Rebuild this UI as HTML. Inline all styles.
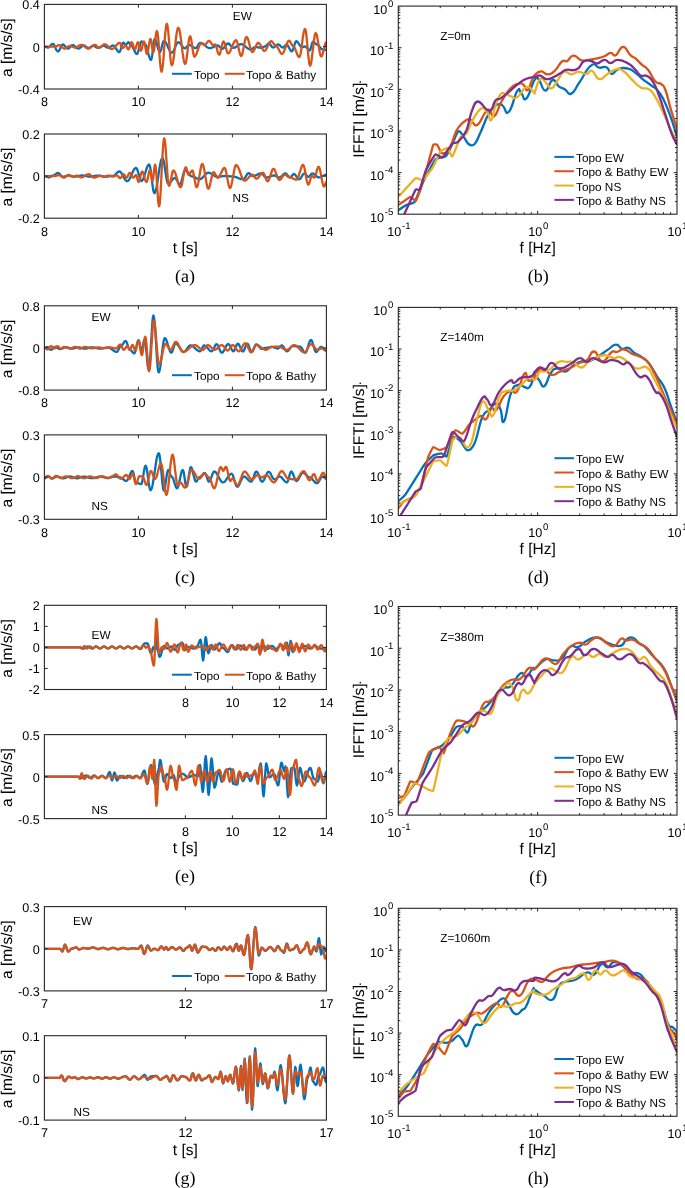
<!DOCTYPE html>
<html><head><meta charset="utf-8"><style>
html,body{margin:0;padding:0;background:#fff;}
body{width:685px;height:1188px;overflow:hidden;}
svg{display:block;will-change:transform;}
text{fill:#000;text-rendering:geometricPrecision;}
</style></head><body>
<svg width="685" height="1188" viewBox="0 0 685 1188">
<rect width="685" height="1188" fill="#fff"/>
<g clip-path="url(#clipL0ew)">
<polyline points="44.4,46.7 44.9,46.7 45.4,46.9 45.9,47.0 46.5,47.2 47.0,47.3 47.5,47.5 48.0,47.5 48.5,47.4 49.1,47.1 49.6,46.6 50.1,46.0 50.7,45.4 51.2,44.8 51.7,44.3 52.3,44.0 52.8,43.9 53.3,44.1 53.8,44.6 54.4,45.5 54.9,46.5 55.4,47.7 55.9,48.9 56.4,49.9 57.0,50.8 57.5,51.3 58.0,51.5 58.5,51.3 59.0,50.7 59.6,49.8 60.1,48.6 60.6,47.4 61.1,46.2 61.7,45.3 62.2,44.7 62.7,44.5 63.2,44.6 63.8,44.9 64.3,45.3 64.8,45.9 65.3,46.5 65.9,47.2 66.4,47.8 66.9,48.2 67.5,48.5 68.0,48.6 68.5,48.5 69.0,48.2 69.5,47.7 70.0,47.2 70.6,46.5 71.1,46.0 71.6,45.5 72.1,45.2 72.6,45.1 73.1,45.2 73.7,45.4 74.2,45.7 74.7,46.1 75.3,46.6 75.8,47.1 76.4,47.6 76.9,48.0 77.4,48.3 78.0,48.5 78.5,48.6 79.0,48.5 79.5,48.3 80.0,48.0 80.5,47.5 81.0,47.1 81.5,46.6 82.0,46.1 82.5,45.8 83.0,45.6 83.5,45.5 84.0,45.6 84.5,45.7 85.0,46.0 85.5,46.4 86.0,46.8 86.5,47.1 87.0,47.5 87.5,47.8 88.0,47.9 88.5,48.0 89.0,47.9 89.5,47.7 90.0,47.5 90.5,47.1 91.0,46.7 91.5,46.4 92.0,46.1 92.5,45.9 93.0,45.8 93.5,45.8 94.0,46.0 94.5,46.2 95.0,46.5 95.5,46.8 96.0,47.1 96.5,47.4 97.0,47.6 97.5,47.8 98.0,47.8 98.5,47.8 99.0,47.6 99.5,47.5 100.0,47.2 100.5,46.9 101.0,46.7 101.5,46.4 102.0,46.1 102.5,46.0 103.0,45.8 103.5,45.8 104.0,45.9 104.6,46.0 105.1,46.3 105.6,46.6 106.2,47.0 106.7,47.3 107.2,47.6 107.8,47.7 108.3,47.8 108.8,47.7 109.3,47.5 109.9,47.2 110.4,46.8 110.9,46.5 111.4,46.1 112.0,45.8 112.5,45.6 113.0,45.5 113.5,45.6 114.0,45.9 114.6,46.5 115.1,47.1 115.6,47.9 116.2,48.8 116.7,49.7 117.2,50.5 117.7,51.1 118.2,51.7 118.8,52.0 119.3,52.1 119.8,51.7 120.3,50.7 120.8,49.2 121.3,47.4 121.8,45.5 122.3,44.0 122.8,43.0 123.3,42.6 123.8,42.8 124.3,43.4 124.8,44.0 125.3,44.6 125.8,44.8 126.3,44.6 126.8,43.9 127.4,43.1 127.9,42.4 128.4,42.2 128.9,42.5 129.4,43.3 130.0,44.4 130.5,45.2 131.0,45.5 131.5,45.7 132.1,46.2 132.6,47.0 133.1,48.0 133.7,49.1 134.2,50.4 134.8,51.5 135.3,52.5 135.8,53.3 136.4,53.8 136.9,54.0 137.4,53.6 137.9,52.5 138.4,50.9 138.9,48.8 139.5,46.7 140.0,44.6 140.5,43.0 141.0,41.9 141.5,41.5 142.0,41.6 142.5,42.0 143.0,42.5 143.5,43.0 144.0,43.5 144.5,43.9 145.0,44.0 145.5,44.3 146.0,45.1 146.5,46.3 147.0,48.0 147.5,49.9 148.0,51.9 148.5,54.0 149.0,55.9 149.5,57.6 150.0,58.8 150.5,59.6 151.0,59.9 151.5,58.9 152.1,55.9 152.6,51.7 153.1,47.1 153.6,42.9 154.2,39.9 154.7,38.9 155.2,39.2 155.7,40.2 156.3,41.6 156.8,43.4 157.3,45.4 157.8,47.5 158.3,49.3 158.9,50.7 159.4,51.7 159.9,52.0 160.4,51.6 160.9,50.4 161.4,48.6 161.9,46.5 162.4,44.3 162.9,42.5 163.4,41.3 163.9,40.9 164.4,41.0 165.0,41.4 165.5,42.0 166.0,42.9 166.5,43.9 167.1,45.0 167.6,46.2 168.1,47.4 168.6,48.6 169.2,49.8 169.7,50.7 170.2,51.6 170.7,52.2 171.3,52.6 171.8,52.7 172.3,52.5 172.8,52.1 173.3,51.4 173.8,50.4 174.3,49.3 174.8,48.1 175.3,46.8 175.8,45.6 176.3,44.5 176.8,43.5 177.3,42.8 177.8,42.4 178.3,42.2 178.8,42.3 179.3,42.5 179.8,43.0 180.3,43.5 180.8,44.2 181.3,44.9 181.9,45.6 182.4,46.3 182.9,47.0 183.4,47.5 183.9,48.0 184.4,48.2 184.9,48.3 185.4,48.2 185.9,47.8 186.4,47.3 186.9,46.6 187.5,46.0 188.0,45.5 188.5,45.1 189.0,45.0 189.5,45.1 190.1,45.2 190.6,45.5 191.1,45.8 191.6,46.1 192.2,46.5 192.7,47.0 193.2,47.3 193.7,47.6 194.2,47.9 194.8,48.0 195.3,48.1 195.8,48.0 196.3,47.6 196.9,47.0 197.4,46.3 197.9,45.5 198.4,44.6 198.9,43.9 199.5,43.3 200.0,42.9 200.5,42.8 201.0,42.8 201.5,43.0 202.0,43.2 202.5,43.4 203.1,43.7 203.6,44.1 204.1,44.5 204.6,45.0 205.1,45.4 205.6,45.9 206.1,46.4 206.6,46.8 207.1,47.2 207.7,47.5 208.2,47.7 208.7,47.9 209.2,48.1 209.7,48.1 210.2,48.1 210.8,48.0 211.3,47.9 211.8,47.7 212.3,47.5 212.9,47.2 213.4,46.9 213.9,46.7 214.4,46.4 215.0,46.1 215.5,45.9 216.0,45.7 216.5,45.6 217.1,45.5 217.6,45.5 218.1,45.6 218.6,45.9 219.1,46.3 219.6,46.9 220.2,47.4 220.7,48.0 221.2,48.4 221.7,48.7 222.2,48.8 222.7,48.7 223.3,48.4 223.8,47.9 224.3,47.3 224.9,46.5 225.4,45.8 226.0,45.0 226.5,44.4 227.0,43.9 227.6,43.6 228.1,43.5 228.6,43.6 229.2,43.9 229.7,44.4 230.2,45.0 230.8,45.6 231.3,46.3 231.8,46.9 232.3,47.4 232.9,47.7 233.4,47.8 233.9,47.8 234.4,47.6 235.0,47.5 235.5,47.2 236.0,46.9 236.5,46.6 237.0,46.2 237.6,45.8 238.1,45.4 238.6,45.1 239.1,44.8 239.6,44.5 240.2,44.4 240.7,44.2 241.2,44.2 241.7,44.2 242.2,44.4 242.7,44.5 243.2,44.8 243.8,45.1 244.3,45.5 244.8,45.9 245.3,46.3 245.8,46.8 246.3,47.3 246.8,47.7 247.3,48.1 247.8,48.5 248.4,48.8 248.9,49.1 249.4,49.2 249.9,49.4 250.4,49.4 250.9,49.3 251.5,49.2 252.0,48.9 252.5,48.6 253.1,48.2 253.6,47.8 254.1,47.5 254.6,47.2 255.2,47.1 255.7,47.0 256.2,47.0 256.8,47.1 257.3,47.2 257.8,47.3 258.4,47.4 258.9,47.5 259.4,47.6 259.9,47.7 260.5,47.8 261.0,47.8 261.5,47.8 262.0,47.6 262.5,47.4 263.0,47.1 263.5,46.9 264.0,46.7 264.5,46.5 265.0,46.5 265.5,46.4 266.1,45.9 266.6,45.3 267.2,44.7 267.7,44.1 268.3,43.6 268.8,43.5 269.3,43.7 269.9,44.1 270.4,44.7 270.9,45.5 271.4,46.3 271.9,46.9 272.5,47.3 273.0,47.5 273.5,47.4 274.0,47.2 274.5,46.9 275.0,46.5 275.5,46.0 276.0,45.5 276.5,45.1 277.0,44.8 277.5,44.6 278.0,44.5 278.5,44.6 279.0,44.8 279.5,45.1 280.0,45.5 280.5,46.0 281.0,46.5 281.5,46.9 282.0,47.2 282.5,47.4 283.0,47.5 283.5,47.4 284.0,46.9 284.5,46.3 285.1,45.7 285.6,45.1 286.1,44.6 286.6,44.5 287.1,44.7 287.6,45.2 288.1,45.9 288.6,46.9 289.1,47.9 289.7,49.0 290.2,50.0 290.7,50.7 291.2,51.2 291.7,51.4 292.2,51.1 292.7,50.2 293.2,48.9 293.7,47.2 294.3,45.4 294.8,43.8 295.3,42.4 295.8,41.5 296.3,41.2 296.8,41.3 297.3,41.7 297.8,42.3 298.3,43.0 298.8,43.8 299.4,44.7 299.9,45.5 300.4,46.2 300.9,46.8 301.4,47.2 301.9,47.3 302.4,47.2 302.9,47.1 303.4,46.9 304.0,46.7 304.5,46.6 305.0,46.5 305.5,46.6 306.0,47.0 306.5,47.5 307.0,48.1 307.6,48.8 308.1,49.4 308.6,49.9 309.1,50.3 309.6,50.4 310.1,50.0 310.6,48.8 311.1,47.0 311.6,45.1 312.1,43.3 312.6,42.1 313.1,41.7 313.6,41.8 314.1,42.1 314.6,42.6 315.1,43.2 315.7,43.8 316.2,44.3 316.7,44.6 317.2,44.7 317.7,44.8 318.2,45.1 318.7,45.6 319.2,46.3 319.8,47.0 320.3,47.7 320.8,48.4 321.3,48.9 321.8,49.2 322.3,49.3 322.8,49.3 323.3,49.4 323.8,49.5 324.4,49.6 324.9,49.7 325.4,49.8 325.9,49.9 326.4,49.9" fill="none" stroke="#0072BD" stroke-width="2.3" stroke-linejoin="round"/>
<polyline points="44.4,46.7 44.9,46.7 45.4,46.7 45.9,46.7 46.4,46.7 46.9,46.7 47.4,46.7 47.9,46.7 48.4,46.7 48.9,46.7 49.4,46.7 50.0,46.7 50.5,46.7 51.0,46.7 51.5,46.7 52.0,46.7 52.5,46.7 53.0,46.7 53.5,46.7 54.0,46.7 54.5,46.7 55.0,46.7 55.5,46.6 56.0,46.5 56.6,46.2 57.1,45.9 57.6,45.6 58.2,45.3 58.7,45.2 59.2,45.1 59.7,45.2 60.2,45.4 60.8,45.8 61.3,46.3 61.8,46.9 62.3,47.4 62.8,47.9 63.4,48.3 63.9,48.5 64.4,48.6 64.9,48.5 65.4,48.4 65.9,48.2 66.4,47.8 66.9,47.5 67.5,47.1 68.0,46.8 68.5,46.4 69.0,46.2 69.5,46.1 70.0,46.0 70.5,46.0 71.0,46.1 71.5,46.3 72.0,46.5 72.5,46.8 73.0,47.0 73.5,47.2 74.0,47.4 74.5,47.5 75.0,47.5 75.5,47.5 76.1,47.3 76.6,47.1 77.1,46.9 77.7,46.5 78.2,46.2 78.7,45.9 79.3,45.5 79.8,45.3 80.3,45.1 80.9,44.9 81.4,44.9 81.9,44.9 82.4,45.1 82.9,45.3 83.4,45.6 83.9,45.9 84.4,46.3 84.9,46.8 85.4,47.2 85.9,47.6 86.4,47.9 86.9,48.2 87.4,48.4 87.9,48.6 88.4,48.6 88.9,48.5 89.5,48.3 90.0,48.0 90.5,47.6 91.1,47.2 91.6,46.7 92.1,46.2 92.7,45.8 93.2,45.4 93.7,45.1 94.3,44.9 94.8,44.8 95.3,44.9 95.8,45.2 96.4,45.7 96.9,46.3 97.4,46.9 98.0,47.4 98.5,47.7 99.0,47.8 99.5,47.7 100.0,47.5 100.6,47.2 101.1,46.8 101.6,46.3 102.1,45.8 102.6,45.3 103.1,44.9 103.7,44.6 104.2,44.4 104.7,44.3 105.2,44.4 105.7,44.5 106.2,44.8 106.7,45.2 107.2,45.6 107.7,46.1 108.2,46.6 108.7,47.2 109.2,47.7 109.7,48.1 110.2,48.5 110.7,48.8 111.2,48.9 111.7,49.0 112.2,48.9 112.7,48.8 113.2,48.5 113.8,48.1 114.3,47.6 114.8,47.1 115.3,46.5 115.8,45.9 116.3,45.3 116.8,44.7 117.3,44.2 117.9,43.7 118.4,43.3 118.9,43.0 119.4,42.9 119.9,42.8 120.4,43.3 120.9,44.6 121.5,46.3 122.0,47.6 122.5,48.1 123.0,47.9 123.5,47.5 124.0,46.8 124.5,46.1 125.0,45.7 125.5,45.5 126.1,45.9 126.7,46.8 127.2,48.1 127.8,49.0 128.4,49.4 128.9,48.9 129.5,47.6 130.1,45.8 130.6,44.0 131.1,42.7 131.7,42.2 132.2,42.7 132.8,44.0 133.3,45.8 133.9,47.6 134.4,48.9 135.0,49.4 135.6,48.7 136.2,46.9 136.7,44.7 137.3,42.9 137.9,42.2 138.4,42.8 138.9,44.3 139.4,46.5 139.9,48.6 140.4,50.1 140.9,50.7 141.4,50.1 141.9,48.4 142.4,46.1 142.9,43.8 143.4,42.1 143.9,41.5 144.4,42.3 144.9,44.6 145.4,47.8 146.0,50.9 146.5,53.2 147.0,54.0 147.5,53.3 148.0,51.2 148.5,48.1 149.0,44.8 149.5,41.7 150.0,39.6 150.5,38.9 151.1,40.2 151.7,43.4 152.2,47.5 152.8,50.7 153.4,52.0 153.9,51.0 154.4,48.0 154.9,43.8 155.4,39.2 155.9,35.0 156.4,32.0 156.9,31.0 157.4,32.2 157.9,35.8 158.5,41.2 159.0,47.9 159.5,54.9 160.0,61.6 160.6,67.0 161.1,70.6 161.6,71.8 162.1,70.6 162.6,67.2 163.2,61.9 163.7,55.2 164.2,47.8 164.7,40.4 165.2,33.7 165.8,28.4 166.3,25.0 166.8,23.8 167.3,24.8 167.8,27.8 168.3,32.3 168.8,38.1 169.3,44.5 169.8,50.9 170.3,56.7 170.8,61.2 171.3,64.2 171.8,65.2 172.3,64.7 172.8,63.1 173.3,60.5 173.8,57.1 174.3,53.1 174.8,48.7 175.3,44.2 175.8,39.8 176.3,35.8 176.8,32.4 177.3,29.8 177.8,28.2 178.3,27.7 178.8,28.2 179.4,29.8 179.9,32.3 180.4,35.5 181.0,39.4 181.5,43.6 182.0,48.0 182.5,52.2 183.1,56.1 183.6,59.3 184.1,61.8 184.7,63.4 185.2,63.9 185.7,63.1 186.3,60.7 186.8,57.0 187.4,52.5 187.9,47.7 188.5,43.2 189.0,39.5 189.6,37.1 190.1,36.3 190.6,37.1 191.2,39.3 191.7,42.6 192.2,46.4 192.8,50.3 193.3,53.6 193.9,55.8 194.4,56.6 194.9,56.4 195.4,55.8 196.0,55.0 196.5,53.8 197.0,52.4 197.5,50.8 198.1,49.3 198.6,47.7 199.1,46.3 199.6,45.1 200.2,44.3 200.7,43.7 201.2,43.5 201.8,43.6 202.3,43.9 202.8,44.2 203.4,44.6 203.9,44.9 204.5,45.0 205.0,44.9 205.5,44.5 206.0,44.0 206.5,43.3 207.1,42.6 207.6,41.9 208.1,41.4 208.6,41.0 209.1,40.9 209.7,41.1 210.2,41.7 210.8,42.5 211.3,43.4 211.9,44.2 212.4,44.8 213.0,45.0 213.5,44.9 214.0,44.8 214.5,44.6 215.0,44.5 215.5,44.9 216.1,46.0 216.6,47.6 217.1,49.6 217.6,51.6 218.1,53.2 218.7,54.3 219.2,54.7 219.7,54.2 220.3,52.8 220.8,50.6 221.3,48.1 221.9,45.6 222.4,43.4 223.0,42.0 223.5,41.5 224.0,41.9 224.5,42.9 225.0,44.5 225.5,46.4 226.1,48.5 226.6,50.4 227.1,52.0 227.6,53.0 228.1,53.4 228.6,53.3 229.2,52.8 229.7,52.1 230.2,51.2 230.7,50.1 231.3,48.8 231.8,47.5 232.3,46.1 232.8,44.8 233.4,43.5 233.9,42.4 234.4,41.5 234.9,40.8 235.5,40.3 236.0,40.2 236.5,40.6 237.0,41.7 237.6,43.5 238.1,45.7 238.6,48.1 239.1,50.5 239.6,52.7 240.2,54.5 240.7,55.6 241.2,56.0 241.7,55.5 242.3,54.2 242.8,52.1 243.3,49.4 243.8,46.5 244.4,43.5 244.9,40.8 245.4,38.7 246.0,37.4 246.5,36.9 247.0,37.2 247.6,38.1 248.1,39.5 248.6,41.3 249.2,43.4 249.7,45.5 250.3,47.6 250.8,49.4 251.3,50.8 251.9,51.7 252.4,52.0 252.9,51.8 253.5,51.3 254.0,50.4 254.5,49.3 255.1,48.1 255.6,46.7 256.2,45.5 256.7,44.4 257.2,43.5 257.8,43.0 258.3,42.8 258.8,42.9 259.3,43.3 259.8,44.0 260.3,44.8 260.8,45.8 261.4,46.8 261.9,47.9 262.4,48.9 262.9,49.7 263.4,50.4 263.9,50.8 264.4,50.9 264.9,50.8 265.4,50.3 266.0,49.7 266.5,48.8 267.0,47.8 267.5,46.6 268.1,45.5 268.6,44.3 269.1,43.3 269.6,42.4 270.2,41.8 270.7,41.3 271.2,41.2 271.7,41.3 272.3,41.8 272.8,42.4 273.3,43.2 273.9,44.0 274.4,44.8 274.9,45.4 275.5,45.9 276.0,46.0 276.5,46.1 277.0,46.5 277.5,47.2 278.0,48.0 278.5,48.9 279.0,49.9 279.5,51.0 280.0,51.9 280.5,52.7 281.0,53.4 281.5,53.8 282.0,53.9 282.5,53.7 283.0,53.2 283.5,52.5 284.0,51.4 284.5,50.2 285.0,48.8 285.6,47.3 286.1,45.8 286.6,44.4 287.1,43.2 287.6,42.1 288.1,41.4 288.6,40.9 289.1,40.7 289.7,41.0 290.2,41.7 290.8,42.8 291.3,43.9 291.9,45.0 292.4,45.7 293.0,46.0 293.5,46.2 294.1,46.7 294.6,47.6 295.1,48.8 295.6,50.1 296.1,51.5 296.7,52.9 297.2,54.2 297.7,55.4 298.2,56.3 298.8,56.8 299.3,57.0 299.8,56.4 300.3,54.8 300.9,52.2 301.4,48.8 301.9,44.9 302.4,41.0 302.9,37.1 303.4,33.7 304.0,31.1 304.5,29.5 305.0,28.9 305.5,29.8 306.0,32.4 306.5,36.5 307.0,41.6 307.6,47.3 308.1,53.0 308.6,58.1 309.1,62.2 309.6,64.8 310.1,65.7 310.6,65.0 311.1,63.1 311.6,60.1 312.1,56.1 312.6,51.7 313.2,47.0 313.7,42.6 314.2,38.6 314.7,35.6 315.2,33.7 315.7,33.0 316.2,33.5 316.7,34.9 317.2,37.1 317.7,39.9 318.2,43.1 318.8,46.4 319.3,49.6 319.8,52.4 320.3,54.6 320.8,56.0 321.3,56.5 321.8,56.2 322.3,55.1 322.8,53.6 323.3,51.6 323.9,49.4 324.4,47.1 324.9,45.1 325.4,43.6 325.9,42.5 326.4,42.2" fill="none" stroke="#D95319" stroke-width="2.3" stroke-linejoin="round"/>
</g>
<clipPath id="clipL0ew"><rect x="44.4" y="4.4" width="282" height="84.6"/></clipPath>
<rect x="44.4" y="4.4" width="282" height="84.6" fill="none" stroke="#262626" stroke-width="1.1"/>
<text x="44.4" y="106.3" font-size="12.6" text-anchor="middle" font-family='"Liberation Sans", sans-serif' >8</text>
<path d="M138.4 89v-3.3M138.4 4.4v3.3" stroke="#262626" stroke-width="1"/>
<text x="138.4" y="106.3" font-size="12.6" text-anchor="middle" font-family='"Liberation Sans", sans-serif' >10</text>
<path d="M232.4 89v-3.3M232.4 4.4v3.3" stroke="#262626" stroke-width="1"/>
<text x="232.4" y="106.3" font-size="12.6" text-anchor="middle" font-family='"Liberation Sans", sans-serif' >12</text>
<text x="326.4" y="106.3" font-size="12.6" text-anchor="middle" font-family='"Liberation Sans", sans-serif' >14</text>
<text x="39.8" y="93.9" font-size="12.6" text-anchor="end" font-family='"Liberation Sans", sans-serif' >-0.4</text>
<path d="M44.4 46.7h3.3M326.4 46.7h-3.3" stroke="#262626" stroke-width="1"/>
<text x="39.8" y="51.6" font-size="12.6" text-anchor="end" font-family='"Liberation Sans", sans-serif' >0</text>
<text x="39.8" y="9.3" font-size="12.6" text-anchor="end" font-family='"Liberation Sans", sans-serif' >0.4</text>
<text transform="translate(11.6 47.7) rotate(-90)" font-size="15.5" text-anchor="middle" font-family='"Liberation Sans", sans-serif' fill="#000">a [m/s/s]</text>
<text x="232.8" y="19.8" font-size="11.8" text-anchor="start" font-family='"Liberation Sans", sans-serif' >EW</text>
<g clip-path="url(#clipL0ns)">
<polyline points="44.4,176.1 44.9,176.1 45.4,176.3 45.9,176.4 46.4,176.6 47.0,176.9 47.5,177.1 48.0,177.2 48.5,177.4 49.0,177.4 49.5,177.3 50.0,177.1 50.5,176.8 51.0,176.5 51.5,176.1 52.0,175.8 52.5,175.6 53.0,175.5 53.5,175.4 54.0,175.3 54.5,175.0 55.0,174.6 55.5,174.2 56.0,173.9 56.5,173.5 57.0,173.2 57.5,173.1 58.0,173.0 58.5,173.1 59.0,173.4 59.5,173.8 60.0,174.3 60.5,174.9 61.0,175.5 61.5,176.0 62.0,176.4 62.5,176.7 63.0,176.8 63.5,176.8 64.0,176.7 64.5,176.6 65.0,176.4 65.5,176.2 66.0,176.0 66.5,175.8 67.0,175.7 67.5,175.6 68.0,175.6 68.5,175.6 69.0,175.6 69.5,175.7 70.0,175.8 70.5,175.9 71.0,176.0 71.5,176.1 72.0,176.2 72.5,176.3 73.0,176.4 73.5,176.5 74.0,176.6 74.5,176.6 75.0,176.6 75.5,176.6 76.0,176.5 76.5,176.5 77.0,176.4 77.5,176.3 78.0,176.2 78.5,176.1 79.0,175.9 79.5,175.8 80.0,175.7 80.5,175.6 81.0,175.6 81.5,175.5 82.0,175.5 82.5,175.5 83.0,175.5 83.5,175.6 84.0,175.7 84.5,175.7 85.0,175.8 85.5,175.9 86.0,176.0 86.5,176.2 87.0,176.3 87.5,176.4 88.0,176.4 88.5,176.5 89.0,176.6 89.5,176.6 90.0,176.6 90.5,176.6 91.0,176.6 91.5,176.5 92.0,176.5 92.5,176.4 93.0,176.3 93.5,176.2 94.0,176.1 94.5,176.0 95.0,175.9 95.5,175.8 96.0,175.7 96.5,175.7 97.0,175.6 97.5,175.6 98.0,175.6 98.5,175.6 99.0,175.6 99.5,175.7 100.0,175.7 100.5,175.8 101.0,175.9 101.5,176.0 102.0,176.1 102.5,176.2 103.0,176.3 103.5,176.4 104.0,176.5 104.5,176.5 105.0,176.6 105.5,176.6 106.0,176.6 106.5,176.6 107.0,176.6 107.5,176.5 108.0,176.4 108.5,176.4 109.0,176.3 109.5,176.2 110.0,176.1 110.5,176.0 111.0,176.0 111.5,175.9 112.0,175.8 112.5,175.8 113.0,175.8 113.5,175.7 114.0,175.5 114.6,175.2 115.1,174.7 115.6,174.2 116.2,173.7 116.7,173.1 117.2,172.6 117.7,172.1 118.2,171.8 118.8,171.6 119.3,171.5 119.8,171.6 120.4,171.9 120.9,172.4 121.4,173.1 121.9,173.9 122.5,174.9 123.0,175.8 123.5,176.9 124.0,177.8 124.6,178.8 125.1,179.6 125.6,180.3 126.1,180.8 126.7,181.1 127.2,181.2 127.7,181.1 128.2,180.8 128.8,180.2 129.3,179.5 129.8,178.6 130.3,177.5 130.8,176.4 131.3,175.2 131.9,174.0 132.4,172.8 132.9,171.7 133.4,170.6 133.9,169.7 134.4,169.0 135.0,168.4 135.5,168.1 136.0,168.0 136.5,168.3 137.0,169.0 137.5,170.2 138.0,171.8 138.5,173.6 139.0,175.4 139.5,177.2 140.0,178.8 140.5,180.0 141.0,180.7 141.5,181.0 142.0,180.8 142.5,180.3 143.0,179.4 143.5,178.3 144.0,176.9 144.5,175.3 145.0,173.6 145.6,171.9 146.1,170.2 146.6,168.6 147.1,167.2 147.6,166.1 148.1,165.2 148.6,164.7 149.1,164.5 149.6,165.2 150.2,167.2 150.7,170.4 151.2,174.4 151.8,178.8 152.3,183.2 152.8,187.2 153.3,190.4 153.9,192.4 154.4,193.1 154.9,192.8 155.4,191.8 155.9,190.2 156.4,188.0 156.9,185.3 157.4,182.3 157.9,179.0 158.4,175.6 158.9,172.2 159.4,168.9 159.9,165.9 160.4,163.2 160.9,161.0 161.4,159.4 161.9,158.4 162.4,158.1 162.9,158.6 163.5,160.1 164.0,162.5 164.5,165.6 165.0,169.0 165.6,172.7 166.1,176.1 166.6,179.2 167.1,181.6 167.7,183.1 168.2,183.6 168.7,183.5 169.2,183.3 169.7,182.9 170.2,182.4 170.7,181.8 171.2,181.1 171.8,180.5 172.3,179.8 172.8,179.2 173.3,178.7 173.8,178.3 174.3,178.1 174.8,178.0 175.3,178.2 175.8,178.6 176.3,179.3 176.8,180.2 177.4,181.2 177.9,182.2 178.4,183.1 178.9,183.8 179.4,184.2 179.9,184.4 180.4,184.1 180.9,183.1 181.4,181.5 181.9,179.6 182.4,177.5 183.0,175.3 183.5,173.4 184.0,171.8 184.5,170.8 185.0,170.5 185.5,170.6 186.0,170.8 186.6,171.2 187.1,171.6 187.6,172.2 188.1,172.8 188.7,173.5 189.2,174.2 189.7,174.8 190.2,175.4 190.7,175.8 191.3,176.2 191.8,176.4 192.3,176.5 192.8,176.5 193.3,176.6 193.9,176.8 194.4,177.0 194.9,177.3 195.4,177.6 195.9,177.9 196.5,178.2 197.0,178.5 197.5,178.8 198.0,179.0 198.6,179.2 199.1,179.3 199.6,179.3 200.1,179.2 200.6,179.1 201.2,178.8 201.7,178.4 202.2,178.0 202.7,177.5 203.2,176.9 203.7,176.3 204.3,175.7 204.8,175.1 205.3,174.5 205.8,174.0 206.3,173.6 206.8,173.2 207.4,172.9 207.9,172.8 208.4,172.7 208.9,172.7 209.4,172.8 209.9,173.0 210.4,173.2 210.9,173.5 211.4,173.8 211.9,174.2 212.4,174.5 213.0,174.9 213.5,175.2 214.0,175.6 214.5,175.9 215.0,176.2 215.5,176.4 216.0,176.6 216.5,176.7 217.0,176.7 217.5,176.7 218.0,176.7 218.5,176.7 219.0,176.6 219.5,176.6 220.0,176.5 220.5,176.5 221.0,176.4 221.5,176.3 222.0,176.3 222.5,176.2 223.0,176.2 223.5,176.1 224.0,176.1 224.5,176.0 225.0,176.0 225.5,176.0 226.0,176.0 226.5,176.0 227.0,176.0 227.5,176.1 228.0,176.1 228.5,176.1 229.0,176.2 229.5,176.3 230.0,176.3 230.5,176.3 231.0,176.4 231.5,176.4 232.0,176.4 232.5,176.4 233.0,176.5 233.6,176.5 234.1,176.6 234.6,176.8 235.1,176.9 235.6,177.1 236.1,177.2 236.7,177.4 237.2,177.6 237.7,177.8 238.2,178.1 238.7,178.3 239.3,178.5 239.8,178.6 240.3,178.8 240.8,178.9 241.3,179.1 241.8,179.2 242.4,179.2 242.9,179.3 243.4,179.3 243.9,179.2 244.4,178.7 244.9,178.0 245.4,177.2 245.9,176.2 246.5,175.3 247.0,174.5 247.5,173.8 248.0,173.3 248.5,173.2 249.0,173.3 249.5,173.5 250.0,173.9 250.5,174.4 251.1,174.9 251.6,175.4 252.1,175.8 252.6,176.0 253.1,176.1 253.6,176.1 254.2,176.0 254.7,175.8 255.2,175.7 255.7,175.4 256.3,175.2 256.8,174.9 257.3,174.6 257.8,174.3 258.4,174.1 258.9,173.8 259.4,173.7 259.9,173.5 260.5,173.4 261.0,173.4 261.5,173.5 262.1,173.8 262.6,174.2 263.1,174.8 263.6,175.4 264.2,176.1 264.7,176.7 265.2,177.1 265.8,177.4 266.3,177.5 266.8,177.5 267.3,177.4 267.8,177.3 268.4,177.2 268.9,177.0 269.4,176.8 269.9,176.6 270.4,176.4 270.9,176.2 271.4,176.0 271.9,175.8 272.5,175.7 273.0,175.6 273.5,175.5 274.0,175.5 274.5,175.5 275.1,175.7 275.6,175.9 276.2,176.2 276.7,176.5 277.2,176.8 277.8,177.1 278.3,177.3 278.9,177.5 279.4,177.5 279.9,177.4 280.5,177.2 281.0,176.8 281.5,176.3 282.1,175.7 282.6,175.2 283.2,174.6 283.7,174.1 284.2,173.7 284.8,173.5 285.3,173.4 285.8,173.5 286.3,173.9 286.9,174.4 287.4,175.1 287.9,175.8 288.4,176.5 289.0,177.0 289.5,177.4 290.0,177.5 290.6,177.3 291.1,176.8 291.7,176.1 292.2,175.4 292.8,174.7 293.3,174.2 293.9,174.0 294.4,174.1 294.9,174.5 295.5,175.1 296.0,175.8 296.5,176.7 297.0,177.5 297.5,178.2 298.1,178.8 298.6,179.2 299.1,179.3 299.6,179.2 300.2,178.7 300.7,178.1 301.2,177.3 301.8,176.4 302.3,175.5 302.8,174.7 303.3,174.1 303.9,173.6 304.4,173.5 305.0,173.7 305.5,174.1 306.1,174.8 306.6,175.5 307.2,176.2 307.7,176.6 308.3,176.8 308.8,176.7 309.3,176.3 309.8,175.8 310.3,175.2 310.8,174.5 311.3,174.0 311.8,173.6 312.3,173.5 312.8,173.6 313.3,173.7 313.8,174.0 314.3,174.3 314.8,174.8 315.3,175.2 315.8,175.7 316.3,176.1 316.8,176.6 317.3,176.9 317.8,177.2 318.3,177.3 318.8,177.4 319.3,177.4 319.8,177.3 320.3,177.2 320.8,177.0 321.3,176.8 321.8,176.5 322.3,176.2 322.9,176.0 323.4,175.7 323.9,175.5 324.4,175.2 324.9,175.0 325.4,174.9 325.9,174.8 326.4,174.8" fill="none" stroke="#0072BD" stroke-width="2.3" stroke-linejoin="round"/>
<polyline points="44.4,176.1 44.9,176.1 45.4,176.1 45.9,176.1 46.4,176.1 46.9,176.1 47.4,176.1 47.9,176.1 48.4,176.1 48.9,176.1 49.5,176.1 50.0,176.1 50.5,176.1 51.0,176.1 51.5,176.1 52.0,176.1 52.5,176.1 53.0,176.1 53.5,176.1 54.0,176.1 54.5,176.1 55.0,176.0 55.5,175.9 56.0,175.8 56.5,175.7 57.0,175.5 57.5,175.4 58.0,175.3 58.5,175.2 59.0,175.2 59.5,175.3 60.0,175.4 60.5,175.7 61.0,176.0 61.5,176.4 62.0,176.8 62.5,177.1 63.0,177.4 63.5,177.5 64.0,177.6 64.5,177.5 65.0,177.3 65.5,176.9 66.0,176.5 66.5,176.1 67.0,175.7 67.5,175.3 68.0,175.1 68.5,175.0 69.0,175.1 69.5,175.2 70.0,175.4 70.5,175.7 71.0,176.1 71.5,176.3 72.0,176.6 72.5,176.7 73.0,176.8 73.5,176.8 74.0,176.6 74.5,176.4 75.0,176.2 75.5,176.0 76.0,175.8 76.5,175.6 77.0,175.6 77.5,175.7 78.0,175.9 78.5,176.2 79.0,176.5 79.5,176.8 80.0,177.1 80.5,177.3 81.0,177.4 81.5,177.4 82.0,177.3 82.5,177.1 83.1,176.9 83.6,176.6 84.1,176.3 84.6,176.0 85.1,175.6 85.6,175.3 86.1,175.0 86.6,174.7 87.2,174.5 87.7,174.3 88.2,174.2 88.7,174.2 89.2,174.3 89.8,174.5 90.3,174.9 90.8,175.4 91.3,175.9 91.9,176.4 92.4,176.9 92.9,177.3 93.5,177.5 94.0,177.6 94.5,177.6 95.0,177.5 95.5,177.4 96.0,177.2 96.5,177.0 97.0,176.8 97.5,176.6 98.0,176.4 98.5,176.2 99.0,176.1 99.5,176.0 100.0,176.0 100.5,176.0 101.0,176.1 101.5,176.2 102.0,176.4 102.5,176.6 103.0,176.7 103.5,176.8 104.0,176.8 104.5,176.8 105.0,176.6 105.5,176.4 106.0,176.2 106.5,176.0 107.0,175.8 107.5,175.6 108.0,175.6 108.5,175.6 109.0,175.7 109.5,175.8 110.0,175.9 110.5,176.0 111.0,176.2 111.5,176.3 112.0,176.4 112.5,176.5 113.0,176.5 113.5,176.5 114.0,176.4 114.5,176.2 115.0,176.0 115.5,175.8 116.0,175.6 116.5,175.5 117.0,175.5 117.5,175.7 118.1,176.2 118.6,176.8 119.1,177.5 119.7,178.0 120.2,178.2 120.7,178.0 121.2,177.4 121.7,176.6 122.2,175.8 122.7,175.0 123.2,174.4 123.7,174.2 124.2,174.5 124.7,175.4 125.3,176.6 125.8,177.5 126.3,177.8 126.8,177.6 127.3,176.9 127.8,175.9 128.3,174.8 128.8,173.8 129.3,173.1 129.8,172.9 130.3,173.1 130.8,173.8 131.3,174.8 131.8,175.8 132.3,176.8 132.8,177.5 133.3,177.7 133.8,177.4 134.4,176.8 134.9,175.9 135.5,175.3 136.0,175.0 136.5,175.7 137.0,177.4 137.6,179.6 138.1,181.3 138.6,182.0 139.1,181.5 139.6,180.0 140.1,177.9 140.6,175.6 141.1,173.5 141.6,172.0 142.1,171.5 142.7,171.9 143.2,173.0 143.8,174.7 144.3,176.8 144.8,178.8 145.4,180.5 145.9,181.6 146.5,182.0 147.0,181.4 147.5,179.7 148.0,177.3 148.5,174.7 149.0,172.3 149.5,170.6 150.0,170.0 150.5,171.1 151.0,173.8 151.5,177.2 152.0,179.9 152.5,181.0 153.0,179.4 153.5,175.4 154.1,170.3 154.6,166.3 155.1,164.7 155.6,166.3 156.1,170.8 156.6,177.5 157.1,185.5 157.6,193.5 158.1,200.2 158.6,204.7 159.1,206.3 159.6,204.6 160.1,199.8 160.6,192.3 161.1,182.8 161.6,172.4 162.2,161.9 162.7,152.4 163.2,144.9 163.7,140.1 164.2,138.4 164.7,139.8 165.3,143.9 165.8,150.2 166.3,158.0 166.9,166.2 167.4,173.9 167.9,180.3 168.5,184.4 169.0,185.8 169.6,185.2 170.1,183.6 170.7,181.1 171.2,178.2 171.8,175.2 172.3,172.7 172.8,171.1 173.4,170.5 173.9,170.7 174.4,171.3 175.0,172.3 175.5,173.7 176.0,175.3 176.5,177.0 177.1,178.9 177.6,180.8 178.1,182.5 178.6,184.1 179.1,185.5 179.7,186.5 180.2,187.1 180.7,187.3 181.2,186.8 181.7,185.4 182.2,183.2 182.7,180.4 183.2,177.3 183.8,174.2 184.3,171.4 184.8,169.2 185.3,167.8 185.8,167.3 186.4,168.0 187.0,170.0 187.5,172.3 188.1,174.3 188.7,175.0 189.2,174.8 189.7,174.2 190.2,173.3 190.8,172.2 191.3,171.3 191.8,170.7 192.3,170.5 192.9,171.1 193.4,173.0 193.9,175.7 194.5,178.9 195.1,182.1 195.6,184.8 196.1,186.7 196.7,187.3 197.2,186.8 197.7,185.4 198.2,183.3 198.7,180.5 199.2,177.3 199.8,173.9 200.3,170.7 200.8,167.9 201.3,165.8 201.8,164.4 202.3,163.9 202.8,164.3 203.3,165.6 203.8,167.5 204.3,170.1 204.8,173.1 205.4,176.3 205.9,179.5 206.4,182.5 206.9,185.1 207.4,187.0 207.9,188.3 208.4,188.7 208.9,188.3 209.4,187.1 209.9,185.3 210.4,183.0 210.9,180.4 211.5,177.9 212.0,175.6 212.5,173.8 213.0,172.6 213.5,172.2 214.1,172.4 214.6,173.0 215.2,173.9 215.7,175.0 216.2,176.1 216.8,177.0 217.3,177.6 217.9,177.8 218.4,177.7 218.9,177.2 219.4,176.6 219.9,175.7 220.4,174.6 220.9,173.4 221.5,172.3 222.0,171.1 222.5,170.0 223.0,169.1 223.5,168.5 224.0,168.0 224.5,167.9 225.0,168.3 225.5,169.5 226.0,171.4 226.5,173.8 227.0,176.5 227.5,179.4 228.0,182.1 228.5,184.5 229.0,186.4 229.5,187.6 230.0,188.0 230.5,187.6 231.0,186.5 231.5,184.6 232.0,182.3 232.5,179.5 233.1,176.6 233.6,173.6 234.1,170.8 234.6,168.5 235.1,166.6 235.6,165.5 236.1,165.1 236.6,165.2 237.1,165.6 237.6,166.3 238.1,167.1 238.6,168.2 239.1,169.4 239.6,170.7 240.1,172.1 240.6,173.6 241.1,175.0 241.6,176.3 242.1,177.5 242.6,178.6 243.1,179.4 243.6,180.1 244.1,180.5 244.6,180.6 245.1,180.5 245.7,180.3 246.2,180.0 246.7,179.6 247.2,179.1 247.8,178.6 248.3,178.0 248.8,177.3 249.3,176.7 249.9,176.2 250.4,175.7 250.9,175.3 251.4,175.0 252.0,174.8 252.5,174.7 253.1,174.9 253.6,175.5 254.2,176.3 254.7,177.1 255.3,177.9 255.8,178.5 256.4,178.7 256.9,178.6 257.4,178.4 257.9,178.0 258.4,177.4 258.9,176.8 259.4,176.1 260.0,175.4 260.5,174.7 261.0,174.1 261.5,173.5 262.0,173.1 262.5,172.9 263.0,172.8 263.5,173.1 264.0,173.8 264.5,174.9 265.0,176.3 265.6,177.8 266.1,179.2 266.6,180.3 267.1,181.0 267.6,181.3 268.1,181.0 268.7,180.3 269.2,179.1 269.7,177.6 270.3,175.9 270.8,174.2 271.4,172.5 271.9,171.0 272.4,169.8 273.0,169.1 273.5,168.8 274.0,169.0 274.6,169.7 275.1,170.7 275.6,172.1 276.2,173.6 276.7,175.2 277.3,176.7 277.8,178.1 278.3,179.1 278.9,179.8 279.4,180.0 279.9,179.9 280.5,179.5 281.0,178.9 281.5,178.2 282.0,177.3 282.6,176.5 283.1,175.8 283.6,175.2 284.2,174.8 284.7,174.7 285.2,174.8 285.8,175.0 286.3,175.4 286.9,175.8 287.4,176.3 287.9,176.7 288.5,176.9 289.0,177.0 289.5,177.0 290.0,177.1 290.5,177.3 291.0,177.4 291.5,177.7 292.0,177.9 292.5,178.2 293.0,178.5 293.5,178.8 294.0,179.0 294.5,179.3 295.0,179.4 295.5,179.6 296.0,179.7 296.5,179.7 297.0,179.5 297.5,178.9 298.0,177.8 298.5,176.5 299.0,174.9 299.5,173.2 300.1,171.4 300.6,169.7 301.1,168.1 301.6,166.8 302.1,165.7 302.6,165.1 303.1,164.9 303.6,165.4 304.1,166.8 304.7,169.0 305.2,171.7 305.7,174.8 306.2,177.8 306.7,180.5 307.3,182.7 307.8,184.1 308.3,184.6 308.8,184.2 309.4,183.0 309.9,181.3 310.4,179.3 310.9,177.6 311.5,176.4 312.0,176.0 312.6,176.2 313.1,176.8 313.6,177.3 314.2,177.5 314.8,177.1 315.3,175.9 315.9,174.2 316.4,172.2 316.9,170.1 317.5,168.4 318.1,167.2 318.6,166.8 319.1,167.2 319.6,168.4 320.1,170.2 320.6,172.6 321.1,175.3 321.6,178.1 322.1,180.8 322.6,183.2 323.1,185.0 323.6,186.2 324.1,186.6 324.7,185.9 325.2,184.3 325.8,182.7 326.4,182.0" fill="none" stroke="#D95319" stroke-width="2.3" stroke-linejoin="round"/>
</g>
<clipPath id="clipL0ns"><rect x="44.4" y="134" width="282" height="84.2"/></clipPath>
<rect x="44.4" y="134" width="282" height="84.2" fill="none" stroke="#262626" stroke-width="1.1"/>
<text x="44.4" y="235.5" font-size="12.6" text-anchor="middle" font-family='"Liberation Sans", sans-serif' >8</text>
<path d="M138.4 218.2v-3.3M138.4 134v3.3" stroke="#262626" stroke-width="1"/>
<text x="138.4" y="235.5" font-size="12.6" text-anchor="middle" font-family='"Liberation Sans", sans-serif' >10</text>
<path d="M232.4 218.2v-3.3M232.4 134v3.3" stroke="#262626" stroke-width="1"/>
<text x="232.4" y="235.5" font-size="12.6" text-anchor="middle" font-family='"Liberation Sans", sans-serif' >12</text>
<text x="326.4" y="235.5" font-size="12.6" text-anchor="middle" font-family='"Liberation Sans", sans-serif' >14</text>
<text x="39.8" y="223.1" font-size="12.6" text-anchor="end" font-family='"Liberation Sans", sans-serif' >-0.2</text>
<path d="M44.4 176.1h3.3M326.4 176.1h-3.3" stroke="#262626" stroke-width="1"/>
<text x="39.8" y="181" font-size="12.6" text-anchor="end" font-family='"Liberation Sans", sans-serif' >0</text>
<text x="39.8" y="138.9" font-size="12.6" text-anchor="end" font-family='"Liberation Sans", sans-serif' >0.2</text>
<text transform="translate(11.6 177.1) rotate(-90)" font-size="15.5" text-anchor="middle" font-family='"Liberation Sans", sans-serif' fill="#000">a [m/s/s]</text>
<text x="232.6" y="201.7" font-size="11.8" text-anchor="start" font-family='"Liberation Sans", sans-serif' >NS</text>
<path d="M172 73.8h19.8" stroke="#0072BD" stroke-width="2"/>
<text x="194" y="78.6" font-size="11.8" text-anchor="start" font-family='"Liberation Sans", sans-serif' >Topo</text>
<path d="M224.8 73.8h19.8" stroke="#D95319" stroke-width="2"/>
<text x="246" y="78.6" font-size="11.8" text-anchor="start" font-family='"Liberation Sans", sans-serif' >Topo &amp; Bathy</text>
<text x="185.3" y="253" font-size="15.5" text-anchor="middle" font-family='"Liberation Sans", sans-serif' >t [s]</text>
<text x="185" y="281.9" font-size="18" text-anchor="middle" font-family='"Liberation Serif", serif' >(a)</text>
<g clip-path="url(#clipR0)">
<path d="M398.3,210.3C398.7,210.0 405.5,205.5 406.3,205.1C407.1,204.7 413.8,203.1 414.6,202.0C415.4,200.9 421.9,184.4 422.9,182.3C423.9,180.2 434.2,160.8 435.3,159.5C436.4,158.2 444.9,157.1 445.7,156.4C446.9,155.3 451.0,146.9 451.9,145.0C453.2,142.4 457.0,132.6 458.1,131.5C459.5,130.1 460.9,132.9 462.3,134.6C463.9,136.5 466.6,142.6 468.5,144.0C470.8,145.7 472.4,146.3 474.7,144.0C477.3,141.3 477.8,138.1 480.9,131.5C484.4,124.0 485.2,119.4 489.2,112.9C493.6,105.7 493.9,106.5 497.5,104.6C501.1,102.7 499.7,103.7 502.7,105.6C505.7,107.5 505.0,115.7 508.9,111.8C512.8,107.9 513.9,96.1 517.2,91.1C520.5,86.1 518.8,91.3 521.3,93.2C523.8,95.1 522.9,102.0 526.5,98.4C530.1,94.8 531.4,84.6 534.8,79.7C538.2,74.8 536.3,77.2 539.1,80.1C541.9,83.0 541.8,90.5 545.4,90.5C549.0,90.5 549.0,81.2 552.6,80.1C556.2,79.0 555.5,83.8 558.8,86.3C562.1,88.8 561.7,87.5 565.0,89.4C568.3,91.3 567.4,95.5 571.3,93.6C575.2,91.7 574.3,89.7 579.6,82.2C584.9,74.7 585.7,69.5 591.0,65.6C596.3,61.7 595.2,67.2 599.3,67.7C603.4,68.2 603.2,65.6 606.5,67.3C609.8,69.0 608.7,73.4 611.7,73.9C614.7,74.4 613.5,70.7 617.9,69.3C622.3,67.9 623.3,67.5 628.3,68.7C633.3,69.9 632.5,70.9 636.6,73.9C640.7,76.9 639.9,77.1 643.8,80.1C647.7,83.1 646.9,82.0 651.1,85.3C655.3,88.6 655.0,86.3 659.4,92.6C663.8,98.9 663.0,97.5 667.7,109.1C672.4,120.7 674.5,128.9 677.0,136.1" fill="none" stroke="#0072BD" stroke-width="2.3" stroke-linejoin="round" stroke-linecap="round"/>
<path d="M398.3,205.1C398.9,204.7 409.5,197.0 410.4,196.8C411.3,196.6 415.1,201.4 415.6,201.0C416.1,200.6 420.2,190.2 420.8,188.5C421.4,186.8 426.4,170.0 427.0,167.8C427.6,165.6 432.7,146.1 433.2,145.0C433.7,143.9 437.0,144.6 437.4,145.0C437.8,145.4 440.9,153.0 441.5,153.3C442.1,153.6 448.0,152.4 448.8,151.2C450.1,149.2 454.8,134.0 456.0,131.5C457.7,128.0 460.6,124.7 462.3,123.2C464.4,121.3 467.3,118.8 469.5,119.1C472.2,119.5 473.9,126.5 476.8,125.3C480.3,123.9 482.3,116.4 485.1,112.9C488.4,108.8 486.8,109.0 489.2,109.8C491.7,110.6 491.1,118.2 494.4,116.0C497.7,113.8 497.5,108.7 501.6,101.5C505.7,94.3 505.5,93.7 509.9,89.0C514.3,84.3 514.6,84.9 518.2,83.8C521.8,82.7 520.9,83.1 523.4,84.8C525.9,86.5 525.4,91.2 527.6,90.1C529.8,89.0 529.7,84.8 531.7,80.7C533.7,76.6 532.5,77.4 535.0,74.9C537.5,72.4 537.9,71.6 541.2,71.4C544.5,71.2 543.8,74.5 547.4,74.3C551.0,74.1 550.8,74.2 554.7,70.8C558.6,67.4 558.7,64.1 562.0,61.5C565.3,58.9 564.1,62.6 567.1,61.1C570.1,59.6 569.4,55.9 573.3,55.7C577.2,55.5 577.4,59.3 581.6,60.4C585.8,61.5 584.7,60.3 588.9,59.8C593.1,59.3 593.1,59.3 597.2,58.4C601.3,57.5 600.8,57.8 604.4,56.3C608.0,54.8 607.7,53.1 610.7,52.8C613.7,52.5 612.5,56.8 615.8,55.2C619.1,53.6 619.2,46.9 623.1,46.9C627.0,46.9 627.1,52.1 630.4,55.2C633.7,58.3 632.5,55.9 635.5,58.4C638.5,60.9 638.5,61.6 641.8,64.6C645.1,67.6 644.4,65.4 648.0,69.8C651.6,74.2 651.6,77.3 655.2,81.2C658.8,85.1 658.7,81.8 661.5,84.3C664.3,86.8 663.1,83.9 665.6,90.5C668.1,97.1 667.8,98.9 670.8,109.1C673.8,119.3 675.3,123.5 677.0,128.8" fill="none" stroke="#D95319" stroke-width="2.3" stroke-linejoin="round" stroke-linecap="round"/>
<path d="M398.3,196.8C399.2,195.9 414.4,179.0 415.6,178.2C416.8,177.4 422.0,180.8 422.9,180.2C423.8,179.6 432.3,168.2 433.2,166.8C434.1,165.4 439.8,152.1 440.5,151.2C441.2,150.3 447.2,147.8 447.8,148.1C448.8,148.5 451.2,157.3 452.3,156.4C453.6,155.3 458.7,140.1 460.2,137.7C462.2,134.4 464.6,136.1 466.4,133.6C468.5,130.5 470.1,124.4 472.6,120.1C475.5,115.0 478.0,110.4 480.9,108.7C484.4,106.7 484.6,109.0 487.1,111.8C489.9,114.8 489.1,121.8 491.3,120.1C493.5,118.4 492.9,112.5 495.4,105.6C497.9,98.7 497.8,97.2 500.6,94.2C503.4,91.2 503.0,93.6 505.8,94.2C508.6,94.8 508.0,95.5 511.0,96.3C514.0,97.1 513.1,99.8 517.2,97.3C521.3,94.8 522.1,88.4 526.5,87.0C530.9,85.6 531.5,90.9 533.8,92.1C536.1,93.3 533.3,95.0 535.0,91.5C536.7,88.0 537.2,81.3 540.2,79.1C543.2,76.9 543.4,80.7 546.4,83.2C549.4,85.7 548.6,89.2 551.6,88.4C554.6,87.6 554.5,84.5 557.8,80.1C561.1,75.7 560.4,73.3 564.0,71.8C567.6,70.3 567.4,74.3 571.3,74.3C575.2,74.3 574.4,71.9 578.5,71.8C582.6,71.7 583.2,74.2 586.8,73.9C590.4,73.6 588.7,69.4 592.0,70.8C595.3,72.2 595.1,78.3 599.3,79.1C603.5,79.9 603.2,76.5 607.6,73.9C612.0,71.3 611.7,70.1 615.8,69.3C619.9,68.5 618.7,67.9 623.1,70.8C627.5,73.7 627.7,75.7 632.4,80.1C637.1,84.5 636.3,84.9 640.7,87.4C645.1,89.9 645.1,86.9 649.0,89.4C652.9,91.9 651.3,90.3 655.2,96.7C659.1,103.1 659.1,103.9 663.5,113.3C667.9,122.7 668.2,124.7 671.8,131.9C675.4,139.1 675.6,138.0 677.0,140.2" fill="none" stroke="#EDB120" stroke-width="2.3" stroke-linejoin="round" stroke-linecap="round"/>
<path d="M404.2,214.5C404.8,213.3 414.8,190.8 415.6,189.6C416.4,188.4 419.3,190.6 419.8,189.6C420.3,188.6 425.2,171.7 426.0,169.9C426.8,168.1 434.5,154.9 435.3,154.3C436.1,153.7 441.8,157.9 442.6,157.4C443.6,156.8 451.0,144.9 451.9,144.0C453.5,142.4 456.6,143.3 458.1,141.9C460.0,140.1 464.6,134.5 466.4,130.5C468.7,125.3 469.6,116.8 471.6,111.8C473.9,106.1 474.3,101.7 477.8,101.5C481.8,101.3 485.2,111.1 489.2,110.8C493.9,110.5 492.4,103.7 495.4,100.4C498.4,97.1 496.7,100.9 500.6,98.4C504.5,95.9 505.2,95.0 509.9,91.1C514.6,87.2 513.8,87.1 518.2,83.8C522.6,80.5 522.0,80.5 526.5,78.7C531.0,76.9 531.3,77.8 535.0,77.0C538.7,76.2 537.2,75.0 540.2,75.6C543.2,76.2 543.1,78.6 546.4,79.1C549.7,79.6 549.0,79.1 552.6,77.6C556.2,76.1 556.3,75.6 559.9,73.5C563.5,71.4 562.5,70.7 566.1,69.8C569.7,68.9 570.0,70.7 573.3,70.2C576.6,69.7 575.7,70.4 578.5,68.1C581.3,65.8 580.4,63.4 583.7,61.5C587.0,59.6 587.4,60.5 591.0,61.0C594.6,61.5 593.6,63.8 597.2,63.5C600.8,63.2 600.8,59.9 604.4,59.8C608.0,59.7 607.1,63.1 610.7,63.1C614.3,63.1 613.2,59.7 617.9,59.8C622.6,59.9 623.6,60.8 628.3,63.5C633.0,66.2 632.2,66.6 635.5,69.8C638.8,73.0 637.7,73.9 640.7,75.6C643.7,77.3 643.6,74.2 646.9,76.0C650.2,77.8 649.9,76.7 653.2,82.2C656.5,87.7 656.1,87.8 659.4,96.7C662.7,105.6 662.3,105.5 665.6,115.4C668.9,125.3 668.8,126.3 671.8,134.0C674.8,141.7 675.6,141.6 677.0,144.4" fill="none" stroke="#7E2F8E" stroke-width="2.3" stroke-linejoin="round" stroke-linecap="round"/>
</g>
<clipPath id="clipR0"><rect x="398.3" y="6.1" width="278.7" height="208.1"/></clipPath>
<rect x="398.3" y="6.1" width="278.7" height="208.1" fill="none" stroke="#262626" stroke-width="1.1"/>
<path d="M440.25 214.2v-2.0M440.25 6.1v2.0M464.79 214.2v-2.0M464.79 6.1v2.0M482.2 214.2v-2.0M482.2 6.1v2.0M495.7 214.2v-2.0M495.7 6.1v2.0M506.74 214.2v-2.0M506.74 6.1v2.0M516.06 214.2v-2.0M516.06 6.1v2.0M524.15 214.2v-2.0M524.15 6.1v2.0M531.27 214.2v-2.0M531.27 6.1v2.0M537.65 214.2v-3.2M537.65 6.1v3.2M579.6 214.2v-2.0M579.6 6.1v2.0M604.14 214.2v-2.0M604.14 6.1v2.0M621.55 214.2v-2.0M621.55 6.1v2.0M635.05 214.2v-2.0M635.05 6.1v2.0M646.09 214.2v-2.0M646.09 6.1v2.0M655.41 214.2v-2.0M655.41 6.1v2.0M663.5 214.2v-2.0M663.5 6.1v2.0M670.62 214.2v-2.0M670.62 6.1v2.0" stroke="#262626" stroke-width="1"/>
<path d="M398.3 201.67h2.0M677 201.67h-2.0M398.3 194.34h2.0M677 194.34h-2.0M398.3 189.14h2.0M677 189.14h-2.0M398.3 185.11h2.0M677 185.11h-2.0M398.3 181.81h2.0M677 181.81h-2.0M398.3 179.03h2.0M677 179.03h-2.0M398.3 176.61h2.0M677 176.61h-2.0M398.3 174.48h2.0M677 174.48h-2.0M398.3 172.58h3.2M677 172.58h-3.2M398.3 160.05h2.0M677 160.05h-2.0M398.3 152.72h2.0M677 152.72h-2.0M398.3 147.52h2.0M677 147.52h-2.0M398.3 143.49h2.0M677 143.49h-2.0M398.3 140.19h2.0M677 140.19h-2.0M398.3 137.41h2.0M677 137.41h-2.0M398.3 134.99h2.0M677 134.99h-2.0M398.3 132.86h2.0M677 132.86h-2.0M398.3 130.96h3.2M677 130.96h-3.2M398.3 118.43h2.0M677 118.43h-2.0M398.3 111.1h2.0M677 111.1h-2.0M398.3 105.9h2.0M677 105.9h-2.0M398.3 101.87h2.0M677 101.87h-2.0M398.3 98.57h2.0M677 98.57h-2.0M398.3 95.79h2.0M677 95.79h-2.0M398.3 93.37h2.0M677 93.37h-2.0M398.3 91.24h2.0M677 91.24h-2.0M398.3 89.34h3.2M677 89.34h-3.2M398.3 76.81h2.0M677 76.81h-2.0M398.3 69.48h2.0M677 69.48h-2.0M398.3 64.28h2.0M677 64.28h-2.0M398.3 60.25h2.0M677 60.25h-2.0M398.3 56.95h2.0M677 56.95h-2.0M398.3 54.17h2.0M677 54.17h-2.0M398.3 51.75h2.0M677 51.75h-2.0M398.3 49.62h2.0M677 49.62h-2.0M398.3 47.72h3.2M677 47.72h-3.2M398.3 35.19h2.0M677 35.19h-2.0M398.3 27.86h2.0M677 27.86h-2.0M398.3 22.66h2.0M677 22.66h-2.0M398.3 18.63h2.0M677 18.63h-2.0M398.3 15.33h2.0M677 15.33h-2.0M398.3 12.55h2.0M677 12.55h-2.0M398.3 10.13h2.0M677 10.13h-2.0M398.3 8h2.0M677 8h-2.0" stroke="#262626" stroke-width="1"/>
<text x="398.9" y="235.6" font-size="12.6" text-anchor="middle" font-family='"Liberation Sans", sans-serif'>10<tspan font-size="9.6" dx="0.7" dy="-6.6">-1</tspan></text>
<text x="538.25" y="235.6" font-size="12.6" text-anchor="middle" font-family='"Liberation Sans", sans-serif'>10<tspan font-size="9.6" dx="0.7" dy="-6.6">0</tspan></text>
<text x="677.6" y="235.6" font-size="12.6" text-anchor="middle" font-family='"Liberation Sans", sans-serif'>10<tspan font-size="9.6" dx="0.7" dy="-6.6">1</tspan></text>
<text x="393.3" y="221.6" font-size="12.6" text-anchor="end" font-family='"Liberation Sans", sans-serif'>10<tspan font-size="9.6" dx="0.7" dy="-6.6">-5</tspan></text>
<text x="393.3" y="179.98" font-size="12.6" text-anchor="end" font-family='"Liberation Sans", sans-serif'>10<tspan font-size="9.6" dx="0.7" dy="-6.6">-4</tspan></text>
<text x="393.3" y="138.36" font-size="12.6" text-anchor="end" font-family='"Liberation Sans", sans-serif'>10<tspan font-size="9.6" dx="0.7" dy="-6.6">-3</tspan></text>
<text x="393.3" y="96.74" font-size="12.6" text-anchor="end" font-family='"Liberation Sans", sans-serif'>10<tspan font-size="9.6" dx="0.7" dy="-6.6">-2</tspan></text>
<text x="393.3" y="55.12" font-size="12.6" text-anchor="end" font-family='"Liberation Sans", sans-serif'>10<tspan font-size="9.6" dx="0.7" dy="-6.6">-1</tspan></text>
<text x="393.3" y="13.5" font-size="12.6" text-anchor="end" font-family='"Liberation Sans", sans-serif'>10<tspan font-size="9.6" dx="0.7" dy="-6.6">0</tspan></text>
<text transform="translate(364.4 157.7) rotate(-90)" font-size="15.5" text-anchor="start" font-family='"Liberation Sans", sans-serif'>IFFTI [m/s]</text>
<circle cx="360.3" cy="81.95" r="0.85" fill="#222"/>
<text x="537.65" y="253.1" font-size="15.5" text-anchor="middle" font-family='"Liberation Sans", sans-serif' >f [Hz]</text>
<text x="538.15" y="281.8" font-size="18" text-anchor="middle" font-family='"Liberation Serif", serif' >(b)</text>
<text x="440.2" y="40.1" font-size="11.8" text-anchor="start" font-family='"Liberation Sans", sans-serif' >Z=0m</text>
<path d="M554.4 156.9h19.5" stroke="#0072BD" stroke-width="2"/>
<text x="576" y="162.1" font-size="11.8" text-anchor="start" font-family='"Liberation Sans", sans-serif' >Topo EW</text>
<path d="M554.4 171.23h19.5" stroke="#D95319" stroke-width="2"/>
<text x="576" y="176.43" font-size="11.8" text-anchor="start" font-family='"Liberation Sans", sans-serif' >Topo &amp; Bathy EW</text>
<path d="M554.4 185.56h19.5" stroke="#EDB120" stroke-width="2"/>
<text x="576" y="190.76" font-size="11.8" text-anchor="start" font-family='"Liberation Sans", sans-serif' >Topo NS</text>
<path d="M554.4 199.89h19.5" stroke="#7E2F8E" stroke-width="2"/>
<text x="576" y="205.09" font-size="11.8" text-anchor="start" font-family='"Liberation Sans", sans-serif' >Topo &amp; Bathy NS</text>
<g clip-path="url(#clipL1ew)">
<polyline points="44.4,347.5 44.9,347.5 45.4,347.4 46.0,347.3 46.5,347.2 47.0,347.1 47.5,347.1 48.0,347.2 48.5,347.6 49.0,348.1 49.5,348.8 50.0,349.3 50.5,349.7 51.0,349.8 51.5,349.7 52.0,349.4 52.5,348.9 53.0,348.4 53.5,347.9 54.0,347.4 54.5,347.1 55.0,347.0 55.5,347.0 56.0,347.2 56.5,347.4 57.0,347.7 57.5,348.0 58.0,348.3 58.5,348.6 59.0,348.8 59.5,349.0 60.0,349.0 60.5,349.0 61.0,348.9 61.5,348.8 62.0,348.6 62.5,348.4 63.0,348.2 63.5,347.9 64.0,347.7 64.5,347.5 65.0,347.4 65.5,347.3 66.0,347.3 66.5,347.3 67.0,347.4 67.5,347.5 68.0,347.6 68.5,347.8 69.0,347.9 69.5,348.1 70.0,348.3 70.5,348.4 71.0,348.5 71.5,348.6 72.0,348.6 72.5,348.6 73.0,348.5 73.5,348.4 74.0,348.3 74.5,348.1 75.0,348.0 75.5,347.8 76.0,347.6 76.5,347.5 77.0,347.4 77.5,347.3 78.0,347.3 78.5,347.3 79.0,347.4 79.5,347.4 80.0,347.5 80.5,347.7 81.0,347.8 81.5,347.9 82.0,348.1 82.5,348.2 83.0,348.4 83.5,348.5 84.0,348.5 84.5,348.6 85.0,348.6 85.5,348.6 86.0,348.5 86.5,348.5 87.0,348.4 87.5,348.2 88.0,348.1 88.5,348.0 89.0,347.8 89.5,347.7 90.0,347.5 90.5,347.4 91.0,347.4 91.5,347.3 92.0,347.3 92.5,347.3 93.0,347.3 93.5,347.4 94.0,347.5 94.5,347.6 95.0,347.7 95.5,347.8 96.0,347.9 96.5,348.1 97.0,348.2 97.5,348.3 98.0,348.4 98.5,348.5 99.0,348.6 99.5,348.6 100.0,348.6 100.5,348.6 101.0,348.6 101.5,348.5 102.0,348.4 102.5,348.4 103.0,348.3 103.5,348.2 104.0,348.1 104.5,347.9 105.0,347.8 105.5,347.7 106.0,347.7 106.5,347.6 107.0,347.5 107.5,347.5 108.0,347.5 108.5,347.5 109.0,347.6 109.5,347.8 110.0,348.1 110.6,348.4 111.1,348.7 111.6,349.1 112.1,349.5 112.6,349.9 113.1,350.3 113.6,350.7 114.1,351.0 114.7,351.3 115.2,351.6 115.7,351.8 116.2,351.9 116.7,351.9 117.2,351.7 117.8,351.0 118.3,350.1 118.8,348.9 119.4,347.8 119.9,346.9 120.5,346.2 121.0,346.0 121.5,345.8 122.0,345.4 122.5,344.8 123.0,343.9 123.5,343.1 124.0,342.2 124.5,341.6 125.0,341.2 125.5,341.0 126.0,341.3 126.5,342.1 127.0,343.2 127.5,344.7 128.0,346.3 128.5,347.8 129.0,348.9 129.5,349.7 130.0,350.0 130.5,350.1 131.1,350.5 131.6,351.0 132.1,351.6 132.6,352.3 133.1,352.8 133.7,353.2 134.2,353.3 134.8,352.8 135.3,351.4 135.8,349.3 136.4,346.8 136.9,344.2 137.5,342.1 138.0,340.7 138.6,340.2 139.2,341.2 139.8,343.9 140.3,347.3 140.9,350.0 141.5,351.0 142.0,350.2 142.5,348.1 143.0,345.2 143.5,342.4 144.0,340.3 144.5,339.5 145.0,340.7 145.6,344.0 146.1,348.9 146.7,354.8 147.2,360.6 147.7,365.5 148.3,368.8 148.8,370.0 149.3,368.4 149.8,363.6 150.3,356.4 150.8,347.5 151.4,338.0 151.9,329.1 152.4,321.9 152.9,317.1 153.4,315.5 153.9,316.9 154.5,320.9 155.0,327.2 155.5,335.2 156.1,343.9 156.6,352.7 157.1,360.7 157.6,367.0 158.2,371.0 158.7,372.4 159.2,371.8 159.7,370.1 160.2,367.4 160.7,363.8 161.2,359.7 161.8,355.2 162.3,350.8 162.8,346.7 163.3,343.1 163.8,340.4 164.3,338.7 164.8,338.1 165.3,338.3 165.8,338.9 166.3,339.9 166.8,341.3 167.3,342.8 167.8,344.5 168.4,346.3 168.9,348.0 169.4,349.5 169.9,350.9 170.4,351.9 170.9,352.5 171.4,352.7 171.9,352.3 172.4,351.4 172.9,349.9 173.4,348.1 174.0,346.3 174.5,344.8 175.0,343.9 175.5,343.5 176.0,343.6 176.5,343.8 177.1,344.2 177.6,344.7 178.1,345.3 178.6,346.1 179.1,346.8 179.7,347.6 180.2,348.5 180.7,349.2 181.2,350.0 181.7,350.6 182.2,351.1 182.8,351.5 183.3,351.7 183.8,351.8 184.3,351.7 184.8,351.4 185.3,351.0 185.8,350.4 186.3,349.7 186.8,349.0 187.4,348.2 187.9,347.5 188.4,346.8 188.9,346.2 189.4,345.8 189.9,345.5 190.4,345.4 190.9,345.4 191.4,345.6 191.9,345.8 192.4,346.0 192.9,346.4 193.4,346.7 193.9,347.2 194.4,347.6 194.9,348.1 195.4,348.6 195.9,349.1 196.4,349.5 196.9,350.0 197.4,350.3 197.9,350.7 198.4,350.9 198.9,351.1 199.4,351.3 199.9,351.3 200.4,351.1 201.0,350.4 201.5,349.5 202.1,348.4 202.6,347.2 203.1,346.3 203.7,345.6 204.2,345.4 204.7,345.5 205.2,345.7 205.8,346.0 206.3,346.5 206.8,347.1 207.3,347.7 207.8,348.3 208.4,349.0 208.9,349.6 209.4,350.2 209.9,350.7 210.5,351.0 211.0,351.2 211.5,351.3 212.0,351.1 212.5,350.6 213.0,349.8 213.5,348.8 214.1,347.8 214.6,346.7 215.1,345.7 215.6,344.9 216.1,344.4 216.6,344.2 217.1,344.4 217.6,345.0 218.2,346.0 218.7,347.1 219.2,348.4 219.7,349.8 220.2,350.9 220.8,351.9 221.3,352.5 221.8,352.7 222.3,352.6 222.8,352.2 223.3,351.6 223.8,350.8 224.3,349.9 224.8,348.9 225.3,347.8 225.8,346.8 226.3,345.9 226.8,345.1 227.3,344.5 227.8,344.1 228.3,344.0 228.8,344.2 229.3,344.7 229.8,345.5 230.3,346.5 230.9,347.6 231.4,348.8 231.9,349.8 232.4,350.6 232.9,351.1 233.4,351.3 234.0,351.0 234.5,350.2 235.1,349.0 235.6,347.5 236.2,346.0 236.7,344.8 237.2,344.0 237.8,343.7 238.3,343.9 238.8,344.4 239.3,345.3 239.8,346.4 240.4,347.6 240.9,348.8 241.4,349.9 241.9,350.8 242.4,351.3 242.9,351.5 243.5,351.2 244.0,350.4 244.6,349.1 245.1,347.6 245.7,346.1 246.2,344.8 246.8,344.0 247.3,343.7 247.9,344.0 248.4,344.9 248.9,346.2 249.5,347.8 250.1,349.3 250.6,350.6 251.1,351.5 251.7,351.8 252.2,351.6 252.7,350.9 253.2,349.9 253.7,348.7 254.3,347.4 254.8,346.2 255.3,345.2 255.8,344.5 256.3,344.3 256.8,344.4 257.3,344.7 257.9,345.1 258.4,345.7 258.9,346.3 259.4,347.0 259.9,347.6 260.4,348.2 261.0,348.6 261.5,348.9 262.0,349.0 262.5,348.9 263.0,348.8 263.5,348.5 264.0,348.2 264.5,348.1 265.0,348.0 265.5,348.0 266.0,348.0 266.5,347.9 267.0,347.8 267.5,347.7 268.0,347.6 268.5,347.5 269.0,347.4 269.5,347.3 270.0,347.2 270.5,347.1 271.0,347.0 271.5,347.0 272.0,347.0 272.5,347.0 273.0,347.1 273.5,347.2 274.0,347.4 274.5,347.6 275.0,347.8 275.5,347.9 276.0,348.1 276.5,348.3 277.0,348.4 277.5,348.5 278.0,348.5 278.5,348.3 279.1,347.9 279.6,347.3 280.2,346.6 280.7,346.0 281.3,345.6 281.8,345.4 282.3,345.5 282.8,346.0 283.3,346.6 283.8,347.4 284.4,348.3 284.9,349.3 285.4,350.1 285.9,350.7 286.4,351.2 286.9,351.3 287.4,351.2 288.0,350.9 288.5,350.4 289.0,349.8 289.6,349.1 290.1,348.3 290.7,347.6 291.2,347.0 291.7,346.5 292.3,346.2 292.8,346.1 293.3,346.1 293.8,346.1 294.3,346.2 294.9,346.2 295.4,346.2 295.9,346.3 296.4,346.4 296.9,346.4 297.4,346.5 297.9,346.5 298.5,346.5 299.0,346.6 299.5,346.6 300.0,346.6 300.5,346.7 301.0,347.2 301.6,347.9 302.1,348.7 302.6,349.6 303.1,350.6 303.6,351.4 304.2,352.1 304.7,352.6 305.2,352.7 305.7,352.4 306.3,351.7 306.8,350.5 307.3,349.0 307.8,347.2 308.4,345.4 308.9,343.6 309.4,342.1 309.9,340.9 310.5,340.2 311.0,339.9 311.5,340.2 312.0,341.1 312.5,342.4 313.0,344.1 313.6,345.9 314.1,347.8 314.6,349.5 315.1,350.8 315.6,351.7 316.1,352.0 316.6,351.9 317.1,351.5 317.6,350.9 318.1,350.2 318.6,349.4 319.2,348.6 319.7,347.9 320.2,347.3 320.7,346.9 321.2,346.8 321.8,346.9 322.3,347.3 322.9,347.9 323.4,348.6 323.9,349.4 324.5,350.0 325.1,350.4 325.6,350.5 326.0,350.2 326.4,350.0" fill="none" stroke="#0072BD" stroke-width="2.3" stroke-linejoin="round"/>
<polyline points="44.4,348.0 44.9,348.1 45.4,348.3 45.9,348.6 46.5,348.9 47.0,349.2 47.5,349.4 48.0,349.5 48.5,349.3 49.0,348.6 49.5,347.8 50.0,346.9 50.5,346.2 51.0,346.0 51.5,346.2 52.0,346.6 52.5,347.2 53.0,347.9 53.5,348.3 54.0,348.5 54.5,348.4 55.0,348.1 55.5,347.6 56.0,347.1 56.5,346.6 57.0,346.3 57.5,346.2 58.0,346.3 58.5,346.7 59.0,347.2 59.5,347.8 60.0,348.3 60.5,348.7 61.0,348.8 61.5,348.7 62.0,348.4 62.5,347.9 63.0,347.4 63.5,347.1 64.0,347.0 64.5,347.0 65.0,347.1 65.5,347.2 66.0,347.4 66.5,347.6 67.0,347.8 67.5,347.9 68.0,348.1 68.5,348.3 69.0,348.4 69.5,348.5 70.0,348.5 70.5,348.5 71.0,348.4 71.5,348.2 72.0,348.0 72.5,347.8 73.0,347.5 73.5,347.3 74.0,347.1 74.5,347.0 75.0,347.0 75.5,347.0 76.0,347.1 76.5,347.3 77.0,347.5 77.5,347.8 78.0,348.0 78.5,348.2 79.0,348.4 79.5,348.5 80.0,348.5 80.5,348.5 81.0,348.4 81.5,348.2 82.0,348.0 82.5,347.8 83.0,347.5 83.5,347.3 84.0,347.1 84.5,347.0 85.0,347.0 85.5,347.0 86.0,347.1 86.5,347.1 87.0,347.2 87.5,347.4 88.0,347.5 88.5,347.6 89.0,347.8 89.5,347.9 90.0,348.1 90.5,348.2 91.0,348.2 91.5,348.3 92.0,348.3 92.5,348.3 93.0,348.2 93.5,348.2 94.0,348.1 94.5,348.0 95.0,347.9 95.5,347.8 96.0,347.7 96.5,347.6 97.0,347.6 97.5,347.5 98.0,347.5 98.5,347.5 99.0,347.5 99.5,347.6 100.0,347.6 100.5,347.7 101.0,347.8 101.5,347.8 102.0,347.9 102.5,348.0 103.0,348.1 103.5,348.1 104.0,348.2 104.5,348.2 105.0,348.2 105.5,348.2 106.0,348.1 106.5,348.1 107.0,348.0 107.5,347.9 108.0,347.7 108.5,347.6 109.0,347.6 109.5,347.5 110.0,347.5 110.5,347.5 111.0,347.6 111.5,347.6 112.0,347.8 112.5,347.9 113.0,348.0 113.5,348.1 114.0,348.2 114.5,348.4 115.0,348.4 115.5,348.5 116.0,348.5 116.5,348.3 117.0,347.9 117.6,347.3 118.1,346.5 118.6,345.7 119.2,345.1 119.7,344.7 120.2,344.5 120.7,344.8 121.2,345.5 121.7,346.6 122.2,347.7 122.7,348.8 123.2,349.5 123.7,349.8 124.2,349.6 124.7,349.1 125.2,348.4 125.7,347.6 126.2,346.9 126.7,346.4 127.2,346.2 127.7,346.5 128.2,347.4 128.8,348.6 129.3,349.5 129.8,349.8 130.3,349.3 130.9,348.1 131.4,346.6 132.0,345.4 132.5,344.9 133.1,345.4 133.6,346.8 134.2,348.6 134.7,350.0 135.3,350.5 135.9,349.8 136.4,348.1 136.9,345.6 137.5,343.1 138.1,341.4 138.6,340.7 139.1,341.7 139.7,344.3 140.2,347.9 140.7,351.5 141.3,354.1 141.8,355.1 142.3,354.2 142.8,351.6 143.3,347.9 143.8,343.9 144.3,340.2 144.8,337.6 145.3,336.7 145.8,338.4 146.4,343.2 146.9,350.1 147.5,357.8 148.0,364.7 148.6,369.5 149.1,371.2 149.6,369.7 150.2,365.3 150.7,358.6 151.2,350.3 151.8,341.5 152.3,333.2 152.8,326.5 153.4,322.1 153.9,320.6 154.4,321.7 154.9,324.8 155.4,329.6 155.9,335.7 156.4,342.5 157.0,349.3 157.5,355.4 158.0,360.2 158.5,363.3 159.0,364.4 159.5,364.1 160.0,363.2 160.5,361.8 161.0,360.0 161.5,357.8 162.0,355.4 162.5,353.0 163.0,350.6 163.5,348.4 164.0,346.6 164.5,345.2 165.0,344.3 165.5,344.0 166.0,344.1 166.5,344.6 167.1,345.2 167.6,346.0 168.1,346.9 168.6,347.8 169.1,348.6 169.7,349.2 170.2,349.7 170.7,349.8 171.2,349.6 171.7,349.0 172.2,348.2 172.7,347.0 173.2,345.8 173.8,344.6 174.3,343.4 174.8,342.6 175.3,342.0 175.8,341.8 176.3,341.9 176.8,342.3 177.4,342.9 177.9,343.7 178.4,344.7 178.9,345.8 179.4,346.9 180.0,348.0 180.5,349.1 181.0,350.1 181.5,350.9 182.1,351.5 182.6,351.9 183.1,352.0 183.6,352.0 184.1,351.9 184.6,351.7 185.1,351.5 185.6,351.2 186.1,350.9 186.6,350.5 187.1,350.1 187.6,349.7 188.1,349.3 188.6,348.8 189.2,348.3 189.7,347.8 190.2,347.4 190.7,347.0 191.2,346.6 191.7,346.2 192.2,345.9 192.7,345.6 193.2,345.4 193.7,345.2 194.2,345.1 194.7,345.1 195.2,345.1 195.7,345.3 196.2,345.5 196.7,345.8 197.2,346.1 197.7,346.6 198.2,347.0 198.8,347.4 199.3,347.9 199.8,348.3 200.3,348.8 200.8,349.1 201.3,349.4 201.8,349.6 202.3,349.8 202.8,349.8 203.3,349.7 203.8,349.4 204.3,348.8 204.8,348.2 205.4,347.5 205.9,346.7 206.4,346.1 206.9,345.5 207.4,345.2 207.9,345.1 208.4,345.2 208.9,345.4 209.4,345.7 209.9,346.1 210.4,346.6 210.9,347.2 211.5,347.7 212.0,348.3 212.5,348.8 213.0,349.2 213.5,349.5 214.0,349.7 214.5,349.8 215.0,349.7 215.5,349.6 216.1,349.3 216.6,348.9 217.1,348.5 217.6,348.0 218.2,347.5 218.7,346.9 219.2,346.4 219.7,346.0 220.2,345.6 220.8,345.3 221.3,345.2 221.8,345.1 222.3,345.2 222.9,345.5 223.4,346.0 223.9,346.7 224.4,347.4 225.0,348.2 225.5,348.9 226.0,349.6 226.5,350.1 227.1,350.4 227.6,350.5 228.1,350.4 228.6,350.0 229.1,349.4 229.6,348.6 230.1,347.8 230.7,347.0 231.2,346.2 231.7,345.6 232.2,345.2 232.7,345.1 233.2,345.2 233.7,345.5 234.2,346.0 234.7,346.7 235.2,347.4 235.8,348.2 236.3,349.0 236.8,349.8 237.3,350.4 237.8,350.9 238.3,351.2 238.8,351.3 239.3,351.2 239.8,350.8 240.3,350.3 240.8,349.6 241.3,348.7 241.8,347.7 242.3,346.8 242.8,345.8 243.3,344.9 243.8,344.2 244.3,343.7 244.8,343.3 245.3,343.2 245.8,343.4 246.4,343.9 246.9,344.8 247.4,345.9 248.0,347.1 248.5,348.5 249.1,349.7 249.6,350.8 250.1,351.7 250.7,352.2 251.2,352.4 251.7,352.2 252.2,351.7 252.7,350.9 253.2,349.9 253.8,348.8 254.3,347.6 254.8,346.6 255.3,345.8 255.8,345.3 256.3,345.1 256.8,345.1 257.3,345.2 257.8,345.4 258.3,345.6 258.8,345.9 259.3,346.2 259.8,346.5 260.3,346.9 260.8,347.3 261.3,347.6 261.8,348.0 262.3,348.4 262.8,348.7 263.3,349.0 263.8,349.3 264.3,349.5 264.8,349.7 265.3,349.8 265.8,349.8 266.3,349.7 266.8,349.6 267.4,349.4 267.9,349.1 268.4,348.7 268.9,348.3 269.4,347.9 269.9,347.6 270.4,347.2 271.0,347.0 271.5,346.9 272.0,346.8 272.5,346.8 273.0,346.8 273.6,346.8 274.1,346.8 274.6,346.7 275.1,346.7 275.6,346.7 276.1,346.7 276.6,346.6 277.2,346.6 277.7,346.6 278.2,346.6 278.7,346.6 279.2,346.7 279.7,346.8 280.2,347.0 280.8,347.2 281.3,347.5 281.8,347.8 282.3,348.1 282.8,348.3 283.3,348.6 283.8,348.9 284.3,349.2 284.9,349.4 285.4,349.6 285.9,349.7 286.4,349.8 286.9,349.8 287.4,349.7 287.9,349.6 288.5,349.3 289.0,348.9 289.5,348.5 290.0,348.0 290.5,347.5 291.1,346.9 291.6,346.4 292.1,346.0 292.6,345.6 293.2,345.3 293.7,345.2 294.2,345.1 294.7,345.1 295.2,345.3 295.7,345.5 296.3,345.8 296.8,346.2 297.3,346.6 297.8,347.1 298.3,347.6 298.8,348.2 299.4,348.8 299.9,349.3 300.4,349.9 300.9,350.4 301.4,350.9 301.9,351.3 302.4,351.7 303.0,352.0 303.5,352.2 304.0,352.4 304.5,352.4 305.0,352.3 305.5,351.9 306.0,351.4 306.5,350.6 307.0,349.8 307.5,348.8 308.0,347.8 308.5,346.8 309.0,346.0 309.5,345.2 310.0,344.7 310.5,344.3 311.0,344.2 311.5,344.3 312.0,344.5 312.5,344.9 313.0,345.4 313.5,346.0 314.0,346.7 314.6,347.3 315.1,348.0 315.6,348.6 316.1,349.1 316.6,349.5 317.1,349.7 317.6,349.8 318.2,349.7 318.7,349.5 319.3,349.2 319.9,348.8 320.4,348.6 321.0,348.5 321.5,348.5 322.1,348.5 322.6,348.6 323.2,348.7 323.7,348.8 324.2,348.8 324.8,348.9 325.3,349.0 325.9,349.0 326.4,349.0" fill="none" stroke="#D95319" stroke-width="2.3" stroke-linejoin="round"/>
</g>
<clipPath id="clipL1ew"><rect x="44.4" y="305.8" width="282" height="84.3"/></clipPath>
<rect x="44.4" y="305.8" width="282" height="84.3" fill="none" stroke="#262626" stroke-width="1.1"/>
<text x="44.4" y="407.4" font-size="12.6" text-anchor="middle" font-family='"Liberation Sans", sans-serif' >8</text>
<path d="M138.4 390.1v-3.3M138.4 305.8v3.3" stroke="#262626" stroke-width="1"/>
<text x="138.4" y="407.4" font-size="12.6" text-anchor="middle" font-family='"Liberation Sans", sans-serif' >10</text>
<path d="M232.4 390.1v-3.3M232.4 305.8v3.3" stroke="#262626" stroke-width="1"/>
<text x="232.4" y="407.4" font-size="12.6" text-anchor="middle" font-family='"Liberation Sans", sans-serif' >12</text>
<text x="326.4" y="407.4" font-size="12.6" text-anchor="middle" font-family='"Liberation Sans", sans-serif' >14</text>
<text x="39.8" y="395" font-size="12.6" text-anchor="end" font-family='"Liberation Sans", sans-serif' >-0.8</text>
<path d="M44.4 347.95h3.3M326.4 347.95h-3.3" stroke="#262626" stroke-width="1"/>
<text x="39.8" y="352.85" font-size="12.6" text-anchor="end" font-family='"Liberation Sans", sans-serif' >0</text>
<text x="39.8" y="310.7" font-size="12.6" text-anchor="end" font-family='"Liberation Sans", sans-serif' >0.8</text>
<text transform="translate(11.6 348.95) rotate(-90)" font-size="15.5" text-anchor="middle" font-family='"Liberation Sans", sans-serif' fill="#000">a [m/s/s]</text>
<text x="91.6" y="320.8" font-size="11.8" text-anchor="start" font-family='"Liberation Sans", sans-serif' >EW</text>
<g clip-path="url(#clipL1ns)">
<polyline points="44.4,478.5 44.9,478.4 45.4,478.1 45.9,477.7 46.5,477.3 47.0,476.9 47.5,476.6 48.0,476.5 48.5,476.6 49.0,476.8 49.5,477.1 50.0,477.5 50.5,477.9 51.0,478.2 51.5,478.4 52.0,478.5 52.5,478.5 53.0,478.3 53.5,478.1 54.0,477.8 54.5,477.5 55.0,477.2 55.5,476.9 56.0,476.7 56.5,476.5 57.0,476.5 57.5,476.5 58.0,476.6 58.5,476.8 59.0,476.9 59.5,477.2 60.0,477.4 60.5,477.6 61.0,477.9 61.5,478.0 62.0,478.2 62.5,478.3 63.0,478.3 63.5,478.3 64.0,478.2 64.5,478.1 65.0,478.0 65.5,477.8 66.0,477.6 66.5,477.4 67.0,477.2 67.5,477.0 68.0,476.8 68.5,476.7 69.0,476.6 69.5,476.5 70.0,476.5 70.5,476.5 71.0,476.6 71.5,476.7 72.0,476.8 72.5,477.0 73.0,477.2 73.5,477.4 74.0,477.6 74.5,477.8 75.0,478.0 75.5,478.1 76.0,478.2 76.5,478.3 77.0,478.3 77.5,478.3 78.0,478.2 78.5,478.1 79.0,478.0 79.5,477.8 80.0,477.6 80.5,477.5 81.0,477.3 81.5,477.1 82.0,476.9 82.5,476.8 83.0,476.7 83.5,476.6 84.0,476.6 84.5,476.6 85.0,476.7 85.5,476.7 86.0,476.8 86.5,477.0 87.0,477.1 87.5,477.2 88.0,477.4 88.5,477.6 89.0,477.7 89.5,477.8 90.0,478.0 90.5,478.1 91.0,478.1 91.5,478.2 92.0,478.2 92.5,478.2 93.0,478.1 93.5,478.1 94.0,478.0 94.5,477.8 95.0,477.7 95.5,477.6 96.0,477.4 96.5,477.2 97.0,477.1 97.5,477.0 98.0,476.8 98.5,476.7 99.0,476.7 99.5,476.6 100.0,476.6 100.5,476.6 101.0,476.7 101.5,476.7 102.0,476.8 102.5,476.9 103.0,477.0 103.5,477.2 104.0,477.3 104.5,477.4 105.0,477.6 105.5,477.7 106.0,477.8 106.5,477.9 107.0,477.9 107.5,478.0 108.0,478.0 108.5,478.0 109.0,477.9 109.5,477.8 110.0,477.7 110.5,477.6 111.0,477.4 111.5,477.2 112.0,477.1 112.5,476.9 113.0,476.8 113.5,476.7 114.0,476.6 114.5,476.5 115.0,476.5 115.5,476.5 116.0,476.6 116.5,476.7 117.0,476.8 117.5,477.0 118.0,477.2 118.5,477.3 119.0,477.4 119.5,477.5 120.0,477.5 120.5,477.6 121.0,477.7 121.6,478.0 122.1,478.3 122.6,478.8 123.2,479.2 123.7,479.6 124.2,480.0 124.7,480.4 125.2,480.7 125.8,480.8 126.3,480.9 126.8,480.7 127.3,480.2 127.8,479.4 128.4,478.4 128.9,477.2 129.4,475.9 129.9,474.6 130.4,473.4 130.9,472.4 131.5,471.6 132.0,471.1 132.5,470.9 133.0,471.5 133.5,473.1 134.0,475.4 134.5,478.1 135.0,480.4 135.5,482.0 136.0,482.6 136.5,482.6 137.0,482.7 137.6,482.9 138.1,483.1 138.6,483.4 139.1,483.6 139.6,483.8 140.2,484.0 140.7,484.1 141.2,484.1 141.8,483.4 142.3,481.4 142.8,478.4 143.4,474.9 143.9,471.4 144.5,468.4 145.0,466.4 145.6,465.7 146.1,466.4 146.7,468.6 147.2,471.8 147.8,475.8 148.3,480.1 148.9,484.1 149.4,487.3 150.0,489.5 150.5,490.2 151.0,489.8 151.5,488.8 152.1,487.1 152.6,484.8 153.1,482.0 153.6,478.8 154.1,475.3 154.7,471.7 155.2,468.1 155.7,464.6 156.2,461.4 156.7,458.6 157.2,456.3 157.8,454.6 158.3,453.6 158.8,453.2 159.3,454.1 159.8,456.8 160.3,460.9 160.8,466.1 161.4,471.8 161.9,477.6 162.4,482.8 162.9,486.9 163.4,489.6 163.9,490.5 164.4,489.7 165.0,487.5 165.5,484.2 166.1,480.2 166.6,476.3 167.1,473.0 167.7,470.8 168.2,470.0 168.7,470.3 169.3,471.3 169.8,472.7 170.3,474.3 170.8,475.7 171.4,476.7 171.9,477.0 172.4,477.3 172.9,478.1 173.4,479.3 173.9,480.9 174.4,482.6 175.0,484.4 175.5,486.0 176.0,487.2 176.5,488.0 177.0,488.3 177.5,487.9 178.1,486.8 178.6,485.1 179.1,483.0 179.6,480.5 180.2,477.8 180.7,475.3 181.2,473.2 181.7,471.5 182.3,470.4 182.8,470.0 183.3,470.8 183.9,473.2 184.4,476.5 184.9,480.3 185.4,483.6 186.0,486.0 186.5,486.8 187.1,486.1 187.6,483.9 188.2,480.7 188.7,477.0 189.2,473.2 189.8,470.0 190.3,467.8 190.9,467.1 191.4,467.5 191.9,468.5 192.4,470.1 192.9,472.1 193.4,474.4 194.0,476.7 194.5,478.7 195.0,480.3 195.5,481.3 196.0,481.7 196.5,481.5 197.0,480.9 197.5,480.0 198.1,478.9 198.6,478.0 199.1,477.4 199.6,477.2 200.1,477.1 200.6,476.8 201.1,476.3 201.6,475.7 202.1,475.1 202.7,474.5 203.2,473.9 203.7,473.4 204.2,473.1 204.7,473.0 205.2,473.3 205.8,474.3 206.3,475.7 206.9,477.3 207.4,479.0 208.0,480.4 208.5,481.4 209.1,481.7 209.6,481.5 210.1,480.7 210.6,479.6 211.1,478.2 211.6,476.6 212.2,475.0 212.7,473.6 213.2,472.5 213.7,471.7 214.2,471.5 214.7,471.6 215.2,471.9 215.8,472.3 216.3,472.9 216.8,473.7 217.3,474.5 217.8,475.5 218.3,476.4 218.9,477.5 219.4,478.4 219.9,479.4 220.4,480.2 220.9,481.0 221.4,481.6 222.0,482.0 222.5,482.3 223.0,482.4 223.5,482.3 224.0,482.1 224.5,481.7 225.0,481.3 225.5,480.7 226.0,480.0 226.5,479.2 227.0,478.5 227.5,477.6 228.0,476.9 228.5,476.1 229.0,475.4 229.5,474.8 230.0,474.4 230.5,474.0 231.0,473.8 231.5,473.7 232.0,474.0 232.6,474.7 233.1,475.9 233.6,477.5 234.1,479.3 234.7,481.1 235.2,482.9 235.7,484.5 236.2,485.7 236.8,486.4 237.3,486.7 237.8,486.6 238.3,486.1 238.8,485.4 239.3,484.5 239.8,483.4 240.3,482.2 240.9,481.0 241.4,479.8 241.9,478.7 242.4,477.8 242.9,477.1 243.4,476.6 243.9,476.5 244.4,476.6 244.9,476.8 245.5,477.1 246.0,477.5 246.5,478.0 247.0,478.5 247.6,479.1 248.1,479.7 248.6,480.2 249.1,480.7 249.6,481.1 250.2,481.4 250.7,481.6 251.2,481.7 251.7,481.5 252.2,480.7 252.7,479.6 253.2,478.2 253.8,476.6 254.3,475.0 254.8,473.6 255.3,472.5 255.8,471.7 256.3,471.5 256.8,471.7 257.4,472.3 257.9,473.3 258.4,474.5 258.9,475.9 259.5,477.3 260.0,478.7 260.5,479.9 261.0,480.9 261.6,481.5 262.1,481.7 262.6,481.6 263.1,481.1 263.6,480.5 264.1,479.6 264.6,478.5 265.1,477.3 265.7,476.2 266.2,475.0 266.7,473.9 267.2,473.0 267.7,472.4 268.2,471.9 268.7,471.8 269.2,472.0 269.8,472.4 270.3,473.1 270.8,474.1 271.3,475.1 271.9,476.2 272.4,477.2 272.9,478.2 273.4,478.9 274.0,479.3 274.5,479.5 275.0,479.4 275.5,479.2 276.0,478.9 276.5,478.5 277.1,478.0 277.6,477.5 278.1,477.1 278.6,476.8 279.1,476.6 279.6,476.5 280.1,476.6 280.6,476.8 281.2,477.1 281.7,477.6 282.2,478.2 282.7,478.8 283.2,479.4 283.8,480.1 284.3,480.7 284.8,481.3 285.3,481.8 285.9,482.1 286.4,482.3 286.9,482.4 287.4,482.0 288.0,480.8 288.6,479.0 289.1,476.9 289.6,474.9 290.2,473.1 290.8,471.9 291.3,471.5 291.8,471.7 292.3,472.4 292.8,473.5 293.3,474.8 293.9,476.2 294.4,477.7 294.9,479.0 295.4,480.1 295.9,480.8 296.4,481.0 296.9,480.9 297.4,480.5 297.9,480.0 298.4,479.2 298.9,478.3 299.4,477.4 300.0,476.3 300.5,475.4 301.0,474.5 301.5,473.7 302.0,473.2 302.5,472.8 303.0,472.7 303.5,472.8 304.0,473.0 304.5,473.3 305.0,473.7 305.5,474.2 306.0,474.8 306.6,475.3 307.1,475.9 307.6,476.4 308.1,476.8 308.6,477.1 309.1,477.3 309.6,477.4 310.1,477.5 310.6,477.7 311.2,478.0 311.7,478.5 312.2,479.0 312.7,479.7 313.2,480.3 313.8,480.9 314.3,481.6 314.8,482.1 315.3,482.6 315.9,482.9 316.4,483.1 316.9,483.2 317.4,483.1 318.0,482.7 318.5,482.0 319.0,481.2 319.5,480.3 320.1,479.4 320.6,478.5 321.1,477.7 321.6,477.0 322.2,476.6 322.7,476.5 323.2,476.6 323.8,476.9 324.3,477.4 324.8,477.9 325.3,478.4 325.9,478.7 326.4,478.8" fill="none" stroke="#0072BD" stroke-width="2.3" stroke-linejoin="round"/>
<polyline points="44.4,477.5 44.9,477.4 45.4,477.2 45.9,476.9 46.5,476.6 47.0,476.3 47.5,476.1 48.0,476.0 48.5,476.1 49.0,476.4 49.5,476.8 50.0,477.2 50.5,477.7 51.0,478.1 51.5,478.4 52.0,478.5 52.5,478.4 53.0,478.1 53.5,477.7 54.0,477.2 54.5,476.8 55.0,476.4 55.5,476.1 56.0,476.0 56.5,476.0 57.0,476.2 57.5,476.4 58.0,476.7 58.5,477.0 59.0,477.3 59.5,477.6 60.0,477.8 60.5,478.0 61.0,478.0 61.5,478.0 62.0,477.8 62.5,477.6 63.0,477.4 63.5,477.2 64.0,476.9 64.5,476.7 65.0,476.5 65.5,476.3 66.0,476.3 66.5,476.3 67.0,476.4 67.5,476.6 68.0,476.8 68.5,477.0 69.0,477.2 69.5,477.5 70.0,477.7 70.5,477.9 71.0,478.1 71.5,478.2 72.0,478.2 72.5,478.2 73.0,478.1 73.5,477.9 74.0,477.7 74.5,477.5 75.0,477.2 75.5,476.9 76.0,476.7 76.5,476.5 77.0,476.3 77.5,476.2 78.0,476.2 78.5,476.2 79.0,476.3 79.5,476.5 80.0,476.7 80.5,476.9 81.0,477.2 81.5,477.5 82.0,477.7 82.5,477.9 83.0,478.1 83.5,478.2 84.0,478.2 84.5,478.2 85.0,478.1 85.5,478.0 86.0,477.8 86.5,477.6 87.0,477.4 87.5,477.1 88.0,476.9 88.5,476.7 89.0,476.6 89.5,476.5 90.0,476.5 90.5,476.5 91.0,476.6 91.5,476.7 92.0,476.9 92.5,477.1 93.0,477.2 93.5,477.4 94.0,477.6 94.5,477.8 95.0,477.9 95.5,478.0 96.0,478.0 96.5,478.0 97.0,477.9 97.5,477.8 98.0,477.6 98.5,477.4 99.0,477.2 99.5,476.9 100.0,476.7 100.5,476.5 101.0,476.4 101.5,476.3 102.0,476.3 102.5,476.3 103.0,476.4 103.5,476.5 104.0,476.7 104.5,476.9 105.0,477.1 105.5,477.4 106.0,477.6 106.5,477.8 107.0,477.9 107.5,478.0 108.0,478.0 108.5,477.9 109.0,477.8 109.5,477.5 110.0,477.2 110.5,477.0 111.0,476.7 111.5,476.6 112.0,476.5 112.5,476.4 113.1,476.1 113.6,475.7 114.2,475.2 114.7,474.8 115.3,474.5 115.8,474.4 116.3,474.5 116.8,474.8 117.4,475.3 117.9,475.9 118.4,476.6 118.9,477.3 119.4,477.9 120.0,478.4 120.5,478.7 121.0,478.8 121.5,478.7 122.1,478.4 122.6,478.0 123.1,477.5 123.7,476.9 124.2,476.3 124.7,475.8 125.2,475.4 125.8,475.1 126.3,475.0 126.8,475.3 127.4,476.1 127.9,477.1 128.4,478.1 129.0,478.9 129.5,479.2 130.0,478.8 130.5,477.8 131.0,476.4 131.5,474.9 132.0,473.9 132.5,473.5 133.0,474.0 133.5,475.5 134.0,477.6 134.5,480.0 135.0,482.1 135.5,483.6 136.0,484.1 136.5,483.7 137.0,482.6 137.5,481.0 138.0,479.3 138.5,477.7 139.0,476.6 139.5,476.2 140.0,476.2 140.5,476.3 141.0,476.3 141.5,476.4 142.0,476.5 142.5,476.5 143.0,476.8 143.5,477.7 144.0,479.1 144.5,480.7 145.0,482.3 145.5,483.7 146.0,484.6 146.5,484.9 147.1,484.4 147.6,482.8 148.2,480.6 148.7,477.9 149.2,475.2 149.8,473.0 150.3,471.4 150.9,470.9 151.4,471.2 151.9,472.1 152.5,473.3 153.0,474.8 153.5,476.4 154.1,477.6 154.6,478.5 155.1,478.8 155.6,478.5 156.2,477.6 156.7,476.2 157.2,474.3 157.8,472.2 158.3,470.1 158.9,468.0 159.4,466.1 159.9,464.7 160.5,463.8 161.0,463.5 161.5,464.3 162.1,466.5 162.6,470.0 163.2,474.3 163.7,479.2 164.2,484.1 164.8,488.4 165.3,491.9 165.9,494.1 166.4,494.9 166.9,494.2 167.4,492.2 167.9,489.0 168.5,484.8 169.0,480.0 169.5,474.8 170.0,469.6 170.5,464.8 171.1,460.6 171.6,457.4 172.1,455.4 172.6,454.7 173.1,455.5 173.6,457.6 174.1,461.0 174.6,465.3 175.1,470.0 175.7,474.8 176.2,479.1 176.7,482.5 177.2,484.6 177.7,485.4 178.3,485.1 178.8,484.4 179.4,483.5 179.9,482.8 180.5,482.5 181.0,482.7 181.5,483.1 182.0,483.8 182.5,484.6 183.0,485.5 183.5,486.3 184.0,487.0 184.5,487.4 185.0,487.6 185.5,487.3 186.0,486.6 186.5,485.4 187.0,483.8 187.5,481.9 188.0,479.9 188.6,477.7 189.1,475.7 189.6,473.8 190.1,472.2 190.6,471.0 191.1,470.3 191.6,470.0 192.1,470.1 192.6,470.4 193.2,471.0 193.7,471.7 194.2,472.5 194.7,473.4 195.2,474.4 195.8,475.4 196.3,476.3 196.8,477.1 197.3,477.8 197.9,478.4 198.4,478.7 198.9,478.8 199.4,478.7 200.0,478.4 200.5,477.9 201.0,477.3 201.5,476.6 202.1,475.9 202.6,475.2 203.1,474.6 203.6,474.1 204.2,473.8 204.7,473.7 205.2,473.8 205.8,474.3 206.3,474.9 206.8,475.6 207.4,476.3 207.9,476.9 208.5,477.4 209.0,477.5 209.5,477.8 210.0,478.5 210.6,479.7 211.1,481.2 211.6,482.9 212.1,484.6 212.6,486.1 213.2,487.3 213.7,488.0 214.2,488.3 214.7,488.0 215.2,487.1 215.7,485.6 216.2,483.7 216.7,481.5 217.2,479.0 217.8,476.4 218.3,473.9 218.8,471.7 219.3,469.8 219.8,468.3 220.3,467.4 220.8,467.1 221.4,467.6 222.0,468.9 222.6,470.3 223.2,470.8 223.7,470.4 224.3,469.4 224.8,468.2 225.4,467.2 225.9,466.8 226.5,467.3 227.0,468.9 227.6,471.2 228.1,473.9 228.7,476.6 229.2,478.9 229.8,480.5 230.3,481.0 230.9,480.6 231.4,479.8 231.9,478.9 232.5,478.5 233.0,478.7 233.6,479.3 234.1,480.2 234.6,481.4 235.2,482.5 235.7,483.7 236.2,484.6 236.8,485.2 237.3,485.4 237.8,485.2 238.3,484.7 238.9,483.9 239.4,482.8 239.9,481.5 240.4,480.0 240.9,478.4 241.5,476.9 242.0,475.4 242.5,474.1 243.0,473.0 243.6,472.2 244.1,471.7 244.6,471.5 245.1,471.6 245.6,471.9 246.2,472.4 246.7,473.0 247.2,473.8 247.7,474.6 248.2,475.5 248.8,476.4 249.3,477.2 249.8,478.0 250.3,478.6 250.9,479.1 251.4,479.4 251.9,479.5 252.4,479.4 253.0,479.2 253.5,478.7 254.0,478.2 254.5,477.6 255.1,477.0 255.6,476.4 256.1,475.9 256.6,475.4 257.2,475.2 257.7,475.1 258.2,475.2 258.8,475.4 259.3,475.8 259.9,476.2 260.4,476.7 260.9,477.1 261.5,477.3 262.0,477.4 262.5,477.3 263.0,477.1 263.5,476.8 264.0,476.4 264.5,476.1 265.0,475.7 265.5,475.4 266.0,475.2 266.5,475.1 267.0,475.2 267.5,475.5 268.1,475.9 268.6,476.5 269.1,477.2 269.6,477.9 270.1,478.8 270.7,479.6 271.2,480.3 271.7,481.0 272.2,481.6 272.8,482.0 273.3,482.3 273.8,482.4 274.3,482.3 274.8,482.0 275.3,481.5 275.8,480.8 276.3,479.9 276.8,478.9 277.3,477.9 277.8,476.8 278.3,475.7 278.8,474.7 279.3,473.7 279.8,472.8 280.3,472.1 280.8,471.6 281.3,471.3 281.8,471.2 282.3,471.3 282.8,471.6 283.3,472.2 283.8,472.8 284.3,473.7 284.8,474.5 285.4,475.5 285.9,476.3 286.4,477.2 286.9,477.8 287.4,478.4 287.9,478.7 288.4,478.8 288.9,478.8 289.4,478.8 290.0,478.9 290.5,478.9 291.0,479.0 291.5,479.1 292.0,479.1 292.6,479.2 293.1,479.3 293.6,479.4 294.1,479.4 294.7,479.5 295.2,479.5 295.7,479.5 296.2,479.4 296.7,479.2 297.2,478.8 297.7,478.3 298.2,477.7 298.7,476.9 299.2,476.2 299.7,475.4 300.2,474.5 300.7,473.8 301.2,473.0 301.7,472.4 302.2,471.9 302.7,471.5 303.2,471.3 303.7,471.2 304.2,471.4 304.8,471.9 305.3,472.8 305.8,473.9 306.4,475.1 306.9,476.4 307.5,477.6 308.0,478.7 308.5,479.6 309.1,480.1 309.6,480.3 310.1,480.1 310.7,479.4 311.2,478.4 311.8,477.2 312.3,476.0 312.8,475.0 313.4,474.3 313.9,474.1 314.4,474.4 315.0,475.4 315.5,476.8 316.0,478.3 316.5,479.7 317.1,480.7 317.6,481.0 318.1,480.8 318.7,480.3 319.2,479.6 319.7,478.6 320.2,477.4 320.8,476.3 321.3,475.1 321.8,474.1 322.3,473.4 322.9,472.9 323.4,472.7 323.9,473.1 324.4,474.3 324.9,475.8 325.4,477.4 325.9,478.6 326.4,479.0" fill="none" stroke="#D95319" stroke-width="2.3" stroke-linejoin="round"/>
</g>
<clipPath id="clipL1ns"><rect x="44.4" y="434.9" width="282" height="84.4"/></clipPath>
<rect x="44.4" y="434.9" width="282" height="84.4" fill="none" stroke="#262626" stroke-width="1.1"/>
<text x="44.4" y="536.6" font-size="12.6" text-anchor="middle" font-family='"Liberation Sans", sans-serif' >8</text>
<path d="M138.4 519.3v-3.3M138.4 434.9v3.3" stroke="#262626" stroke-width="1"/>
<text x="138.4" y="536.6" font-size="12.6" text-anchor="middle" font-family='"Liberation Sans", sans-serif' >10</text>
<path d="M232.4 519.3v-3.3M232.4 434.9v3.3" stroke="#262626" stroke-width="1"/>
<text x="232.4" y="536.6" font-size="12.6" text-anchor="middle" font-family='"Liberation Sans", sans-serif' >12</text>
<text x="326.4" y="536.6" font-size="12.6" text-anchor="middle" font-family='"Liberation Sans", sans-serif' >14</text>
<text x="39.8" y="524.2" font-size="12.6" text-anchor="end" font-family='"Liberation Sans", sans-serif' >-0.3</text>
<path d="M44.4 477.1h3.3M326.4 477.1h-3.3" stroke="#262626" stroke-width="1"/>
<text x="39.8" y="482" font-size="12.6" text-anchor="end" font-family='"Liberation Sans", sans-serif' >0</text>
<text x="39.8" y="439.8" font-size="12.6" text-anchor="end" font-family='"Liberation Sans", sans-serif' >0.3</text>
<text transform="translate(11.6 478.1) rotate(-90)" font-size="15.5" text-anchor="middle" font-family='"Liberation Sans", sans-serif' fill="#000">a [m/s/s]</text>
<text x="91.6" y="509.8" font-size="11.8" text-anchor="start" font-family='"Liberation Sans", sans-serif' >NS</text>
<path d="M172 375.2h19.8" stroke="#0072BD" stroke-width="2"/>
<text x="194" y="380" font-size="11.8" text-anchor="start" font-family='"Liberation Sans", sans-serif' >Topo</text>
<path d="M224.8 375.2h19.8" stroke="#D95319" stroke-width="2"/>
<text x="246" y="380" font-size="11.8" text-anchor="start" font-family='"Liberation Sans", sans-serif' >Topo &amp; Bathy</text>
<text x="185.3" y="554.1" font-size="15.5" text-anchor="middle" font-family='"Liberation Sans", sans-serif' >t [s]</text>
<text x="185" y="583" font-size="18" text-anchor="middle" font-family='"Liberation Serif", serif' >(c)</text>
<g clip-path="url(#clipR1)">
<path d="M398.3,501.0C398.7,500.7 404.5,495.7 405.3,494.7C406.1,493.7 413.6,481.8 414.6,480.2C415.6,478.6 424.1,464.8 425.0,463.6C425.9,462.4 432.4,455.9 433.2,455.4C434.0,454.9 440.8,453.2 441.5,453.3C442.2,453.4 446.1,457.3 446.7,456.4C447.6,455.2 451.8,438.9 452.9,437.7C454.4,436.0 458.6,439.4 460.2,440.8C462.3,442.6 465.3,449.9 467.4,450.2C470.0,450.6 472.1,448.6 474.7,442.9C477.8,436.0 478.9,425.0 482.0,418.0C485.6,409.8 485.6,413.4 489.2,409.8C493.1,405.9 493.5,403.5 496.5,403.5C499.5,403.5 498.6,405.1 500.6,409.8C502.6,414.5 501.3,425.6 504.1,421.2C506.9,416.8 507.2,402.9 511.0,393.2C514.8,383.5 514.6,386.6 518.2,384.9C521.8,383.2 521.5,386.4 524.5,387.0C527.5,387.6 526.9,389.8 529.6,387.0C532.3,384.2 532.3,378.5 534.8,376.6C537.3,374.7 536.5,377.4 539.0,380.0C541.5,382.6 541.2,387.9 544.3,386.2C547.4,384.5 547.2,378.4 550.5,373.7C553.8,369.0 552.9,369.1 556.8,368.5C560.7,367.9 560.7,372.4 565.1,371.6C569.5,370.8 568.9,368.1 573.3,365.4C577.7,362.7 577.4,362.4 581.6,361.3C585.8,360.2 584.7,362.4 588.9,361.3C593.1,360.2 592.2,360.1 597.2,357.1C602.2,354.1 602.6,353.2 607.6,349.9C612.6,346.6 611.9,345.0 615.8,344.7C619.7,344.4 618.8,348.0 622.1,348.8C625.4,349.6 625.0,346.7 628.3,347.8C631.6,348.9 630.9,350.5 634.5,353.0C638.1,355.5 637.9,354.3 641.8,357.1C645.7,359.9 644.9,358.1 649.0,363.4C653.1,368.7 653.1,370.2 657.3,376.8C661.5,383.4 661.0,380.5 664.6,388.2C668.2,395.9 667.5,396.7 670.8,405.8C674.1,414.9 675.3,418.0 677.0,422.4" fill="none" stroke="#0072BD" stroke-width="2.3" stroke-linejoin="round" stroke-linecap="round"/>
<path d="M398.3,508.2C398.6,507.8 403.5,501.5 404.2,501.0C404.9,500.5 411.7,498.6 412.5,497.9C413.3,497.2 420.0,488.5 420.8,486.5C421.6,484.5 427.5,459.4 428.1,457.4C428.7,455.4 432.6,447.5 433.2,447.1C433.8,446.7 438.8,450.2 439.5,450.2C440.2,450.2 445.9,448.1 446.7,447.1C447.9,445.5 453.8,431.6 455.0,430.5C456.9,428.9 460.6,434.3 462.3,433.6C464.5,432.6 467.6,426.4 469.5,424.3C471.8,421.8 472.6,421.7 474.7,420.1C477.1,418.3 478.5,416.2 480.9,416.0C483.7,415.8 483.6,420.9 486.1,419.1C488.9,417.2 488.5,411.2 491.3,408.7C494.1,406.2 493.2,413.1 496.5,409.8C499.8,406.5 499.8,401.3 503.7,396.3C507.6,391.3 507.4,392.5 511.0,391.1C514.6,389.7 513.6,395.8 517.2,391.1C520.8,386.4 521.5,376.3 524.5,373.5C527.5,370.7 525.9,379.9 528.6,380.7C531.3,381.5 533.1,378.5 534.8,376.6C536.5,374.7 532.7,375.9 535.0,373.7C537.3,371.5 538.9,368.2 543.3,368.5C547.7,368.8 547.2,374.0 551.6,374.8C556.0,375.6 555.2,373.3 559.9,371.6C564.6,369.9 564.2,370.7 569.2,368.5C574.2,366.3 573.8,365.6 578.5,363.4C583.2,361.2 582.6,363.4 586.8,360.2C591.0,357.0 589.9,351.2 594.1,351.5C598.3,351.8 597.7,361.2 602.4,361.3C607.1,361.4 607.8,354.5 611.7,352.0C615.6,349.5 613.6,352.7 616.9,352.0C620.2,351.3 620.0,349.0 624.1,349.5C628.2,350.0 628.5,352.2 632.4,354.0C636.3,355.8 634.8,354.2 638.7,356.1C642.6,358.0 642.9,356.9 647.0,361.3C651.1,365.7 650.3,365.2 654.2,372.7C658.1,380.2 657.9,381.0 661.5,389.3C665.1,397.6 663.6,394.7 667.7,403.8C671.8,412.9 674.5,418.2 677.0,423.5" fill="none" stroke="#D95319" stroke-width="2.3" stroke-linejoin="round" stroke-linecap="round"/>
<path d="M398.3,505.1C398.7,504.8 405.4,500.4 406.3,499.9C407.2,499.4 414.7,496.8 415.6,495.8C416.5,494.8 423.0,481.9 423.9,480.2C424.8,478.5 432.4,462.6 433.2,461.6C434.0,460.6 439.8,460.3 440.5,460.5C441.2,460.7 446.1,466.7 446.7,465.7C447.7,464.1 451.8,442.0 452.9,439.8C454.4,436.7 458.7,436.9 460.2,437.7C462.1,438.7 464.8,446.5 466.4,447.1C468.4,447.8 469.6,447.3 471.6,441.9C473.9,435.7 475.5,424.0 477.8,416.0C480.4,406.8 480.4,402.5 483.0,401.5C485.9,400.4 486.6,408.4 489.2,411.8C492.0,415.4 490.6,419.0 493.4,414.9C496.2,410.8 496.3,402.6 499.6,396.3C502.9,390.0 501.9,392.8 505.8,391.1C509.7,389.4 509.7,392.0 514.1,390.1C518.5,388.2 518.3,387.4 522.4,383.8C526.5,380.2 526.3,377.7 529.6,376.6C532.9,375.5 532.0,381.1 534.8,379.7C537.6,378.3 537.7,373.6 540.0,371.4C542.3,369.2 540.8,372.1 543.3,371.6C545.8,371.1 545.4,372.2 549.5,369.6C553.6,367.0 554.4,364.0 558.8,361.9C563.2,359.8 562.2,361.8 566.1,361.9C570.0,362.0 569.2,360.8 573.3,362.3C577.4,363.8 577.4,367.8 581.6,367.5C585.8,367.2 584.2,364.3 588.9,361.3C593.6,358.3 594.3,357.6 599.3,356.1C604.3,354.6 603.7,355.1 607.6,355.7C611.5,356.3 610.5,357.8 613.8,358.2C617.1,358.6 616.1,356.0 620.0,357.1C623.9,358.2 623.9,359.3 628.3,362.3C632.7,365.3 631.6,367.1 636.6,368.5C641.6,369.9 642.2,364.7 646.9,367.5C651.6,370.3 650.3,372.0 654.2,378.9C658.1,385.8 657.9,385.9 661.5,393.4C665.1,400.9 663.6,397.5 667.7,406.9C671.8,416.3 674.5,422.8 677.0,428.6" fill="none" stroke="#EDB120" stroke-width="2.3" stroke-linejoin="round" stroke-linecap="round"/>
<path d="M401.1,514.4C401.5,513.8 407.7,504.1 408.4,503.0C409.1,501.9 415.0,492.3 415.6,491.6C416.2,490.9 420.3,489.7 420.8,488.5C421.3,487.3 425.3,469.4 426.0,467.8C426.7,466.2 434.4,458.0 435.3,457.4C436.2,456.8 442.8,457.6 443.6,456.4C444.7,454.8 451.0,433.9 451.9,432.6C453.4,430.5 456.8,435.8 458.1,436.7C459.8,437.8 462.5,443.0 464.3,440.8C466.5,438.1 469.6,425.3 471.6,420.1C474.1,413.7 474.5,413.2 476.8,408.7C479.3,403.6 480.7,399.4 483.0,397.3C485.6,395.0 484.8,397.6 487.1,399.4C489.6,401.3 489.0,406.8 492.3,404.6C495.6,402.4 494.9,397.5 499.6,391.1C504.3,384.7 506.1,382.9 510.0,380.7C513.9,378.5 511.1,383.6 514.1,382.8C517.1,382.0 516.9,379.3 521.3,377.6C525.7,375.9 527.0,378.2 530.7,376.6C534.4,375.0 532.5,374.0 535.0,371.6C537.5,369.2 537.4,368.0 540.2,367.5C543.0,367.0 542.4,370.8 545.4,369.6C548.4,368.4 547.7,363.2 551.6,362.9C555.5,362.6 554.6,368.4 559.9,368.5C565.2,368.6 566.0,366.1 571.3,363.4C576.6,360.7 575.5,358.6 579.6,358.2C583.7,357.8 583.2,361.9 586.8,361.9C590.4,361.9 588.6,358.1 593.0,358.2C597.4,358.3 598.7,361.8 603.4,362.3C608.1,362.8 606.8,360.5 610.7,360.2C614.6,359.9 614.6,360.2 617.9,361.3C621.2,362.4 620.1,363.8 623.1,364.4C626.1,365.0 625.1,360.2 629.3,363.4C633.5,366.6 634.0,372.8 638.7,376.4C643.4,380.0 642.6,372.8 647.0,376.8C651.4,380.8 651.9,386.9 655.2,391.3C658.5,395.7 656.6,390.1 659.4,393.4C662.2,396.7 662.3,396.1 665.6,403.8C668.9,411.5 668.8,413.6 671.8,422.4C674.8,431.2 675.6,433.0 677.0,436.9" fill="none" stroke="#7E2F8E" stroke-width="2.3" stroke-linejoin="round" stroke-linecap="round"/>
</g>
<clipPath id="clipR1"><rect x="398.3" y="307.4" width="278.7" height="208.1"/></clipPath>
<rect x="398.3" y="307.4" width="278.7" height="208.1" fill="none" stroke="#262626" stroke-width="1.1"/>
<path d="M440.25 515.5v-2.0M440.25 307.4v2.0M464.79 515.5v-2.0M464.79 307.4v2.0M482.2 515.5v-2.0M482.2 307.4v2.0M495.7 515.5v-2.0M495.7 307.4v2.0M506.74 515.5v-2.0M506.74 307.4v2.0M516.06 515.5v-2.0M516.06 307.4v2.0M524.15 515.5v-2.0M524.15 307.4v2.0M531.27 515.5v-2.0M531.27 307.4v2.0M537.65 515.5v-3.2M537.65 307.4v3.2M579.6 515.5v-2.0M579.6 307.4v2.0M604.14 515.5v-2.0M604.14 307.4v2.0M621.55 515.5v-2.0M621.55 307.4v2.0M635.05 515.5v-2.0M635.05 307.4v2.0M646.09 515.5v-2.0M646.09 307.4v2.0M655.41 515.5v-2.0M655.41 307.4v2.0M663.5 515.5v-2.0M663.5 307.4v2.0M670.62 515.5v-2.0M670.62 307.4v2.0" stroke="#262626" stroke-width="1"/>
<path d="M398.3 502.97h2.0M677 502.97h-2.0M398.3 495.64h2.0M677 495.64h-2.0M398.3 490.44h2.0M677 490.44h-2.0M398.3 486.41h2.0M677 486.41h-2.0M398.3 483.11h2.0M677 483.11h-2.0M398.3 480.33h2.0M677 480.33h-2.0M398.3 477.91h2.0M677 477.91h-2.0M398.3 475.78h2.0M677 475.78h-2.0M398.3 473.88h3.2M677 473.88h-3.2M398.3 461.35h2.0M677 461.35h-2.0M398.3 454.02h2.0M677 454.02h-2.0M398.3 448.82h2.0M677 448.82h-2.0M398.3 444.79h2.0M677 444.79h-2.0M398.3 441.49h2.0M677 441.49h-2.0M398.3 438.71h2.0M677 438.71h-2.0M398.3 436.29h2.0M677 436.29h-2.0M398.3 434.16h2.0M677 434.16h-2.0M398.3 432.26h3.2M677 432.26h-3.2M398.3 419.73h2.0M677 419.73h-2.0M398.3 412.4h2.0M677 412.4h-2.0M398.3 407.2h2.0M677 407.2h-2.0M398.3 403.17h2.0M677 403.17h-2.0M398.3 399.87h2.0M677 399.87h-2.0M398.3 397.09h2.0M677 397.09h-2.0M398.3 394.67h2.0M677 394.67h-2.0M398.3 392.54h2.0M677 392.54h-2.0M398.3 390.64h3.2M677 390.64h-3.2M398.3 378.11h2.0M677 378.11h-2.0M398.3 370.78h2.0M677 370.78h-2.0M398.3 365.58h2.0M677 365.58h-2.0M398.3 361.55h2.0M677 361.55h-2.0M398.3 358.25h2.0M677 358.25h-2.0M398.3 355.47h2.0M677 355.47h-2.0M398.3 353.05h2.0M677 353.05h-2.0M398.3 350.92h2.0M677 350.92h-2.0M398.3 349.02h3.2M677 349.02h-3.2M398.3 336.49h2.0M677 336.49h-2.0M398.3 329.16h2.0M677 329.16h-2.0M398.3 323.96h2.0M677 323.96h-2.0M398.3 319.93h2.0M677 319.93h-2.0M398.3 316.63h2.0M677 316.63h-2.0M398.3 313.85h2.0M677 313.85h-2.0M398.3 311.43h2.0M677 311.43h-2.0M398.3 309.3h2.0M677 309.3h-2.0" stroke="#262626" stroke-width="1"/>
<text x="398.9" y="536.9" font-size="12.6" text-anchor="middle" font-family='"Liberation Sans", sans-serif'>10<tspan font-size="9.6" dx="0.7" dy="-6.6">-1</tspan></text>
<text x="538.25" y="536.9" font-size="12.6" text-anchor="middle" font-family='"Liberation Sans", sans-serif'>10<tspan font-size="9.6" dx="0.7" dy="-6.6">0</tspan></text>
<text x="677.6" y="536.9" font-size="12.6" text-anchor="middle" font-family='"Liberation Sans", sans-serif'>10<tspan font-size="9.6" dx="0.7" dy="-6.6">1</tspan></text>
<text x="393.3" y="522.9" font-size="12.6" text-anchor="end" font-family='"Liberation Sans", sans-serif'>10<tspan font-size="9.6" dx="0.7" dy="-6.6">-5</tspan></text>
<text x="393.3" y="481.28" font-size="12.6" text-anchor="end" font-family='"Liberation Sans", sans-serif'>10<tspan font-size="9.6" dx="0.7" dy="-6.6">-4</tspan></text>
<text x="393.3" y="439.66" font-size="12.6" text-anchor="end" font-family='"Liberation Sans", sans-serif'>10<tspan font-size="9.6" dx="0.7" dy="-6.6">-3</tspan></text>
<text x="393.3" y="398.04" font-size="12.6" text-anchor="end" font-family='"Liberation Sans", sans-serif'>10<tspan font-size="9.6" dx="0.7" dy="-6.6">-2</tspan></text>
<text x="393.3" y="356.42" font-size="12.6" text-anchor="end" font-family='"Liberation Sans", sans-serif'>10<tspan font-size="9.6" dx="0.7" dy="-6.6">-1</tspan></text>
<text x="393.3" y="314.8" font-size="12.6" text-anchor="end" font-family='"Liberation Sans", sans-serif'>10<tspan font-size="9.6" dx="0.7" dy="-6.6">0</tspan></text>
<text transform="translate(364.4 459) rotate(-90)" font-size="15.5" text-anchor="start" font-family='"Liberation Sans", sans-serif'>IFFTI [m/s]</text>
<circle cx="360.3" cy="383.25" r="0.85" fill="#222"/>
<text x="537.65" y="554.4" font-size="15.5" text-anchor="middle" font-family='"Liberation Sans", sans-serif' >f [Hz]</text>
<text x="538.15" y="583.1" font-size="18" text-anchor="middle" font-family='"Liberation Serif", serif' >(d)</text>
<text x="440.2" y="341.4" font-size="11.8" text-anchor="start" font-family='"Liberation Sans", sans-serif' >Z=140m</text>
<path d="M554.4 458.2h19.5" stroke="#0072BD" stroke-width="2"/>
<text x="576" y="463.4" font-size="11.8" text-anchor="start" font-family='"Liberation Sans", sans-serif' >Topo EW</text>
<path d="M554.4 472.53h19.5" stroke="#D95319" stroke-width="2"/>
<text x="576" y="477.73" font-size="11.8" text-anchor="start" font-family='"Liberation Sans", sans-serif' >Topo &amp; Bathy EW</text>
<path d="M554.4 486.86h19.5" stroke="#EDB120" stroke-width="2"/>
<text x="576" y="492.06" font-size="11.8" text-anchor="start" font-family='"Liberation Sans", sans-serif' >Topo NS</text>
<path d="M554.4 501.19h19.5" stroke="#7E2F8E" stroke-width="2"/>
<text x="576" y="506.39" font-size="11.8" text-anchor="start" font-family='"Liberation Sans", sans-serif' >Topo &amp; Bathy NS</text>
<g clip-path="url(#clipL2ew)">
<polyline points="44.4,647.4 44.9,647.4 45.4,647.4 45.9,647.4 46.4,647.4 46.9,647.4 47.4,647.4 47.9,647.4 48.4,647.4 48.9,647.4 49.4,647.4 49.9,647.4 50.4,647.4 50.9,647.4 51.4,647.4 51.9,647.4 52.4,647.4 52.9,647.4 53.4,647.4 53.9,647.4 54.4,647.4 54.9,647.4 55.4,647.4 55.9,647.4 56.4,647.4 56.9,647.4 57.4,647.4 57.9,647.4 58.4,647.4 58.9,647.4 59.4,647.4 59.9,647.4 60.4,647.4 60.9,647.4 61.4,647.4 61.9,647.4 62.4,647.4 62.9,647.4 63.4,647.4 63.9,647.4 64.4,647.4 64.9,647.4 65.4,647.4 65.9,647.4 66.4,647.4 66.9,647.4 67.4,647.4 67.9,647.4 68.4,647.4 68.9,647.4 69.4,647.4 69.9,647.4 70.4,647.4 70.9,647.4 71.4,647.4 71.9,647.4 72.4,647.4 72.9,647.4 73.4,647.4 73.9,647.4 74.4,647.4 74.9,647.4 75.4,647.4 75.9,647.4 76.4,647.4 76.9,647.4 77.4,647.4 77.9,647.4 78.4,647.4 78.9,647.4 79.4,647.4 79.9,647.4 80.4,647.4 80.9,647.6 81.4,647.7 82.0,647.9 82.5,648.2 83.0,648.3 83.5,648.5 84.0,648.5 84.5,648.4 85.0,648.2 85.5,647.9 86.0,647.5 86.5,647.1 87.0,646.8 87.5,646.6 88.0,646.5 88.5,646.6 89.0,646.8 89.5,647.1 90.0,647.5 90.5,647.9 91.0,648.2 91.5,648.4 92.0,648.5 92.5,648.4 93.0,648.2 93.5,647.9 94.0,647.5 94.5,647.1 95.0,646.8 95.5,646.6 96.0,646.5 96.5,646.6 97.0,646.8 97.5,647.1 98.0,647.5 98.5,647.9 99.0,648.2 99.5,648.4 100.0,648.5 100.5,648.4 101.0,648.2 101.5,647.9 102.0,647.5 102.5,647.1 103.0,646.8 103.5,646.6 104.0,646.5 104.5,646.6 105.0,646.8 105.5,647.1 106.0,647.5 106.5,647.9 107.0,648.2 107.5,648.4 108.0,648.5 108.5,648.4 109.0,648.2 109.5,647.9 110.0,647.5 110.5,647.1 111.0,646.8 111.5,646.6 112.0,646.5 112.5,646.6 113.0,646.8 113.5,647.1 114.0,647.5 114.5,647.9 115.0,648.2 115.5,648.4 116.0,648.5 116.5,648.4 117.0,648.2 117.5,647.9 118.0,647.5 118.5,647.1 119.0,646.8 119.5,646.6 120.0,646.5 120.5,646.6 121.0,646.8 121.5,647.1 122.0,647.5 122.5,647.9 123.0,648.2 123.5,648.4 124.0,648.5 124.5,648.4 125.0,648.2 125.5,647.9 126.0,647.5 126.5,647.1 127.0,646.8 127.5,646.6 128.0,646.5 128.5,646.6 129.0,646.8 129.5,647.1 130.0,647.5 130.5,647.9 131.0,648.2 131.5,648.4 132.0,648.5 132.5,648.4 133.0,648.2 133.5,647.9 134.0,647.5 134.5,647.1 135.0,646.8 135.5,646.6 136.0,646.5 136.5,646.6 137.0,646.8 137.5,647.1 138.0,647.5 138.5,648.0 139.0,648.4 139.5,648.7 140.0,648.9 140.5,649.0 141.0,648.8 141.5,648.2 142.0,647.3 142.5,646.2 143.0,645.2 143.5,644.3 144.0,643.7 144.5,643.5 145.1,643.5 145.6,643.4 146.2,643.3 146.7,643.2 147.3,643.2 147.8,643.7 148.4,645.1 148.9,647.1 149.4,649.3 149.9,651.3 150.5,652.7 151.0,653.2 151.5,652.6 152.0,651.1 152.5,649.1 153.0,647.6 153.5,647.0 154.0,647.8 154.5,649.2 155.0,650.0 155.7,640.0 156.4,630.0 156.9,640.0 157.5,650.0 158.1,651.0 158.6,653.4 159.1,655.8 159.7,656.8 160.2,656.4 160.8,655.2 161.3,653.5 161.8,651.4 162.4,649.3 162.9,647.6 163.5,646.4 164.0,646.0 164.5,646.1 165.1,646.5 165.6,647.0 166.1,647.5 166.6,648.0 167.2,648.4 167.7,648.5 168.2,648.4 168.8,648.1 169.3,647.7 169.8,647.3 170.3,646.9 170.9,646.6 171.4,646.5 171.9,646.7 172.4,647.2 172.9,647.9 173.5,648.6 174.0,649.3 174.5,649.8 175.0,650.0 175.5,649.7 176.0,648.8 176.5,647.5 177.0,646.2 177.5,645.3 178.0,645.0 178.5,644.9 179.1,644.7 179.6,644.3 180.2,643.9 180.7,643.4 181.2,643.0 181.8,642.8 182.3,642.7 182.9,643.8 183.4,646.5 183.9,649.1 184.5,650.2 185.0,650.0 185.5,649.6 186.0,649.0 186.5,648.2 187.0,647.6 187.5,647.2 188.0,647.0 188.5,647.0 189.0,647.1 189.5,647.3 190.0,647.4 190.5,647.6 191.0,647.9 191.5,648.1 192.0,648.2 192.5,648.4 193.0,648.5 193.5,648.5 194.0,648.4 194.5,648.1 195.0,647.7 195.5,647.3 196.0,646.9 196.5,646.6 197.0,646.5 197.5,646.2 198.0,645.2 198.5,643.9 199.1,642.3 199.6,641.0 200.1,640.0 200.6,639.7 201.1,641.7 201.6,646.9 202.1,653.3 202.6,658.5 203.1,660.5 203.6,658.3 204.1,652.4 204.7,645.2 205.2,639.3 205.7,637.1 206.2,638.6 206.7,642.7 207.3,647.6 207.8,651.7 208.3,653.2 208.8,652.7 209.4,651.2 209.9,649.1 210.4,647.1 211.0,645.5 211.5,645.0 212.0,645.3 212.5,646.1 213.0,647.2 213.5,648.4 214.0,649.2 214.5,649.5 215.0,649.3 215.5,648.9 216.0,648.2 216.5,647.3 217.1,646.4 217.6,645.4 218.1,644.5 218.6,643.8 219.1,643.4 219.6,643.2 220.2,643.5 220.7,644.4 221.3,645.6 221.9,646.8 222.4,647.7 223.0,648.0 223.5,648.1 224.0,648.5 224.5,649.0 225.0,649.7 225.6,650.3 226.1,651.0 226.6,651.5 227.1,651.9 227.6,652.0 228.2,651.7 228.7,651.0 229.2,649.8 229.8,648.5 230.3,647.2 230.9,646.0 231.4,645.3 232.0,645.0 232.5,645.2 233.0,645.7 233.5,646.4 234.0,647.2 234.5,648.1 235.0,648.8 235.5,649.3 236.0,649.5 236.5,649.3 237.0,648.9 237.5,648.3 238.0,647.5 238.5,646.7 239.0,646.1 239.5,645.7 240.0,645.5 240.5,645.6 241.0,645.9 241.5,646.3 242.0,646.9 242.5,647.5 243.0,648.1 243.5,648.7 244.0,649.1 244.5,649.4 245.0,649.5 245.5,649.4 246.0,649.1 246.5,648.7 247.0,648.1 247.5,647.5 248.0,646.9 248.5,646.3 249.0,645.9 249.5,645.6 250.0,645.5 250.5,645.6 251.0,645.9 251.5,646.3 252.0,646.9 252.5,647.5 253.0,648.1 253.5,648.7 254.0,649.1 254.5,649.4 255.0,649.5 255.5,649.2 256.0,648.4 256.5,647.2 257.0,646.1 257.5,645.3 258.0,645.0 258.5,645.7 259.0,647.4 259.5,649.6 260.0,651.3 260.5,652.0 261.0,651.3 261.5,649.6 262.0,647.4 262.5,645.7 263.0,645.0 263.5,645.2 264.0,645.6 264.5,646.2 265.0,647.0 265.5,647.8 266.0,648.4 266.5,648.8 267.0,649.0 267.5,648.9 268.0,648.7 268.5,648.4 269.0,648.0 269.5,647.5 270.0,647.0 270.5,646.6 271.0,646.3 271.5,646.1 272.0,646.0 272.5,646.1 273.0,646.4 273.5,646.9 274.0,647.5 274.5,648.1 275.0,648.6 275.5,648.9 276.0,649.0 276.5,648.9 277.0,648.6 277.5,648.2 278.0,647.6 278.5,647.0 279.0,646.4 279.5,645.8 280.0,645.4 280.5,645.1 281.0,645.0 281.5,645.1 282.0,645.4 282.5,645.9 283.0,646.5 283.5,647.1 284.0,647.6 284.5,647.9 285.0,648.0 285.6,646.7 286.3,644.0 286.9,642.7 287.4,645.9 287.9,652.2 288.4,655.4 288.9,653.3 289.5,648.1 290.1,642.9 290.6,640.8 291.2,642.4 291.7,646.4 292.2,650.4 292.8,652.0 293.3,651.6 293.9,650.5 294.4,649.0 294.9,647.5 295.5,646.4 296.0,646.0 296.5,646.1 297.0,646.4 297.5,646.8 298.0,647.2 298.5,647.7 299.0,648.1 299.5,648.4 300.0,648.5 300.5,648.4 301.0,648.3 301.5,648.0 302.0,647.6 302.5,647.2 303.0,646.9 303.5,646.5 304.0,646.2 304.5,646.1 305.0,646.0 305.5,646.1 306.0,646.2 306.5,646.5 307.0,646.9 307.5,647.2 308.0,647.6 308.5,648.0 309.0,648.3 309.5,648.4 310.0,648.5 310.5,648.4 311.0,648.3 311.5,648.0 312.0,647.6 312.5,647.2 313.0,646.9 313.5,646.5 314.0,646.2 314.5,646.1 315.0,646.0 315.5,646.1 316.0,646.2 316.5,646.5 317.0,646.9 317.5,647.2 318.0,647.6 318.5,648.0 319.0,648.3 319.5,648.4 320.0,648.5 320.5,648.5 321.1,648.6 321.6,648.6 322.1,648.8 322.7,648.9 323.2,649.0 323.7,649.1 324.3,649.2 324.8,649.4 325.3,649.4 325.9,649.5 326.4,649.5" fill="none" stroke="#0072BD" stroke-width="2.3" stroke-linejoin="round"/>
<polyline points="44.4,647.4 44.9,647.4 45.4,647.4 45.9,647.4 46.4,647.4 46.9,647.4 47.4,647.4 47.9,647.4 48.4,647.4 48.9,647.4 49.4,647.4 49.9,647.4 50.4,647.4 50.9,647.4 51.4,647.4 51.9,647.4 52.4,647.4 52.9,647.4 53.4,647.4 53.9,647.4 54.4,647.4 54.9,647.4 55.4,647.4 55.9,647.4 56.4,647.4 56.9,647.4 57.4,647.4 57.9,647.4 58.4,647.4 58.9,647.4 59.4,647.4 59.9,647.4 60.4,647.4 60.9,647.4 61.4,647.4 61.9,647.4 62.4,647.4 62.9,647.4 63.4,647.4 63.9,647.4 64.4,647.4 64.9,647.4 65.4,647.4 65.9,647.4 66.4,647.4 66.9,647.4 67.4,647.4 67.9,647.4 68.4,647.4 68.9,647.4 69.4,647.4 69.9,647.4 70.4,647.4 70.9,647.4 71.4,647.4 71.9,647.4 72.4,647.4 72.9,647.4 73.4,647.4 73.9,647.4 74.4,647.4 74.9,647.4 75.4,647.4 75.9,647.4 76.4,647.4 76.9,647.4 77.4,647.4 77.9,647.4 78.4,647.4 78.9,647.4 79.4,647.4 79.9,647.4 80.4,647.6 81.0,648.1 81.5,648.6 82.0,648.8 82.5,648.5 83.0,647.8 83.5,647.0 84.0,646.3 84.5,646.0 85.0,646.2 85.5,646.9 86.0,647.6 86.5,648.3 87.0,648.5 87.5,648.4 88.0,648.0 88.5,647.5 89.0,647.0 89.5,646.6 90.0,646.5 90.5,646.6 91.0,646.9 91.5,647.4 92.0,647.8 92.5,648.2 93.0,648.3 93.5,648.2 94.0,647.9 94.5,647.4 95.0,647.0 95.5,646.6 96.0,646.5 96.5,646.6 97.0,646.8 97.5,647.1 98.0,647.4 98.5,647.7 99.0,648.0 99.5,648.2 100.0,648.3 100.5,648.2 101.0,648.0 101.5,647.7 102.0,647.4 102.5,647.1 103.0,646.8 103.5,646.6 104.0,646.5 104.5,646.6 105.0,646.8 105.5,647.1 106.0,647.4 106.5,647.7 107.0,648.0 107.5,648.2 108.0,648.3 108.5,648.2 109.0,648.0 109.5,647.7 110.0,647.4 110.5,647.1 111.0,646.8 111.5,646.6 112.0,646.5 112.5,646.6 113.0,646.8 113.5,647.1 114.0,647.4 114.5,647.7 115.0,648.0 115.5,648.2 116.0,648.3 116.5,648.2 117.0,648.0 117.5,647.7 118.0,647.4 118.5,647.1 119.0,646.8 119.5,646.6 120.0,646.5 120.5,646.6 121.0,646.8 121.5,647.1 122.0,647.4 122.5,647.7 123.0,648.0 123.5,648.2 124.0,648.3 124.5,648.2 125.0,648.0 125.5,647.7 126.0,647.4 126.5,647.1 127.0,646.8 127.5,646.6 128.0,646.5 128.5,646.6 129.0,646.8 129.5,647.1 130.0,647.4 130.5,647.7 131.0,648.0 131.5,648.2 132.0,648.3 132.5,648.2 133.0,648.0 133.5,647.7 134.0,647.4 134.5,647.1 135.0,646.8 135.5,646.6 136.0,646.5 136.5,646.6 137.0,646.8 137.5,647.1 138.0,647.5 138.5,647.9 139.0,648.2 139.5,648.4 140.0,648.5 140.5,648.3 141.0,647.9 141.5,647.3 142.0,646.6 142.5,646.0 143.0,645.6 143.5,645.4 144.0,645.6 144.5,646.2 145.0,647.0 145.5,647.6 146.0,647.8 146.5,647.5 147.0,646.9 147.5,646.3 148.0,646.0 148.5,646.5 149.0,647.8 149.5,649.0 150.0,649.5 150.6,650.3 151.1,652.5 151.7,655.8 152.2,659.3 152.8,662.6 153.3,664.8 153.9,665.6 154.4,661.1 154.9,649.5 155.4,635.0 155.9,623.4 156.4,618.9 156.9,622.2 157.4,630.8 158.0,641.3 158.5,649.9 159.0,653.2 159.5,652.8 160.0,651.7 160.5,650.1 161.0,648.6 161.5,647.4 162.0,647.0 162.5,647.3 163.0,648.0 163.5,648.7 164.0,649.0 164.5,648.6 165.0,647.5 165.5,646.0 166.0,644.5 166.5,643.4 167.0,643.0 167.5,643.4 168.1,644.6 168.6,646.4 169.1,648.3 169.6,650.1 170.2,651.3 170.7,651.7 171.2,651.3 171.7,650.3 172.2,648.9 172.8,647.3 173.3,645.9 173.8,644.9 174.3,644.5 174.9,645.0 175.4,646.5 176.0,648.4 176.6,650.4 177.1,651.9 177.7,652.4 178.2,651.8 178.8,650.0 179.3,647.6 179.8,645.1 180.4,643.3 180.9,642.7 181.5,643.4 182.1,645.3 182.6,647.6 183.2,649.5 183.8,650.2 184.4,649.4 184.9,647.4 185.4,645.3 186.0,644.5 186.6,645.6 187.1,648.1 187.6,650.6 188.2,651.7 188.7,651.4 189.2,650.5 189.7,649.3 190.3,647.9 190.8,646.7 191.3,645.8 191.8,645.5 192.3,645.6 192.9,646.1 193.4,646.7 193.9,647.3 194.4,647.9 195.0,648.4 195.5,648.5 196.1,648.4 196.7,648.0 197.2,647.5 197.8,647.1 198.4,647.0 199.0,647.0 199.5,646.9 200.1,646.7 200.6,646.5 201.2,646.3 201.7,646.1 202.2,646.0 202.8,646.0 203.3,646.2 203.8,646.8 204.3,647.6 204.9,648.6 205.4,649.4 205.9,650.0 206.4,650.2 206.9,650.0 207.4,649.3 207.9,648.4 208.5,647.3 209.0,646.4 209.5,645.7 210.0,645.5 210.5,645.8 211.0,646.5 211.5,647.5 212.0,648.5 212.5,649.2 213.0,649.5 213.6,649.0 214.2,647.8 214.7,646.2 215.3,645.0 215.9,644.5 216.5,645.1 217.1,646.7 217.6,648.8 218.2,650.4 218.8,651.0 219.4,650.8 219.9,650.0 220.4,649.0 221.0,647.8 221.6,646.5 222.1,645.5 222.6,644.7 223.2,644.5 223.8,644.7 224.3,645.3 224.8,646.3 225.4,647.4 225.9,648.4 226.5,649.4 227.0,650.0 227.6,650.2 228.1,650.0 228.6,649.3 229.1,648.4 229.7,647.3 230.2,646.4 230.7,645.7 231.2,645.5 231.7,645.7 232.3,646.3 232.8,647.1 233.3,647.9 233.8,648.7 234.4,649.3 234.9,649.5 235.5,649.1 236.1,647.9 236.6,646.6 237.2,645.4 237.8,645.0 238.3,645.3 238.8,646.2 239.3,647.4 239.8,648.6 240.3,649.5 240.8,649.8 241.4,649.3 242.0,648.1 242.5,646.7 243.1,645.5 243.7,645.0 244.3,645.5 244.9,646.7 245.4,648.1 246.0,649.3 246.6,649.8 247.2,649.3 247.8,648.1 248.3,646.7 248.9,645.5 249.5,645.0 250.0,645.3 250.5,646.2 251.0,647.4 251.5,648.6 252.0,649.5 252.5,649.8 253.0,649.5 253.5,648.9 254.0,647.9 254.5,647.0 255.0,646.3 255.5,646.0 256.1,645.7 256.6,644.9 257.1,644.0 257.7,643.7 258.2,645.3 258.8,649.1 259.3,653.0 259.9,654.6 260.4,653.2 260.9,649.5 261.4,644.8 261.9,641.1 262.4,639.7 262.9,640.8 263.4,643.6 264.0,647.1 264.5,649.9 265.0,651.0 265.5,650.6 266.0,649.6 266.5,648.2 267.0,646.9 267.5,645.9 268.0,645.5 268.5,645.6 269.1,646.0 269.6,646.6 270.1,647.2 270.7,647.9 271.2,648.5 271.8,648.9 272.3,649.0 272.9,649.1 273.4,649.3 273.9,649.6 274.5,650.0 275.1,650.4 275.6,650.7 276.1,650.9 276.7,651.0 277.2,650.6 277.8,649.6 278.3,648.2 278.8,646.5 279.3,645.1 279.9,644.1 280.4,643.7 281.0,644.3 281.6,645.9 282.1,648.0 282.7,649.6 283.3,650.2 283.9,649.1 284.4,646.5 284.9,643.8 285.5,642.7 286.1,643.6 286.7,645.8 287.2,648.6 287.8,650.8 288.4,651.7 289.0,650.9 289.6,648.8 290.1,646.1 290.7,644.0 291.3,643.2 291.9,643.9 292.5,645.9 293.0,648.2 293.6,650.2 294.2,650.9 294.8,649.8 295.3,647.1 295.8,644.3 296.4,643.2 297.0,644.0 297.6,646.2 298.1,649.0 298.7,651.2 299.3,652.0 299.8,651.4 300.3,649.9 300.8,647.9 301.3,645.8 301.8,644.3 302.3,643.7 302.9,644.4 303.5,646.4 304.0,648.7 304.6,650.7 305.2,651.4 305.8,650.7 306.4,649.0 306.9,646.9 307.5,645.2 308.1,644.5 308.6,644.7 309.2,645.3 309.7,646.1 310.2,646.9 310.7,647.7 311.3,648.3 311.8,648.5 312.4,648.1 313.0,647.2 313.5,646.0 314.1,645.1 314.7,644.7 315.3,645.2 315.9,646.4 316.4,647.8 317.0,649.0 317.6,649.5 318.1,649.3 318.6,648.7 319.1,647.8 319.7,646.8 320.2,645.9 320.7,645.3 321.2,645.1 321.7,645.4 322.3,646.3 322.8,647.5 323.3,649.0 323.8,650.2 324.4,651.1 324.9,651.4 325.4,650.8 325.9,649.6 326.4,649.0" fill="none" stroke="#D95319" stroke-width="2.3" stroke-linejoin="round"/>
</g>
<clipPath id="clipL2ew"><rect x="44.4" y="605.3" width="282" height="84.2"/></clipPath>
<rect x="44.4" y="605.3" width="282" height="84.2" fill="none" stroke="#262626" stroke-width="1.1"/>
<path d="M185.4 689.5v-3.3M185.4 605.3v3.3" stroke="#262626" stroke-width="1"/>
<text x="185.4" y="706.8" font-size="12.6" text-anchor="middle" font-family='"Liberation Sans", sans-serif' >8</text>
<path d="M232.4 689.5v-3.3M232.4 605.3v3.3" stroke="#262626" stroke-width="1"/>
<text x="232.4" y="706.8" font-size="12.6" text-anchor="middle" font-family='"Liberation Sans", sans-serif' >10</text>
<path d="M279.4 689.5v-3.3M279.4 605.3v3.3" stroke="#262626" stroke-width="1"/>
<text x="279.4" y="706.8" font-size="12.6" text-anchor="middle" font-family='"Liberation Sans", sans-serif' >12</text>
<text x="326.4" y="706.8" font-size="12.6" text-anchor="middle" font-family='"Liberation Sans", sans-serif' >14</text>
<text x="39.8" y="694.4" font-size="12.6" text-anchor="end" font-family='"Liberation Sans", sans-serif' >-2</text>
<path d="M44.4 668.45h3.3M326.4 668.45h-3.3" stroke="#262626" stroke-width="1"/>
<text x="39.8" y="673.35" font-size="12.6" text-anchor="end" font-family='"Liberation Sans", sans-serif' >-1</text>
<path d="M44.4 647.4h3.3M326.4 647.4h-3.3" stroke="#262626" stroke-width="1"/>
<text x="39.8" y="652.3" font-size="12.6" text-anchor="end" font-family='"Liberation Sans", sans-serif' >0</text>
<path d="M44.4 626.35h3.3M326.4 626.35h-3.3" stroke="#262626" stroke-width="1"/>
<text x="39.8" y="631.25" font-size="12.6" text-anchor="end" font-family='"Liberation Sans", sans-serif' >1</text>
<text x="39.8" y="610.2" font-size="12.6" text-anchor="end" font-family='"Liberation Sans", sans-serif' >2</text>
<text transform="translate(11.6 648.4) rotate(-90)" font-size="15.5" text-anchor="middle" font-family='"Liberation Sans", sans-serif' fill="#000">a [m/s/s]</text>
<text x="91.6" y="638.6" font-size="11.8" text-anchor="start" font-family='"Liberation Sans", sans-serif' >EW</text>
<g clip-path="url(#clipL2ns)">
<polyline points="44.4,776.6 44.9,776.6 45.4,776.6 45.9,776.6 46.4,776.6 46.9,776.6 47.4,776.6 47.9,776.6 48.4,776.6 48.9,776.6 49.4,776.6 49.9,776.6 50.5,776.6 51.0,776.6 51.5,776.6 52.0,776.6 52.5,776.6 53.0,776.6 53.5,776.6 54.0,776.6 54.5,776.6 55.0,776.6 55.5,776.6 56.0,776.6 56.5,776.6 57.0,776.6 57.5,776.6 58.0,776.6 58.5,776.6 59.0,776.6 59.5,776.6 60.0,776.6 60.5,776.6 61.0,776.6 61.6,776.6 62.1,776.6 62.6,776.6 63.1,776.6 63.6,776.6 64.1,776.6 64.6,776.6 65.1,776.6 65.6,776.6 66.1,776.6 66.6,776.6 67.1,776.6 67.6,776.6 68.1,776.6 68.6,776.6 69.1,776.6 69.6,776.6 70.1,776.6 70.6,776.6 71.1,776.6 71.6,776.6 72.1,776.6 72.7,776.6 73.2,776.6 73.7,776.6 74.2,776.6 74.7,776.6 75.2,776.6 75.7,776.6 76.2,776.6 76.7,776.6 77.2,776.6 77.7,776.6 78.2,776.6 78.7,776.7 79.3,776.9 79.8,777.1 80.4,777.5 80.9,777.7 81.5,777.9 82.0,778.0 82.5,777.9 83.0,777.6 83.5,777.2 84.0,776.8 84.5,776.3 85.0,775.9 85.5,775.6 86.0,775.5 86.5,775.6 87.0,775.9 87.5,776.3 88.0,776.8 88.5,777.2 89.0,777.6 89.5,777.9 90.0,778.0 90.5,777.9 91.0,777.6 91.5,777.2 92.0,776.8 92.5,776.3 93.0,775.9 93.5,775.6 94.0,775.5 94.5,775.6 95.0,775.9 95.5,776.3 96.0,776.8 96.5,777.2 97.0,777.6 97.5,777.9 98.0,778.0 98.5,777.9 99.0,777.7 99.5,777.3 100.0,776.9 100.5,776.5 101.0,776.1 101.5,775.9 102.0,775.8 102.5,775.9 103.0,776.2 103.5,776.5 104.0,777.0 104.5,777.5 105.0,777.8 105.5,778.1 106.0,778.2 106.5,777.9 107.1,777.0 107.6,775.8 108.1,774.4 108.6,773.2 109.2,772.3 109.7,772.0 110.3,773.2 110.8,776.2 111.4,779.3 112.0,780.5 112.5,779.7 113.0,777.7 113.5,775.3 114.0,773.3 114.5,772.5 115.0,773.3 115.5,775.3 116.0,777.7 116.5,779.7 117.0,780.5 117.5,780.2 118.0,779.4 118.5,778.2 119.0,777.1 119.5,776.3 120.0,776.0 120.5,776.1 121.0,776.3 121.5,776.6 122.0,777.0 122.5,777.4 123.0,777.7 123.5,777.9 124.0,778.0 124.5,777.9 125.0,777.7 125.5,777.3 126.0,776.9 126.5,776.5 127.0,776.1 127.5,775.9 128.0,775.8 128.5,775.9 129.0,776.1 129.5,776.5 130.0,776.9 130.5,777.3 131.0,777.7 131.5,777.9 132.0,778.0 132.5,777.9 133.0,777.7 133.5,777.3 134.0,776.9 134.5,776.5 135.0,776.1 135.5,775.9 136.0,775.8 136.5,775.9 137.0,776.1 137.5,776.5 138.0,776.9 138.5,777.3 139.0,777.7 139.5,777.9 140.0,778.0 140.6,777.7 141.1,776.9 141.7,775.7 142.2,774.2 142.8,772.8 143.3,771.6 143.8,770.8 144.4,770.5 145.0,771.8 145.6,775.1 146.1,779.3 146.7,782.6 147.3,783.9 147.8,783.0 148.4,780.3 148.9,776.6 149.4,772.3 149.9,768.6 150.5,765.9 151.0,765.0 151.5,765.7 152.1,767.9 152.6,771.1 153.2,774.9 153.7,778.6 154.2,781.8 154.8,784.0 155.3,784.7 155.8,783.7 156.4,781.0 156.9,777.4 157.4,773.7 158.0,771.0 158.5,770.0 159.0,767.5 159.6,762.4 160.1,759.8 160.6,760.6 161.1,763.0 161.6,766.6 162.1,770.8 162.6,774.9 163.1,778.5 163.6,780.9 164.1,781.7 164.7,781.0 165.3,779.0 165.8,776.7 166.4,774.7 167.0,774.0 167.5,774.2 168.1,774.8 168.6,775.6 169.1,776.4 169.6,777.2 170.2,777.8 170.7,778.0 171.3,777.7 171.9,777.0 172.4,776.0 173.0,775.3 173.6,775.0 174.2,776.2 174.8,779.1 175.4,782.0 176.0,783.2 176.5,782.9 177.0,782.0 177.5,780.7 178.0,779.1 178.5,777.5 179.0,776.2 179.5,775.3 180.0,775.0 180.6,774.8 181.2,774.4 181.7,773.9 182.3,773.7 182.8,773.8 183.4,774.0 183.9,774.3 184.4,774.8 185.0,775.2 185.5,775.8 186.1,776.2 186.6,776.7 187.1,777.0 187.7,777.2 188.2,777.3 188.7,777.3 189.2,777.1 189.7,777.0 190.2,776.7 190.7,776.4 191.2,776.1 191.7,775.9 192.2,775.6 192.7,775.3 193.2,775.2 193.7,775.0 194.2,775.0 194.7,775.1 195.2,775.3 195.7,775.6 196.2,775.9 196.7,776.2 197.2,776.4 197.7,776.5 198.2,774.8 198.8,770.7 199.3,766.6 199.9,764.9 200.5,767.5 201.1,774.2 201.6,782.6 202.2,789.3 202.8,791.9 203.4,788.5 204.0,779.6 204.5,768.5 205.1,759.6 205.7,756.2 206.3,759.9 206.9,769.6 207.4,781.5 208.0,791.2 208.6,794.9 209.2,791.4 209.8,782.3 210.3,771.0 210.9,761.9 211.5,758.4 212.0,760.4 212.5,765.7 213.0,773.0 213.5,780.3 214.0,785.6 214.5,787.6 215.0,787.0 215.6,785.2 216.1,782.6 216.7,779.6 217.2,776.5 217.7,773.9 218.3,772.1 218.8,771.5 219.3,772.2 219.8,774.0 220.3,776.6 220.8,779.1 221.3,781.0 221.8,781.7 222.3,781.3 222.9,780.0 223.4,778.1 223.9,775.9 224.5,773.6 225.0,771.7 225.6,770.4 226.1,770.0 226.6,769.9 227.2,769.8 227.7,769.6 228.2,769.3 228.8,769.0 229.3,768.8 229.9,768.7 230.4,768.6 230.9,769.6 231.4,772.4 231.9,776.2 232.4,780.1 232.9,782.9 233.4,783.9 233.9,783.9 234.5,784.0 235.0,784.2 235.5,784.3 236.0,784.5 236.6,784.6 237.1,784.6 237.7,782.8 238.3,778.3 238.9,773.8 239.5,772.0 240.0,772.4 240.5,773.7 241.0,775.5 241.5,777.5 242.0,779.3 242.5,780.6 243.0,781.0 243.5,780.7 244.0,779.8 244.5,778.5 245.0,777.0 245.5,775.5 246.0,774.2 246.5,773.3 247.0,773.0 247.5,773.4 248.0,774.5 248.5,776.1 249.0,777.9 249.5,779.5 250.0,780.6 250.5,781.0 251.0,780.6 251.5,779.5 252.0,777.9 252.5,776.1 253.0,774.5 253.5,773.4 254.0,773.0 254.5,773.2 255.0,773.9 255.5,774.9 256.0,776.1 256.5,777.1 257.0,777.8 257.5,778.0 258.0,777.0 258.6,774.4 259.1,770.8 259.6,767.1 260.2,764.5 260.7,763.5 261.3,766.6 261.9,774.8 262.4,785.0 263.0,793.2 263.6,796.3 264.1,793.2 264.6,785.0 265.2,774.8 265.7,766.6 266.2,763.5 266.7,764.4 267.3,766.9 267.8,770.4 268.3,773.8 268.9,776.4 269.4,777.3 269.9,777.2 270.4,776.9 270.9,776.5 271.4,775.9 272.0,775.4 272.5,774.8 273.0,774.4 273.5,774.1 274.0,774.0 274.5,774.4 275.1,775.7 275.6,777.5 276.1,779.7 276.6,781.9 277.1,783.7 277.7,785.0 278.2,785.4 278.7,783.9 279.3,779.7 279.8,774.1 280.3,768.4 280.9,764.2 281.4,762.7 281.9,763.3 282.4,764.9 282.9,767.1 283.5,769.3 284.0,770.9 284.5,771.5 285.0,769.0 285.5,766.4 286.0,769.3 286.5,777.0 287.1,786.4 287.6,794.1 288.1,797.0 288.6,795.1 289.2,789.8 289.7,782.6 290.2,775.4 290.8,770.1 291.3,768.2 291.9,768.1 292.5,768.0 293.0,767.8 293.6,767.7 294.2,767.6 294.7,769.3 295.3,773.7 295.8,779.3 296.4,783.7 296.9,785.4 297.4,784.2 298.0,781.0 298.5,776.6 299.0,772.2 299.6,769.0 300.1,767.8 300.6,768.5 301.1,770.4 301.6,773.2 302.2,776.3 302.7,779.1 303.2,781.0 303.7,781.7 304.2,781.5 304.7,780.9 305.2,780.0 305.7,778.7 306.2,777.2 306.7,775.6 307.3,773.9 307.8,772.3 308.3,770.8 308.8,769.5 309.3,768.6 309.8,768.0 310.3,767.8 310.8,768.3 311.3,769.9 311.8,772.1 312.4,774.5 312.9,776.7 313.4,778.3 313.9,778.8 314.4,778.9 315.0,779.3 315.5,779.9 316.0,780.6 316.5,781.2 317.1,781.6 317.6,781.7 318.2,780.8 318.8,778.3 319.3,775.4 319.9,772.9 320.5,772.0 321.1,773.1 321.7,775.9 322.2,779.3 322.8,782.1 323.4,783.2 323.9,782.4 324.4,780.3 324.9,777.4 325.4,774.4 325.9,772.3 326.4,771.5" fill="none" stroke="#0072BD" stroke-width="2.3" stroke-linejoin="round"/>
<polyline points="44.4,776.6 44.9,776.6 45.4,776.6 45.9,776.6 46.4,776.6 46.9,776.6 47.4,776.6 47.9,776.6 48.4,776.6 48.9,776.6 49.4,776.6 49.9,776.6 50.5,776.6 51.0,776.6 51.5,776.6 52.0,776.6 52.5,776.6 53.0,776.6 53.5,776.6 54.0,776.6 54.5,776.6 55.0,776.6 55.5,776.6 56.0,776.6 56.5,776.6 57.0,776.6 57.5,776.6 58.0,776.6 58.5,776.6 59.0,776.6 59.5,776.6 60.0,776.6 60.5,776.6 61.0,776.6 61.6,776.6 62.1,776.6 62.6,776.6 63.1,776.6 63.6,776.6 64.1,776.6 64.6,776.6 65.1,776.6 65.6,776.6 66.1,776.6 66.6,776.6 67.1,776.6 67.6,776.6 68.1,776.6 68.6,776.6 69.1,776.6 69.6,776.6 70.1,776.6 70.6,776.6 71.1,776.6 71.6,776.6 72.1,776.6 72.7,776.6 73.2,776.6 73.7,776.6 74.2,776.6 74.7,776.6 75.2,776.6 75.7,776.6 76.2,776.6 76.7,776.6 77.2,776.6 77.7,776.6 78.2,776.6 78.8,777.2 79.4,778.4 80.0,779.0 80.6,777.6 81.1,774.7 81.7,773.2 82.2,773.8 82.7,775.2 83.3,777.0 83.8,778.4 84.3,779.0 84.8,778.8 85.3,778.4 85.8,777.7 86.3,777.0 86.8,776.3 87.3,775.9 87.8,775.7 88.3,775.8 88.8,776.2 89.3,776.8 89.8,777.4 90.3,778.0 90.8,778.4 91.3,778.5 91.8,778.4 92.3,778.0 92.8,777.5 93.3,776.8 93.8,776.3 94.3,775.9 94.8,775.8 95.3,775.9 95.8,776.3 96.3,776.7 96.8,777.3 97.3,777.7 97.8,778.1 98.3,778.2 98.8,778.1 99.4,777.7 99.9,777.3 100.4,776.7 100.9,776.3 101.5,775.9 102.0,775.8 102.5,775.9 103.0,776.3 103.5,776.7 104.0,777.3 104.5,777.7 105.0,778.1 105.5,778.2 106.0,778.1 106.5,777.7 107.0,777.3 107.5,776.7 108.0,776.3 108.5,775.9 109.0,775.8 109.5,775.9 110.0,776.3 110.5,776.7 111.0,777.3 111.5,777.7 112.0,778.1 112.5,778.2 113.0,778.1 113.5,777.7 114.0,777.3 114.5,776.7 115.0,776.3 115.5,775.9 116.0,775.8 116.5,775.9 117.0,776.3 117.5,776.7 118.0,777.3 118.5,777.7 119.0,778.1 119.5,778.2 120.0,778.1 120.5,777.7 121.0,777.3 121.5,776.7 122.0,776.3 122.5,775.9 123.0,775.8 123.5,775.9 124.0,776.3 124.5,776.7 125.0,777.3 125.5,777.7 126.0,778.1 126.5,778.2 127.0,778.1 127.5,777.7 128.0,777.3 128.5,776.7 129.0,776.3 129.5,775.9 130.0,775.8 130.5,775.9 131.0,776.3 131.5,776.7 132.0,777.3 132.5,777.7 133.0,778.1 133.5,778.2 134.0,778.1 134.5,777.7 135.0,777.3 135.5,776.7 136.0,776.3 136.5,775.9 137.0,775.8 137.5,776.0 138.0,776.5 138.5,777.1 139.0,777.8 139.5,778.3 140.0,778.5 140.6,778.3 141.1,777.7 141.7,776.9 142.2,776.0 142.8,775.2 143.3,774.6 143.9,774.4 144.4,774.8 144.9,776.1 145.4,777.8 145.9,779.8 146.4,781.5 146.9,782.8 147.4,783.2 148.0,781.6 148.5,777.4 149.1,772.2 149.6,768.0 150.2,766.4 150.8,768.2 151.3,772.6 151.8,777.0 152.4,778.8 153.0,774.0 153.6,764.5 154.2,759.8 154.8,766.5 155.3,782.8 155.8,799.1 156.4,805.8 156.9,802.7 157.4,794.5 158.0,784.3 158.5,776.1 159.0,773.0 159.6,772.0 160.1,769.7 160.6,767.4 161.2,766.4 161.8,767.3 162.4,769.7 162.9,772.7 163.5,775.1 164.1,776.0 164.7,777.3 165.3,780.7 165.8,785.0 166.4,788.4 167.0,789.7 167.5,788.5 168.1,785.2 168.6,780.4 169.1,775.0 169.6,770.2 170.2,766.9 170.7,765.7 171.3,767.0 171.9,770.2 172.4,774.3 173.0,777.5 173.6,778.8 174.2,779.8 174.8,782.6 175.3,785.9 175.9,788.7 176.5,789.7 177.0,787.4 177.5,781.4 178.1,774.0 178.6,768.0 179.1,765.7 179.6,766.7 180.2,769.3 180.7,773.0 181.2,776.6 181.8,779.2 182.3,780.2 182.9,780.1 183.4,779.9 183.9,779.6 184.5,779.2 185.1,778.7 185.6,778.4 186.1,778.2 186.7,778.1 187.2,777.9 187.7,777.4 188.2,776.6 188.7,775.6 189.2,774.5 189.8,773.3 190.3,772.3 190.8,771.5 191.3,771.0 191.8,770.8 192.3,771.5 192.9,773.5 193.4,776.5 193.9,779.7 194.4,782.7 195.0,784.7 195.5,785.4 196.1,783.5 196.7,778.6 197.2,772.5 197.8,767.6 198.4,765.7 199.0,767.2 199.6,771.2 200.1,776.2 200.7,780.2 201.3,781.7 201.9,780.7 202.5,777.9 203.0,774.6 203.6,771.8 204.2,770.8 204.7,771.5 205.2,773.5 205.7,776.2 206.2,779.0 206.7,781.0 207.2,781.7 207.8,780.7 208.3,778.2 208.9,775.0 209.4,772.5 210.0,771.5 210.5,772.2 211.0,774.0 211.5,776.6 212.0,779.1 212.5,781.0 213.0,781.7 213.6,780.8 214.2,778.4 214.7,775.5 215.3,773.1 215.9,772.2 216.4,772.1 217.0,771.8 217.5,771.3 218.0,770.9 218.5,770.4 219.1,770.1 219.6,770.0 220.1,770.5 220.6,772.1 221.1,774.3 221.7,776.7 222.2,778.9 222.7,780.5 223.2,781.0 223.7,780.4 224.3,778.8 224.8,776.5 225.3,773.8 225.8,771.5 226.4,769.9 226.9,769.3 227.5,770.5 228.1,773.6 228.6,777.4 229.2,780.5 229.8,781.7 230.3,780.9 230.8,778.6 231.4,775.5 231.9,772.4 232.4,770.1 232.9,769.3 233.5,770.6 234.1,774.1 234.6,778.4 235.2,781.9 235.8,783.2 236.3,782.6 236.9,781.0 237.4,778.7 237.9,776.0 238.4,773.7 239.0,772.1 239.5,771.5 240.1,772.3 240.7,774.3 241.2,776.7 241.8,778.7 242.4,779.5 243.0,778.9 243.6,777.3 244.1,775.4 244.7,773.8 245.3,773.2 245.9,773.6 246.5,774.6 247.0,775.9 247.6,776.9 248.2,777.3 248.7,777.2 249.3,776.9 249.8,776.4 250.4,775.9 250.9,775.4 251.5,775.1 252.0,775.0 252.5,774.7 253.0,773.9 253.5,772.8 254.0,771.6 254.5,770.8 255.0,770.5 255.5,771.8 256.1,775.1 256.6,779.3 257.2,782.6 257.7,783.9 258.2,782.2 258.7,777.6 259.2,772.0 259.7,767.4 260.2,765.7 260.7,766.9 261.2,770.1 261.8,774.5 262.3,778.8 262.8,782.0 263.3,783.2 263.9,782.9 264.4,782.1 265.0,780.9 265.5,779.6 266.1,778.4 266.6,777.6 267.2,777.3 267.7,777.1 268.2,776.6 268.7,775.7 269.2,774.7 269.8,773.5 270.3,772.3 270.8,771.3 271.3,770.4 271.8,769.9 272.3,769.7 272.8,770.4 273.3,772.3 273.8,775.0 274.3,777.6 274.8,779.5 275.3,780.2 275.8,780.0 276.3,779.2 276.8,778.1 277.3,776.7 277.9,775.1 278.4,773.5 278.9,772.1 279.4,771.0 279.9,770.2 280.4,770.0 280.9,770.4 281.4,771.7 281.9,773.4 282.5,775.4 283.0,777.1 283.5,778.4 284.0,778.8 284.6,777.7 285.2,775.0 285.7,771.6 286.3,768.9 286.9,767.8 287.4,769.6 287.9,774.6 288.4,781.3 288.9,788.1 289.4,793.1 289.9,794.9 290.5,792.3 291.1,785.5 291.6,777.2 292.2,770.4 292.8,767.8 293.3,767.3 293.9,765.8 294.4,763.8 294.9,761.8 295.5,760.3 296.0,759.8 296.5,761.6 297.0,766.4 297.6,772.2 298.1,777.0 298.6,778.8 299.2,779.5 299.8,781.3 300.3,783.6 300.9,785.4 301.5,786.1 302.1,785.5 302.6,784.0 303.1,781.6 303.7,778.8 304.2,776.0 304.8,773.6 305.3,772.1 305.9,771.5 306.4,771.8 307.0,772.6 307.5,773.8 308.0,775.0 308.5,776.2 309.1,777.0 309.6,777.3 310.1,777.5 310.6,778.1 311.1,779.0 311.6,780.1 312.1,781.3 312.7,782.6 313.2,783.7 313.7,784.6 314.2,785.2 314.7,785.4 315.2,784.7 315.8,782.8 316.4,780.0 316.9,776.6 317.4,773.2 318.0,770.4 318.6,768.5 319.1,767.8 319.6,768.5 320.1,770.4 320.6,773.2 321.2,776.3 321.7,779.1 322.2,781.0 322.7,781.7 323.2,781.4 323.8,780.6 324.3,779.5 324.8,778.2 325.3,777.1 325.9,776.3 326.4,776.0" fill="none" stroke="#D95319" stroke-width="2.3" stroke-linejoin="round"/>
</g>
<clipPath id="clipL2ns"><rect x="44.4" y="734.6" width="282" height="84"/></clipPath>
<rect x="44.4" y="734.6" width="282" height="84" fill="none" stroke="#262626" stroke-width="1.1"/>
<path d="M185.4 818.6v-3.3M185.4 734.6v3.3" stroke="#262626" stroke-width="1"/>
<text x="185.4" y="835.9" font-size="12.6" text-anchor="middle" font-family='"Liberation Sans", sans-serif' >8</text>
<path d="M232.4 818.6v-3.3M232.4 734.6v3.3" stroke="#262626" stroke-width="1"/>
<text x="232.4" y="835.9" font-size="12.6" text-anchor="middle" font-family='"Liberation Sans", sans-serif' >10</text>
<path d="M279.4 818.6v-3.3M279.4 734.6v3.3" stroke="#262626" stroke-width="1"/>
<text x="279.4" y="835.9" font-size="12.6" text-anchor="middle" font-family='"Liberation Sans", sans-serif' >12</text>
<text x="326.4" y="835.9" font-size="12.6" text-anchor="middle" font-family='"Liberation Sans", sans-serif' >14</text>
<text x="39.8" y="823.5" font-size="12.6" text-anchor="end" font-family='"Liberation Sans", sans-serif' >-0.5</text>
<path d="M44.4 776.6h3.3M326.4 776.6h-3.3" stroke="#262626" stroke-width="1"/>
<text x="39.8" y="781.5" font-size="12.6" text-anchor="end" font-family='"Liberation Sans", sans-serif' >0</text>
<text x="39.8" y="739.5" font-size="12.6" text-anchor="end" font-family='"Liberation Sans", sans-serif' >0.5</text>
<text transform="translate(11.6 777.6) rotate(-90)" font-size="15.5" text-anchor="middle" font-family='"Liberation Sans", sans-serif' fill="#000">a [m/s/s]</text>
<text x="91.6" y="814.3" font-size="11.8" text-anchor="start" font-family='"Liberation Sans", sans-serif' >NS</text>
<path d="M172 674.7h19.8" stroke="#0072BD" stroke-width="2"/>
<text x="194" y="679.5" font-size="11.8" text-anchor="start" font-family='"Liberation Sans", sans-serif' >Topo</text>
<path d="M224.8 674.7h19.8" stroke="#D95319" stroke-width="2"/>
<text x="246" y="679.5" font-size="11.8" text-anchor="start" font-family='"Liberation Sans", sans-serif' >Topo &amp; Bathy</text>
<text x="185.3" y="853.4" font-size="15.5" text-anchor="middle" font-family='"Liberation Sans", sans-serif' >t [s]</text>
<text x="185" y="882.3" font-size="18" text-anchor="middle" font-family='"Liberation Serif", serif' >(e)</text>
<g clip-path="url(#clipR2)">
<path d="M398.3,803.0C398.6,802.7 403.5,798.7 404.2,797.9C404.9,797.1 411.6,787.7 412.5,786.5C413.4,785.3 421.9,775.8 422.9,774.0C423.9,772.2 431.3,751.6 432.2,750.2C433.1,748.8 440.7,746.6 441.5,746.0C442.4,745.4 448.0,739.8 448.8,738.8C450.1,737.1 454.8,728.5 456.0,727.4C457.7,725.9 460.9,725.8 462.3,726.4C464.1,727.2 466.0,733.2 467.4,732.6C469.1,731.9 469.6,725.7 471.6,722.2C473.9,718.3 476.1,715.8 478.8,712.9C481.9,709.5 482.5,710.1 485.1,707.7C488.1,705.0 487.2,705.8 490.2,702.5C493.2,699.2 492.9,699.1 496.5,695.2C500.1,691.3 499.8,690.5 503.7,688.0C507.6,685.5 506.6,689.8 511.0,685.9C515.4,682.0 516.2,676.0 520.3,673.5C524.4,671.0 523.2,678.0 526.5,676.6C529.8,675.2 530.4,670.4 532.7,668.3C535.0,666.2 531.6,671.1 535.0,668.7C538.4,666.3 540.4,661.6 545.4,659.4C550.4,657.2 549.3,660.7 553.7,660.4C558.1,660.1 557.6,662.0 562.0,658.4C566.4,654.8 565.8,650.0 570.2,646.9C574.6,643.8 574.1,648.6 578.5,646.9C582.9,645.2 581.8,643.2 586.8,640.7C591.8,638.2 591.7,637.0 597.2,637.6C602.7,638.2 601.5,640.6 607.6,642.8C613.7,645.0 615.0,646.7 620.0,645.9C625.0,645.1 622.9,641.9 626.2,639.7C629.5,637.5 629.1,636.8 632.4,637.6C635.7,638.4 635.4,640.3 638.7,642.8C642.0,645.3 641.0,643.4 644.9,647.0C648.8,650.6 648.2,650.8 653.2,656.3C658.2,661.8 658.8,660.2 663.5,667.7C668.2,675.2 667.2,675.2 670.8,684.3C674.4,693.4 675.3,697.2 677.0,701.9" fill="none" stroke="#0072BD" stroke-width="2.3" stroke-linejoin="round" stroke-linecap="round"/>
<path d="M398.3,797.9C398.6,797.8 403.6,796.6 404.2,795.8C404.8,795.0 409.8,781.9 410.4,781.3C411.0,780.7 416.1,784.0 416.7,783.3C417.3,782.6 422.3,769.4 422.9,767.8C423.5,766.2 428.3,753.2 429.1,752.2C429.9,751.2 438.8,747.0 439.5,747.1C440.2,747.2 443.1,753.9 443.6,753.3C444.3,752.5 449.0,736.7 449.8,734.6C451.0,731.6 454.7,722.5 456.0,721.2C457.7,719.5 461.8,721.0 463.3,721.2C465.3,721.5 466.7,722.5 468.5,723.2C470.6,724.0 472.0,728.7 474.7,725.3C477.8,721.3 479.9,709.7 483.0,704.6C486.7,698.6 486.1,703.6 489.2,701.5C492.5,699.3 491.5,700.7 495.4,696.3C499.3,691.9 499.3,689.3 503.7,684.9C508.1,680.5 507.6,681.4 512.0,679.7C516.4,678.0 515.9,681.7 520.3,678.7C524.7,675.7 524.7,671.0 528.6,668.3C532.5,665.6 530.5,671.3 535.0,668.7C539.5,666.1 539.9,659.7 545.4,658.4C550.9,657.1 551.0,665.1 555.7,664.0C560.4,662.9 558.8,659.0 563.0,654.2C567.2,649.4 566.9,648.9 571.3,645.9C575.7,642.9 575.7,643.2 579.6,642.8C583.5,642.4 582.5,645.3 585.8,644.5C589.1,643.7 588.4,641.5 592.0,639.7C595.6,637.9 595.1,636.5 599.3,637.6C603.5,638.7 603.5,641.6 607.6,643.8C611.7,646.0 611.2,647.3 614.8,645.9C618.4,644.5 618.0,640.1 621.0,638.7C624.0,637.3 623.2,640.4 626.2,640.7C629.2,641.0 628.5,638.7 632.4,639.7C636.3,640.7 636.8,642.3 640.7,644.5C644.6,646.7 643.1,644.3 647.0,648.0C650.9,651.7 650.8,652.9 655.2,658.4C659.6,663.9 659.6,662.4 663.5,668.7C667.4,675.0 666.1,673.9 669.7,682.2C673.3,690.5 675.1,695.1 677.0,699.8" fill="none" stroke="#D95319" stroke-width="2.3" stroke-linejoin="round" stroke-linecap="round"/>
<path d="M398.3,805.1C398.7,804.6 405.5,795.8 406.3,794.7C407.1,793.6 413.8,783.7 414.6,783.3C415.4,782.9 422.0,786.1 422.9,786.5C423.8,786.9 432.3,792.3 433.2,790.6C434.1,788.9 440.8,755.9 441.5,753.3C442.3,750.5 446.9,739.8 447.8,738.8C449.1,737.3 455.7,736.6 457.1,735.7C459.2,734.4 462.4,730.1 464.3,728.4C466.7,726.2 469.2,724.9 471.6,722.2C474.5,718.9 476.3,714.1 478.8,711.8C481.7,709.2 481.1,710.5 484.0,710.8C487.2,711.1 488.1,716.4 491.3,712.9C494.6,709.3 493.2,704.2 496.5,697.3C499.8,690.4 499.8,690.3 503.7,687.0C507.6,683.7 507.4,681.3 511.0,684.9C514.6,688.5 514.2,699.0 517.2,700.4C520.2,701.8 519.4,692.0 522.4,690.1C525.4,688.2 525.2,695.0 528.6,693.2C532.0,691.4 531.6,687.8 535.0,683.2C538.4,678.6 537.3,679.9 541.2,676.0C545.1,672.1 545.6,670.1 549.5,668.7C553.4,667.3 552.1,670.0 555.7,670.8C559.3,671.6 558.8,675.4 563.0,671.8C567.2,668.2 567.2,660.6 571.3,657.3C575.4,654.0 574.4,660.2 578.5,659.4C582.6,658.6 582.9,654.9 586.8,654.2C590.7,653.5 589.7,656.9 593.0,656.9C596.3,656.9 595.7,654.2 599.3,654.2C602.9,654.2 602.4,657.5 606.5,656.9C610.6,656.3 610.4,654.2 614.8,652.1C619.2,650.0 618.7,649.2 623.1,649.0C627.5,648.8 627.2,648.7 631.4,651.5C635.6,654.3 635.1,657.9 638.7,659.4C642.3,660.9 641.6,655.4 644.9,657.3C648.2,659.2 647.2,661.9 651.1,666.6C655.0,671.3 655.5,670.7 659.4,674.9C663.3,679.1 662.3,675.8 665.6,682.2C668.9,688.6 668.8,691.1 671.8,698.8C674.8,706.5 675.6,707.9 677.0,711.2" fill="none" stroke="#EDB120" stroke-width="2.3" stroke-linejoin="round" stroke-linecap="round"/>
<path d="M406.3,814.4C406.6,813.8 411.0,803.7 411.5,803.0C412.0,802.3 416.1,802.0 416.7,801.0C417.3,800.0 422.1,784.0 422.9,782.3C423.7,780.6 431.3,769.4 432.2,767.8C433.1,766.2 440.6,752.5 441.5,751.2C442.5,749.8 450.1,742.8 450.9,741.9C452.3,740.2 454.9,736.3 456.0,734.6C457.4,732.5 460.6,727.0 462.3,725.3C464.4,723.2 467.1,723.1 469.5,721.2C472.4,718.9 474.9,714.1 477.8,712.9C481.4,711.5 482.0,716.1 485.1,714.9C488.6,713.5 487.5,714.2 491.3,707.7C495.2,701.1 494.6,693.4 499.6,690.1C504.6,686.8 505.2,696.9 509.9,695.2C514.6,693.5 513.9,686.8 517.2,683.8C520.5,680.8 519.4,686.3 522.4,683.8C525.4,681.3 525.6,675.0 528.6,674.5C531.6,674.0 532.1,680.0 533.8,681.8C535.5,683.6 533.0,683.9 535.0,681.2C537.0,678.5 537.9,674.6 541.2,671.8C544.5,669.0 543.8,670.1 547.4,670.8C551.0,671.5 550.3,677.3 554.7,674.3C559.1,671.3 559.9,664.2 564.0,659.4C568.1,654.6 566.3,659.1 570.2,656.3C574.1,653.5 574.6,649.3 578.5,649.0C582.4,648.7 580.9,655.2 584.8,655.2C588.7,655.2 588.6,649.5 593.0,649.0C597.4,648.5 597.4,651.1 601.3,653.2C605.2,655.3 604.6,656.5 607.6,656.9C610.6,657.3 609.4,654.1 612.7,654.8C616.0,655.5 615.3,659.6 620.0,659.4C624.7,659.2 625.4,653.4 630.4,654.2C635.4,655.0 635.1,660.0 638.7,662.5C642.3,665.0 640.5,661.6 643.8,663.5C647.1,665.4 646.9,665.4 651.1,669.8C655.3,674.2 655.8,676.5 659.4,680.1C663.0,683.7 661.6,678.5 664.6,683.2C667.6,687.9 667.5,688.3 670.8,697.7C674.1,707.1 675.3,713.0 677.0,718.5" fill="none" stroke="#7E2F8E" stroke-width="2.3" stroke-linejoin="round" stroke-linecap="round"/>
</g>
<clipPath id="clipR2"><rect x="398.3" y="606.5" width="278.7" height="208.6"/></clipPath>
<rect x="398.3" y="606.5" width="278.7" height="208.6" fill="none" stroke="#262626" stroke-width="1.1"/>
<path d="M440.25 815.1v-2.0M440.25 606.5v2.0M464.79 815.1v-2.0M464.79 606.5v2.0M482.2 815.1v-2.0M482.2 606.5v2.0M495.7 815.1v-2.0M495.7 606.5v2.0M506.74 815.1v-2.0M506.74 606.5v2.0M516.06 815.1v-2.0M516.06 606.5v2.0M524.15 815.1v-2.0M524.15 606.5v2.0M531.27 815.1v-2.0M531.27 606.5v2.0M537.65 815.1v-3.2M537.65 606.5v3.2M579.6 815.1v-2.0M579.6 606.5v2.0M604.14 815.1v-2.0M604.14 606.5v2.0M621.55 815.1v-2.0M621.55 606.5v2.0M635.05 815.1v-2.0M635.05 606.5v2.0M646.09 815.1v-2.0M646.09 606.5v2.0M655.41 815.1v-2.0M655.41 606.5v2.0M663.5 815.1v-2.0M663.5 606.5v2.0M670.62 815.1v-2.0M670.62 606.5v2.0" stroke="#262626" stroke-width="1"/>
<path d="M398.3 802.54h2.0M677 802.54h-2.0M398.3 795.19h2.0M677 795.19h-2.0M398.3 789.98h2.0M677 789.98h-2.0M398.3 785.94h2.0M677 785.94h-2.0M398.3 782.64h2.0M677 782.64h-2.0M398.3 779.84h2.0M677 779.84h-2.0M398.3 777.42h2.0M677 777.42h-2.0M398.3 775.29h2.0M677 775.29h-2.0M398.3 773.38h3.2M677 773.38h-3.2M398.3 760.82h2.0M677 760.82h-2.0M398.3 753.47h2.0M677 753.47h-2.0M398.3 748.26h2.0M677 748.26h-2.0M398.3 744.22h2.0M677 744.22h-2.0M398.3 740.92h2.0M677 740.92h-2.0M398.3 738.12h2.0M677 738.12h-2.0M398.3 735.7h2.0M677 735.7h-2.0M398.3 733.57h2.0M677 733.57h-2.0M398.3 731.66h3.2M677 731.66h-3.2M398.3 719.1h2.0M677 719.1h-2.0M398.3 711.75h2.0M677 711.75h-2.0M398.3 706.54h2.0M677 706.54h-2.0M398.3 702.5h2.0M677 702.5h-2.0M398.3 699.2h2.0M677 699.2h-2.0M398.3 696.4h2.0M677 696.4h-2.0M398.3 693.98h2.0M677 693.98h-2.0M398.3 691.85h2.0M677 691.85h-2.0M398.3 689.94h3.2M677 689.94h-3.2M398.3 677.38h2.0M677 677.38h-2.0M398.3 670.03h2.0M677 670.03h-2.0M398.3 664.82h2.0M677 664.82h-2.0M398.3 660.78h2.0M677 660.78h-2.0M398.3 657.48h2.0M677 657.48h-2.0M398.3 654.68h2.0M677 654.68h-2.0M398.3 652.26h2.0M677 652.26h-2.0M398.3 650.13h2.0M677 650.13h-2.0M398.3 648.22h3.2M677 648.22h-3.2M398.3 635.66h2.0M677 635.66h-2.0M398.3 628.31h2.0M677 628.31h-2.0M398.3 623.1h2.0M677 623.1h-2.0M398.3 619.06h2.0M677 619.06h-2.0M398.3 615.76h2.0M677 615.76h-2.0M398.3 612.96h2.0M677 612.96h-2.0M398.3 610.54h2.0M677 610.54h-2.0M398.3 608.41h2.0M677 608.41h-2.0" stroke="#262626" stroke-width="1"/>
<text x="398.9" y="836.5" font-size="12.6" text-anchor="middle" font-family='"Liberation Sans", sans-serif'>10<tspan font-size="9.6" dx="0.7" dy="-6.6">-1</tspan></text>
<text x="538.25" y="836.5" font-size="12.6" text-anchor="middle" font-family='"Liberation Sans", sans-serif'>10<tspan font-size="9.6" dx="0.7" dy="-6.6">0</tspan></text>
<text x="677.6" y="836.5" font-size="12.6" text-anchor="middle" font-family='"Liberation Sans", sans-serif'>10<tspan font-size="9.6" dx="0.7" dy="-6.6">1</tspan></text>
<text x="393.3" y="822.5" font-size="12.6" text-anchor="end" font-family='"Liberation Sans", sans-serif'>10<tspan font-size="9.6" dx="0.7" dy="-6.6">-5</tspan></text>
<text x="393.3" y="780.78" font-size="12.6" text-anchor="end" font-family='"Liberation Sans", sans-serif'>10<tspan font-size="9.6" dx="0.7" dy="-6.6">-4</tspan></text>
<text x="393.3" y="739.06" font-size="12.6" text-anchor="end" font-family='"Liberation Sans", sans-serif'>10<tspan font-size="9.6" dx="0.7" dy="-6.6">-3</tspan></text>
<text x="393.3" y="697.34" font-size="12.6" text-anchor="end" font-family='"Liberation Sans", sans-serif'>10<tspan font-size="9.6" dx="0.7" dy="-6.6">-2</tspan></text>
<text x="393.3" y="655.62" font-size="12.6" text-anchor="end" font-family='"Liberation Sans", sans-serif'>10<tspan font-size="9.6" dx="0.7" dy="-6.6">-1</tspan></text>
<text x="393.3" y="613.9" font-size="12.6" text-anchor="end" font-family='"Liberation Sans", sans-serif'>10<tspan font-size="9.6" dx="0.7" dy="-6.6">0</tspan></text>
<text transform="translate(364.4 758.35) rotate(-90)" font-size="15.5" text-anchor="start" font-family='"Liberation Sans", sans-serif'>IFFTI [m/s]</text>
<circle cx="360.3" cy="682.6" r="0.85" fill="#222"/>
<text x="537.65" y="854" font-size="15.5" text-anchor="middle" font-family='"Liberation Sans", sans-serif' >f [Hz]</text>
<text x="538.15" y="882.7" font-size="18" text-anchor="middle" font-family='"Liberation Serif", serif' >(f)</text>
<text x="440.2" y="640.5" font-size="11.8" text-anchor="start" font-family='"Liberation Sans", sans-serif' >Z=380m</text>
<path d="M554.4 757.8h19.5" stroke="#0072BD" stroke-width="2"/>
<text x="576" y="763" font-size="11.8" text-anchor="start" font-family='"Liberation Sans", sans-serif' >Topo EW</text>
<path d="M554.4 772.13h19.5" stroke="#D95319" stroke-width="2"/>
<text x="576" y="777.33" font-size="11.8" text-anchor="start" font-family='"Liberation Sans", sans-serif' >Topo &amp; Bathy EW</text>
<path d="M554.4 786.46h19.5" stroke="#EDB120" stroke-width="2"/>
<text x="576" y="791.66" font-size="11.8" text-anchor="start" font-family='"Liberation Sans", sans-serif' >Topo NS</text>
<path d="M554.4 800.79h19.5" stroke="#7E2F8E" stroke-width="2"/>
<text x="576" y="805.99" font-size="11.8" text-anchor="start" font-family='"Liberation Sans", sans-serif' >Topo &amp; Bathy NS</text>
<g clip-path="url(#clipL3ew)">
<polyline points="44.4,948.8 44.9,948.8 45.4,948.8 45.9,948.8 46.5,948.8 47.0,948.8 47.5,948.8 48.0,948.8 48.5,948.8 49.0,948.8 49.5,948.8 50.0,948.8 50.6,948.8 51.1,948.8 51.6,948.8 52.1,948.8 52.6,948.8 53.1,948.8 53.6,948.8 54.2,948.8 54.7,948.8 55.2,948.8 55.7,948.8 56.2,948.8 56.7,948.8 57.2,948.8 57.7,948.8 58.3,948.8 58.8,948.8 59.3,948.8 59.8,948.8 60.3,949.1 60.8,949.7 61.4,950.6 61.9,951.2 62.4,951.5 62.9,950.8 63.4,949.1 64.0,946.9 64.5,945.2 65.0,944.5 65.5,945.0 66.1,946.2 66.6,948.0 67.1,949.8 67.7,951.0 68.2,951.5 68.7,951.4 69.3,950.9 69.8,950.3 70.4,949.7 70.9,949.1 71.5,948.6 72.0,948.5 72.5,948.5 73.1,948.3 73.7,948.1 74.2,947.9 74.8,947.7 75.3,947.5 75.9,947.3 76.4,947.3 76.9,947.5 77.4,948.1 78.0,948.7 78.5,949.3 79.0,949.5 79.5,949.4 80.1,949.3 80.7,949.0 81.2,948.8 81.8,948.5 82.3,948.2 82.9,948.1 83.4,948.0 83.9,948.0 84.4,948.1 84.9,948.1 85.4,948.2 86.0,948.4 86.5,948.5 87.0,948.5 87.5,948.6 88.0,948.6 88.5,948.6 89.0,948.5 89.5,948.4 90.0,948.2 90.5,948.1 91.0,947.9 91.5,947.7 92.0,947.6 92.5,947.5 93.0,947.5 93.5,947.5 94.0,947.6 94.5,947.8 95.0,948.0 95.5,948.2 96.0,948.5 96.5,948.7 97.0,948.9 97.5,949.0 98.0,949.0 98.5,949.0 99.0,948.9 99.5,948.8 100.0,948.6 100.5,948.4 101.0,948.2 101.5,948.0 102.0,947.9 102.5,947.8 103.0,947.8 103.5,947.8 104.0,947.9 104.5,948.1 105.0,948.3 105.5,948.5 106.0,948.8 106.5,949.0 107.0,949.2 107.5,949.3 108.0,949.3 108.5,949.3 109.0,949.2 109.5,949.0 110.0,948.8 110.5,948.5 111.0,948.3 111.5,948.1 112.0,947.9 112.5,947.8 113.0,947.8 113.5,947.8 114.0,947.9 114.5,948.1 115.0,948.3 115.5,948.5 116.0,948.8 116.5,949.0 117.0,949.2 117.5,949.3 118.0,949.3 118.5,949.3 119.0,949.2 119.5,949.0 120.0,948.9 120.5,948.6 121.0,948.4 121.5,948.3 122.0,948.1 122.5,948.0 123.0,948.0 123.5,948.0 124.0,948.1 124.5,948.2 125.0,948.3 125.5,948.5 126.0,948.7 126.5,948.8 127.0,948.9 127.5,949.0 128.0,949.0 128.5,949.0 129.0,948.9 129.5,948.9 130.0,948.8 130.5,948.6 131.0,948.5 131.5,948.4 132.0,948.4 132.5,948.3 133.0,948.3 133.5,948.3 134.0,948.3 134.5,948.4 135.0,948.5 135.5,948.5 136.0,948.6 136.5,948.7 137.0,948.8 137.5,948.8 138.0,948.8 138.5,948.6 139.1,948.0 139.6,947.1 140.1,946.3 140.7,945.7 141.2,945.5 141.7,946.1 142.2,947.6 142.7,949.8 143.2,951.9 143.7,953.4 144.2,954.0 144.7,953.6 145.2,952.4 145.7,950.7 146.2,948.8 146.7,947.1 147.2,945.9 147.7,945.5 148.2,945.8 148.8,946.8 149.3,948.0 149.8,949.2 150.4,950.2 150.9,950.5 151.4,950.4 151.9,950.2 152.4,949.8 152.9,949.4 153.4,949.0 153.9,948.8 154.4,948.7 154.9,948.8 155.4,949.0 155.9,949.3 156.4,949.7 156.9,950.0 157.4,950.2 157.9,950.3 158.4,950.1 158.9,949.5 159.4,948.7 159.9,947.9 160.4,947.1 160.9,946.5 161.4,946.3 161.9,946.6 162.4,947.4 163.0,948.4 163.5,949.2 164.0,949.5 164.5,949.1 165.0,948.2 165.5,947.4 166.0,947.0 166.5,947.4 167.0,948.5 167.5,949.6 168.0,950.0 168.5,949.9 169.0,949.6 169.5,949.1 170.0,948.5 170.5,947.9 171.0,947.4 171.5,947.1 172.0,947.0 172.5,947.1 173.0,947.4 173.5,947.8 174.0,948.3 174.5,948.8 175.0,949.2 175.5,949.5 176.0,949.6 176.5,949.5 177.0,949.3 177.5,948.9 178.0,948.5 178.5,948.0 179.0,947.6 179.5,947.4 180.0,947.3 180.6,947.5 181.1,948.2 181.7,949.1 182.3,950.1 182.8,950.8 183.4,951.0 184.0,950.7 184.6,950.0 185.1,949.0 185.7,948.3 186.3,948.0 186.8,947.9 187.3,947.5 187.8,947.0 188.4,946.4 188.9,945.9 189.4,945.5 189.9,945.4 190.4,946.2 191.0,948.1 191.6,950.0 192.1,950.8 192.7,950.2 193.3,948.6 193.8,946.7 194.4,945.1 195.0,944.5 195.5,945.3 196.1,947.3 196.6,949.8 197.2,951.8 197.7,952.6 198.2,952.4 198.7,951.9 199.2,951.1 199.7,950.1 200.3,949.0 200.8,948.0 201.3,947.2 201.8,946.7 202.3,946.5 202.8,946.5 203.4,946.6 203.9,946.7 204.4,946.8 204.9,946.9 205.5,947.0 206.0,947.0 206.5,947.2 207.0,947.6 207.5,948.2 208.1,949.0 208.6,949.6 209.1,950.0 209.6,950.2 210.1,950.1 210.6,949.8 211.1,949.4 211.6,948.9 212.1,948.6 212.6,948.5 213.2,948.7 213.8,949.3 214.3,950.0 214.9,950.6 215.5,950.8 216.1,950.5 216.7,949.6 217.2,948.4 217.8,947.5 218.4,947.2 219.0,947.5 219.6,948.2 220.1,949.0 220.7,949.7 221.3,950.0 221.9,949.7 222.5,948.8 223.0,947.7 223.6,946.8 224.2,946.5 224.7,946.7 225.2,947.4 225.7,948.2 226.2,949.1 226.7,949.8 227.2,950.0 227.8,949.7 228.3,948.8 228.9,947.7 229.4,946.8 230.0,946.5 230.5,946.8 231.0,947.7 231.5,948.9 232.0,950.1 232.5,951.0 233.0,951.3 233.5,950.9 234.0,949.9 234.5,948.3 235.1,946.7 235.6,945.1 236.1,944.1 236.6,943.7 237.2,944.7 237.7,947.2 238.2,949.8 238.8,950.8 239.4,950.0 239.9,948.1 240.4,946.2 241.0,945.4 241.6,946.3 242.2,948.8 242.7,951.7 243.3,954.2 243.9,955.1 244.4,954.3 244.9,952.2 245.4,948.9 245.9,945.1 246.4,941.2 246.9,937.9 247.4,935.8 247.9,935.0 248.4,937.3 249.0,943.6 249.6,952.1 250.1,960.7 250.6,967.0 251.2,969.3 251.7,967.7 252.2,963.1 252.7,956.2 253.2,948.1 253.8,940.1 254.3,933.2 254.8,928.6 255.3,927.0 255.8,928.4 256.3,932.4 256.8,938.1 257.3,944.5 257.8,950.2 258.3,954.2 258.8,955.6 259.4,954.8 260.0,952.8 260.5,950.3 261.1,948.3 261.7,947.5 262.2,947.7 262.7,948.1 263.2,948.8 263.7,949.6 264.2,950.3 264.7,950.7 265.2,950.9 265.7,950.8 266.2,950.5 266.8,950.1 267.3,949.5 267.8,948.9 268.3,948.2 268.8,947.6 269.4,947.2 269.9,946.9 270.4,946.8 270.9,947.0 271.4,947.5 271.9,948.2 272.4,949.0 273.0,949.9 273.5,950.6 274.0,951.1 274.5,951.3 275.0,951.0 275.5,950.3 276.0,949.2 276.5,948.1 277.0,947.0 277.5,946.3 278.0,946.0 278.5,946.3 279.0,947.1 279.5,948.1 280.0,949.2 280.5,950.0 281.0,950.3 281.6,950.5 282.2,951.2 282.7,951.9 283.3,952.6 283.9,952.8 284.5,951.9 285.1,949.6 285.6,946.6 286.2,944.3 286.8,943.4 287.4,944.1 288.0,945.9 288.5,948.0 289.1,949.8 289.7,950.5 290.2,950.5 290.7,950.3 291.2,950.1 291.7,949.9 292.2,949.7 292.7,949.5 293.2,949.5 293.7,949.3 294.2,948.7 294.7,947.9 295.2,947.1 295.7,946.3 296.2,945.7 296.7,945.5 297.2,945.9 297.7,946.9 298.2,948.4 298.7,950.1 299.2,951.6 299.7,952.6 300.2,953.0 300.7,952.8 301.2,952.3 301.7,951.6 302.2,950.9 302.7,950.2 303.2,949.7 303.7,949.5 304.2,949.2 304.7,948.3 305.2,947.0 305.7,945.5 306.2,944.2 306.7,943.3 307.2,943.0 307.7,943.5 308.2,945.1 308.7,947.3 309.2,949.7 309.7,951.9 310.2,953.5 310.7,954.0 311.2,953.7 311.7,952.8 312.2,951.5 312.7,950.0 313.2,948.7 313.7,947.8 314.2,947.5 314.8,948.1 315.4,949.5 315.9,950.9 316.5,951.5 317.1,949.5 317.7,944.8 318.3,940.1 318.9,938.1 319.5,940.5 320.0,946.3 320.6,952.1 321.2,954.5 321.8,953.4 322.4,950.7 323.0,948.0 323.6,946.9 324.2,947.3 324.7,948.5 325.3,949.9 325.8,951.1 326.4,951.5" fill="none" stroke="#0072BD" stroke-width="2.3" stroke-linejoin="round"/>
<polyline points="44.4,948.8 44.9,948.8 45.4,948.8 45.9,948.8 46.5,948.8 47.0,948.8 47.5,948.8 48.0,948.8 48.5,948.8 49.0,948.8 49.5,948.8 50.0,948.8 50.6,948.8 51.1,948.8 51.6,948.8 52.1,948.8 52.6,948.8 53.1,948.8 53.6,948.8 54.2,948.8 54.7,948.8 55.2,948.8 55.7,948.8 56.2,948.8 56.7,948.8 57.2,948.8 57.7,948.8 58.3,948.8 58.8,948.8 59.3,948.8 59.8,948.8 60.3,949.0 60.8,949.6 61.4,950.4 61.9,951.0 62.4,951.2 62.9,950.6 63.4,949.0 64.0,947.1 64.5,945.5 65.0,944.9 65.5,945.3 66.1,946.5 66.6,948.2 67.1,949.9 67.7,951.1 68.2,951.5 68.7,951.4 69.3,950.9 69.8,950.3 70.4,949.7 70.9,949.1 71.5,948.6 72.0,948.5 72.5,948.5 73.1,948.4 73.7,948.2 74.2,948.0 74.8,947.8 75.3,947.6 75.9,947.5 76.4,947.5 76.9,947.7 77.4,948.2 78.0,948.8 78.5,949.3 79.0,949.5 79.5,949.4 80.1,949.3 80.7,949.0 81.2,948.8 81.8,948.5 82.3,948.2 82.9,948.1 83.4,948.0 83.9,948.0 84.4,948.1 84.9,948.1 85.4,948.2 86.0,948.4 86.5,948.5 87.0,948.5 87.5,948.6 88.0,948.6 88.5,948.6 89.0,948.5 89.5,948.4 90.0,948.2 90.5,948.1 91.0,947.9 91.5,947.7 92.0,947.6 92.5,947.5 93.0,947.5 93.5,947.5 94.0,947.6 94.5,947.8 95.0,948.0 95.5,948.2 96.0,948.5 96.5,948.7 97.0,948.9 97.5,949.0 98.0,949.0 98.5,949.0 99.0,948.9 99.5,948.8 100.0,948.7 100.5,948.5 101.0,948.3 101.5,948.2 102.0,948.1 102.5,948.0 103.0,948.0 103.5,948.0 104.0,948.1 104.5,948.2 105.0,948.3 105.5,948.5 106.0,948.7 106.5,948.8 107.0,948.9 107.5,949.0 108.0,949.0 108.5,949.0 109.0,948.9 109.5,948.8 110.0,948.7 110.5,948.5 111.0,948.3 111.5,948.2 112.0,948.1 112.5,948.0 113.0,948.0 113.5,948.0 114.0,948.1 114.5,948.2 115.0,948.3 115.5,948.5 116.0,948.7 116.5,948.8 117.0,948.9 117.5,949.0 118.0,949.0 118.5,949.0 119.0,948.9 119.5,948.8 120.0,948.7 120.5,948.5 121.0,948.3 121.5,948.2 122.0,948.1 122.5,948.0 123.0,948.0 123.5,948.0 124.0,948.1 124.5,948.2 125.0,948.3 125.5,948.5 126.0,948.7 126.5,948.8 127.0,948.9 127.5,949.0 128.0,949.0 128.5,949.0 129.0,948.9 129.5,948.9 130.0,948.8 130.5,948.6 131.0,948.5 131.5,948.4 132.0,948.4 132.5,948.3 133.0,948.3 133.5,948.3 134.0,948.3 134.5,948.4 135.0,948.5 135.5,948.5 136.0,948.6 136.5,948.7 137.0,948.8 137.5,948.8 138.0,948.8 138.5,948.6 139.1,948.1 139.6,947.4 140.1,946.6 140.7,946.1 141.2,945.9 141.7,946.4 142.2,947.9 142.7,949.8 143.2,951.8 143.7,953.2 144.2,953.7 144.7,953.3 145.2,952.2 145.7,950.7 146.2,948.9 146.7,947.4 147.2,946.3 147.7,945.9 148.2,946.2 148.8,947.0 149.3,948.2 149.8,949.4 150.4,950.2 150.9,950.5 151.4,950.4 151.9,950.2 152.4,949.8 152.9,949.4 153.4,949.0 153.9,948.8 154.4,948.7 154.9,948.8 155.4,948.9 155.9,949.2 156.4,949.5 156.9,949.8 157.4,949.9 157.9,950.0 158.4,949.8 158.9,949.4 159.4,948.7 159.9,947.9 160.4,947.2 160.9,946.8 161.4,946.6 161.9,946.9 162.4,947.6 163.0,948.5 163.5,949.2 164.0,949.5 164.5,949.1 165.0,948.2 165.5,947.4 166.0,947.0 166.5,947.4 167.0,948.3 167.5,949.2 168.0,949.6 168.5,949.5 169.0,949.3 169.5,948.9 170.0,948.5 170.5,948.0 171.0,947.6 171.5,947.4 172.0,947.3 172.5,947.4 173.0,947.6 173.5,947.9 174.0,948.3 174.5,948.7 175.0,949.0 175.5,949.2 176.0,949.3 176.5,949.2 177.0,949.1 177.5,948.8 178.0,948.5 178.5,948.1 179.0,947.8 179.5,947.7 180.0,947.6 180.6,947.8 181.1,948.4 181.7,949.2 182.3,950.0 182.8,950.6 183.4,950.8 184.0,950.5 184.6,949.8 185.1,949.0 185.7,948.3 186.3,948.0 186.8,947.9 187.3,947.6 187.8,947.1 188.4,946.6 188.9,946.1 189.4,945.8 189.9,945.7 190.4,946.4 191.0,948.1 191.6,949.8 192.1,950.5 192.7,949.9 193.3,948.5 193.8,946.7 194.4,945.3 195.0,944.7 195.5,945.4 196.1,947.4 196.6,949.7 197.2,951.7 197.7,952.4 198.2,952.2 198.7,951.8 199.2,951.0 199.7,950.1 200.3,949.2 200.8,948.3 201.3,947.5 201.8,947.1 202.3,946.9 202.8,946.9 203.4,946.9 203.9,946.9 204.4,947.0 204.9,947.0 205.5,947.0 206.0,947.0 206.5,947.1 207.0,947.5 207.5,948.1 208.1,948.7 208.6,949.3 209.1,949.7 209.6,949.8 210.1,949.7 210.6,949.5 211.1,949.1 211.6,948.8 212.1,948.6 212.6,948.5 213.2,948.7 213.8,949.2 214.3,949.8 214.9,950.3 215.5,950.5 216.1,950.2 216.7,949.5 217.2,948.5 217.8,947.8 218.4,947.5 219.0,947.7 219.6,948.3 220.1,949.0 220.7,949.6 221.3,949.8 221.9,949.5 222.5,948.8 223.0,947.8 223.6,947.1 224.2,946.8 224.7,947.0 225.2,947.5 225.7,948.3 226.2,949.0 226.7,949.6 227.2,949.8 227.8,949.5 228.3,948.8 228.9,947.8 229.4,947.1 230.0,946.8 230.5,947.1 231.0,947.8 231.5,948.9 232.0,949.9 232.5,950.7 233.0,951.0 233.6,950.4 234.2,948.7 234.7,946.5 235.3,944.8 235.9,944.2 236.5,944.8 237.1,946.4 237.6,948.3 238.2,949.9 238.8,950.5 239.4,949.8 239.9,948.0 240.4,946.1 241.0,945.4 241.6,946.3 242.2,948.7 242.7,951.6 243.3,954.0 243.9,954.9 244.4,954.2 244.9,952.0 245.4,948.8 245.9,945.1 246.4,941.3 246.9,938.1 247.4,935.9 247.9,935.2 248.4,937.5 249.0,943.7 249.6,952.1 250.1,960.6 250.6,966.8 251.2,969.1 251.7,967.5 252.2,963.1 252.7,956.5 253.2,948.7 253.8,940.8 254.3,934.2 254.8,929.8 255.3,928.2 255.8,929.5 256.3,933.0 256.8,938.2 257.3,943.9 257.8,949.1 258.3,952.6 258.8,953.9 259.4,953.3 260.0,951.9 260.5,950.0 261.1,948.6 261.7,948.0 262.2,948.1 262.7,948.5 263.2,948.9 263.7,949.5 264.2,949.9 264.7,950.3 265.2,950.4 265.7,950.3 266.2,950.1 266.8,949.7 267.3,949.3 267.8,948.8 268.3,948.2 268.8,947.8 269.4,947.4 269.9,947.2 270.4,947.1 270.9,947.2 271.4,947.7 271.9,948.3 272.4,949.0 273.0,949.7 273.5,950.3 274.0,950.8 274.5,950.9 275.0,950.7 275.5,950.0 276.0,949.1 276.5,948.1 277.0,947.2 277.5,946.5 278.0,946.3 278.5,946.5 279.0,947.2 279.5,948.0 280.0,948.9 280.5,949.6 281.0,949.8 281.6,950.0 282.2,950.6 282.7,951.3 283.3,951.9 283.9,952.1 284.5,951.4 285.1,949.5 285.6,947.1 286.2,945.2 286.8,944.5 287.4,945.0 288.0,946.3 288.5,948.0 289.1,949.3 289.7,949.8 290.2,949.8 290.7,949.7 291.2,949.6 291.7,949.4 292.2,949.3 292.7,949.2 293.2,949.2 293.7,949.0 294.2,948.4 294.7,947.6 295.2,946.7 295.7,945.9 296.2,945.3 296.7,945.1 297.2,945.5 297.7,946.5 298.2,948.1 298.7,949.7 299.2,951.3 299.7,952.3 300.2,952.7 300.7,952.5 301.2,952.0 301.7,951.3 302.2,950.6 302.7,949.9 303.2,949.4 303.7,949.2 304.2,948.9 304.7,947.9 305.2,946.5 305.7,944.9 306.2,943.5 306.7,942.5 307.2,942.2 307.7,942.8 308.2,944.5 308.7,947.0 309.2,949.7 309.7,952.2 310.2,953.9 310.7,954.5 311.2,954.1 311.7,953.0 312.2,951.3 312.7,949.5 313.2,947.8 313.7,946.7 314.2,946.3 314.8,946.8 315.4,948.0 316.0,949.3 316.6,949.8 317.2,949.0 317.8,946.9 318.3,944.8 318.9,944.0 319.4,944.1 319.9,944.5 320.4,945.1 320.9,945.8 321.4,946.4 321.9,946.8 322.4,946.9 323.0,948.0 323.6,950.9 324.1,954.6 324.7,957.5 325.3,958.6 325.9,956.8 326.4,955.0" fill="none" stroke="#D95319" stroke-width="2.3" stroke-linejoin="round"/>
</g>
<clipPath id="clipL3ew"><rect x="44.4" y="906.6" width="282" height="84.3"/></clipPath>
<rect x="44.4" y="906.6" width="282" height="84.3" fill="none" stroke="#262626" stroke-width="1.1"/>
<text x="44.4" y="1008.2" font-size="12.6" text-anchor="middle" font-family='"Liberation Sans", sans-serif' >7</text>
<path d="M185.4 990.9v-3.3M185.4 906.6v3.3" stroke="#262626" stroke-width="1"/>
<text x="185.4" y="1008.2" font-size="12.6" text-anchor="middle" font-family='"Liberation Sans", sans-serif' >12</text>
<text x="326.4" y="1008.2" font-size="12.6" text-anchor="middle" font-family='"Liberation Sans", sans-serif' >17</text>
<text x="39.8" y="995.8" font-size="12.6" text-anchor="end" font-family='"Liberation Sans", sans-serif' >-0.3</text>
<path d="M44.4 948.75h3.3M326.4 948.75h-3.3" stroke="#262626" stroke-width="1"/>
<text x="39.8" y="953.65" font-size="12.6" text-anchor="end" font-family='"Liberation Sans", sans-serif' >0</text>
<text x="39.8" y="911.5" font-size="12.6" text-anchor="end" font-family='"Liberation Sans", sans-serif' >0.3</text>
<text transform="translate(11.6 949.75) rotate(-90)" font-size="15.5" text-anchor="middle" font-family='"Liberation Sans", sans-serif' fill="#000">a [m/s/s]</text>
<text x="73.1" y="925" font-size="11.8" text-anchor="start" font-family='"Liberation Sans", sans-serif' >EW</text>
<g clip-path="url(#clipL3ns)">
<polyline points="44.4,1077.9 44.9,1077.9 45.4,1077.9 45.9,1077.9 46.5,1077.9 47.0,1077.9 47.5,1077.9 48.0,1077.9 48.5,1077.9 49.0,1077.9 49.5,1077.9 50.0,1077.9 50.6,1077.9 51.1,1077.9 51.6,1077.9 52.1,1077.9 52.6,1077.9 53.1,1077.9 53.6,1077.9 54.2,1077.9 54.7,1077.9 55.2,1077.9 55.7,1077.9 56.2,1077.9 56.7,1077.9 57.2,1077.9 57.7,1077.9 58.3,1077.9 58.8,1077.9 59.3,1077.9 59.8,1077.9 60.4,1077.3 60.9,1076.0 61.5,1075.4 62.0,1075.8 62.6,1076.9 63.1,1078.3 63.6,1079.8 64.2,1080.8 64.7,1081.2 65.2,1081.0 65.8,1080.3 66.3,1079.4 66.9,1078.4 67.4,1077.5 68.0,1076.8 68.5,1076.6 69.0,1076.7 69.5,1076.9 70.0,1077.1 70.5,1077.5 71.0,1077.7 71.5,1077.9 72.0,1078.0 72.5,1077.9 73.1,1077.7 73.6,1077.5 74.2,1077.3 74.7,1077.2 75.2,1077.3 75.8,1077.7 76.3,1078.1 76.9,1078.5 77.5,1078.9 78.0,1079.0 78.5,1078.9 79.0,1078.8 79.5,1078.5 80.0,1078.3 80.5,1077.9 81.0,1077.7 81.5,1077.4 82.0,1077.3 82.5,1077.2 83.0,1077.3 83.5,1077.4 84.0,1077.7 84.5,1077.9 85.0,1078.2 85.5,1078.3 86.0,1078.4 86.5,1078.4 87.0,1078.3 87.5,1078.1 88.0,1078.0 88.5,1077.8 89.0,1077.6 89.5,1077.5 90.0,1077.5 90.5,1077.5 91.0,1077.6 91.5,1077.8 92.0,1078.0 92.5,1078.1 93.0,1078.3 93.5,1078.4 94.0,1078.4 94.5,1078.4 95.0,1078.2 95.5,1078.0 96.0,1077.8 96.5,1077.6 97.0,1077.4 97.5,1077.2 98.0,1077.2 98.5,1077.3 99.0,1077.4 99.5,1077.6 100.0,1077.9 100.5,1078.2 101.0,1078.4 101.5,1078.5 102.0,1078.6 102.5,1078.5 103.0,1078.4 103.5,1078.2 104.0,1077.9 104.5,1077.6 105.0,1077.4 105.5,1077.3 106.0,1077.2 106.5,1077.3 107.0,1077.4 107.5,1077.6 108.0,1077.9 108.5,1078.2 109.0,1078.4 109.5,1078.5 110.0,1078.6 110.5,1078.6 111.0,1078.4 111.5,1078.2 112.0,1078.0 112.5,1077.7 113.0,1077.5 113.5,1077.3 114.0,1077.3 114.5,1077.3 115.0,1077.5 115.5,1077.7 116.0,1077.9 116.5,1078.2 117.0,1078.4 117.5,1078.6 118.0,1078.6 118.5,1078.6 119.0,1078.5 119.5,1078.4 120.0,1078.2 120.5,1078.0 121.0,1077.8 121.5,1077.6 122.0,1077.3 122.5,1077.1 123.0,1076.9 123.5,1076.7 124.0,1076.5 124.5,1076.4 125.0,1076.3 125.5,1076.3 126.0,1076.4 126.6,1076.8 127.1,1077.3 127.7,1077.9 128.2,1078.6 128.7,1079.1 129.3,1079.5 129.8,1079.6 130.4,1079.5 130.9,1079.1 131.4,1078.6 132.0,1078.0 132.6,1077.3 133.1,1076.8 133.6,1076.4 134.2,1076.3 134.8,1076.4 135.3,1076.7 135.8,1077.2 136.4,1077.8 136.9,1078.4 137.5,1078.9 138.0,1079.2 138.6,1079.3 139.1,1079.2 139.6,1079.0 140.1,1078.7 140.6,1078.2 141.1,1077.7 141.6,1077.1 142.2,1076.5 142.7,1076.0 143.2,1075.5 143.7,1075.2 144.2,1075.0 144.7,1074.9 145.3,1075.4 145.8,1076.6 146.4,1078.1 146.9,1079.3 147.5,1079.8 148.0,1079.6 148.5,1079.1 149.0,1078.4 149.5,1077.7 150.0,1077.0 150.5,1076.5 151.0,1076.3 151.5,1076.3 152.0,1076.3 152.5,1076.2 153.0,1076.2 153.6,1076.2 154.1,1076.1 154.6,1076.1 155.1,1076.0 155.6,1076.0 156.1,1076.0 156.7,1076.1 157.2,1076.6 157.8,1077.2 158.3,1077.9 158.8,1078.6 159.4,1079.2 159.9,1079.7 160.5,1079.8 161.0,1079.7 161.5,1079.3 162.0,1078.8 162.5,1078.3 163.0,1077.9 163.5,1077.8 164.0,1077.7 164.5,1077.3 165.1,1076.9 165.6,1076.5 166.1,1076.1 166.6,1076.0 167.1,1076.3 167.6,1077.0 168.1,1078.1 168.7,1079.4 169.2,1080.5 169.7,1081.2 170.2,1081.5 170.8,1080.9 171.4,1079.3 171.9,1077.4 172.5,1075.8 173.1,1075.2 173.7,1075.4 174.2,1076.0 174.8,1076.8 175.3,1077.8 175.8,1078.9 176.4,1079.7 176.9,1080.3 177.5,1080.5 178.1,1080.3 178.6,1079.9 179.2,1079.1 179.7,1078.3 180.2,1077.5 180.8,1076.7 181.3,1076.3 181.9,1076.1 182.4,1076.1 182.9,1076.3 183.4,1076.4 184.0,1076.7 184.5,1076.8 185.0,1077.0 185.5,1077.0 186.1,1077.1 186.6,1077.5 187.2,1078.1 187.7,1078.8 188.2,1079.4 188.8,1080.0 189.3,1080.4 189.9,1080.5 190.5,1079.8 191.1,1078.0 191.6,1075.7 192.2,1073.9 192.8,1073.2 193.3,1073.7 193.8,1075.0 194.3,1076.8 194.8,1078.7 195.3,1080.0 195.8,1080.5 196.4,1079.9 197.0,1078.5 197.5,1076.7 198.1,1075.3 198.7,1074.7 199.3,1075.3 199.9,1076.7 200.4,1078.5 201.0,1079.9 201.6,1080.5 202.1,1080.4 202.7,1080.1 203.2,1079.7 203.7,1079.2 204.2,1078.8 204.8,1078.5 205.3,1078.4 205.8,1078.3 206.4,1078.0 206.9,1077.5 207.4,1076.9 208.0,1076.3 208.5,1075.8 209.1,1075.5 209.6,1075.4 210.2,1076.4 210.7,1078.7 211.2,1081.0 211.8,1082.0 212.3,1081.7 212.9,1081.0 213.4,1080.0 213.9,1078.9 214.4,1077.9 215.0,1077.2 215.5,1076.9 216.1,1077.1 216.7,1077.6 217.2,1078.3 217.8,1078.8 218.4,1079.0 218.9,1077.9 219.5,1075.4 220.1,1072.9 220.6,1071.8 221.1,1072.9 221.6,1075.8 222.1,1079.5 222.6,1082.4 223.1,1083.5 223.6,1082.8 224.1,1080.9 224.7,1078.7 225.2,1076.8 225.7,1076.1 226.2,1076.9 226.8,1078.7 227.3,1080.5 227.9,1081.3 228.4,1080.3 229.0,1078.0 229.6,1075.7 230.1,1074.7 230.7,1075.5 231.3,1077.7 231.8,1080.5 232.4,1082.7 233.0,1083.5 233.6,1081.9 234.2,1077.7 234.7,1072.5 235.3,1068.3 235.9,1066.7 236.5,1069.0 237.1,1074.9 237.6,1082.3 238.2,1088.2 238.8,1090.5 239.4,1086.9 239.9,1078.2 240.4,1069.6 241.0,1066.0 241.5,1072.0 242.0,1084.0 242.5,1090.0 243.1,1085.4 243.6,1074.3 244.1,1063.2 244.7,1058.6 245.2,1065.1 245.8,1080.9 246.3,1096.7 246.9,1103.2 247.5,1098.7 248.1,1087.1 248.6,1072.6 249.2,1061.0 249.8,1056.5 250.4,1064.3 250.9,1083.1 251.4,1101.9 252.0,1109.7 252.5,1105.6 253.1,1094.4 253.6,1079.0 254.1,1063.7 254.7,1052.4 255.2,1048.3 255.8,1053.9 256.4,1067.2 257.0,1080.6 257.6,1086.2 258.1,1084.0 258.7,1078.3 259.2,1071.3 259.8,1065.6 260.3,1063.4 260.8,1065.4 261.3,1070.5 261.8,1076.9 262.3,1082.0 262.8,1084.0 263.4,1082.4 264.0,1078.7 264.6,1075.0 265.2,1073.4 265.7,1074.8 266.2,1078.6 266.8,1083.3 267.3,1087.1 267.8,1088.5 268.3,1087.6 268.9,1085.3 269.4,1082.1 269.9,1078.9 270.5,1076.6 271.0,1075.7 271.6,1076.3 272.2,1077.4 272.8,1078.0 273.4,1076.4 273.9,1073.2 274.5,1071.6 275.1,1073.4 275.7,1078.1 276.2,1083.8 276.8,1088.5 277.4,1090.3 277.9,1088.6 278.5,1084.0 279.0,1077.8 279.5,1071.5 280.1,1066.9 280.6,1065.2 281.1,1066.3 281.6,1069.6 282.2,1074.7 282.7,1080.9 283.2,1087.5 283.7,1093.7 284.3,1098.8 284.8,1102.1 285.3,1103.2 285.8,1101.4 286.3,1096.2 286.8,1088.4 287.4,1079.2 287.9,1070.1 288.4,1062.3 288.9,1057.1 289.4,1055.3 289.9,1057.2 290.4,1062.5 290.9,1070.3 291.5,1078.8 292.0,1086.6 292.5,1091.9 293.0,1093.8 293.6,1089.9 294.1,1080.4 294.7,1070.9 295.3,1067.0 295.9,1069.8 296.5,1076.6 297.0,1083.4 297.6,1086.2 298.2,1084.1 298.8,1078.7 299.3,1072.1 299.9,1066.7 300.5,1064.6 301.0,1066.3 301.6,1071.1 302.1,1078.0 302.7,1085.7 303.2,1092.6 303.8,1097.4 304.3,1099.1 304.8,1098.0 305.3,1095.0 305.8,1090.7 306.3,1085.9 306.8,1081.6 307.3,1078.6 307.8,1077.5 308.3,1076.5 308.9,1074.0 309.4,1071.0 310.0,1068.5 310.5,1067.5 311.0,1068.8 311.5,1072.3 312.0,1076.7 312.5,1080.2 313.0,1081.5 313.5,1081.7 314.0,1082.4 314.5,1083.2 315.0,1084.1 315.5,1084.8 316.0,1085.0 316.5,1084.4 317.0,1082.6 317.5,1080.2 318.0,1077.9 318.5,1076.1 319.0,1075.5 319.5,1075.2 320.0,1074.3 320.5,1073.0 321.0,1071.5 321.5,1070.0 322.0,1068.7 322.5,1067.8 323.0,1067.5 323.6,1068.9 324.2,1072.5 324.7,1077.1 325.3,1080.7 325.9,1082.1 326.1,1081.0 326.4,1080.0" fill="none" stroke="#0072BD" stroke-width="2.3" stroke-linejoin="round"/>
<polyline points="44.4,1077.9 44.9,1077.9 45.4,1077.9 45.9,1077.9 46.5,1077.9 47.0,1077.9 47.5,1077.9 48.0,1077.9 48.5,1077.9 49.0,1077.9 49.5,1077.9 50.0,1077.9 50.6,1077.9 51.1,1077.9 51.6,1077.9 52.1,1077.9 52.6,1077.9 53.1,1077.9 53.6,1077.9 54.2,1077.9 54.7,1077.9 55.2,1077.9 55.7,1077.9 56.2,1077.9 56.7,1077.9 57.2,1077.9 57.7,1077.9 58.3,1077.9 58.8,1077.9 59.3,1077.9 59.8,1077.9 60.4,1077.3 60.9,1076.0 61.5,1075.4 62.0,1075.8 62.6,1076.9 63.1,1078.3 63.6,1079.8 64.2,1080.8 64.7,1081.2 65.2,1081.0 65.8,1080.3 66.3,1079.4 66.9,1078.4 67.4,1077.5 68.0,1076.8 68.5,1076.6 69.0,1076.7 69.5,1076.9 70.0,1077.1 70.5,1077.5 71.0,1077.7 71.5,1077.9 72.0,1078.0 72.5,1077.9 73.1,1077.7 73.6,1077.5 74.2,1077.3 74.7,1077.2 75.2,1077.3 75.8,1077.7 76.3,1078.1 76.9,1078.5 77.5,1078.9 78.0,1079.0 78.5,1078.9 79.0,1078.8 79.5,1078.5 80.0,1078.3 80.5,1077.9 81.0,1077.7 81.5,1077.4 82.0,1077.3 82.5,1077.2 83.0,1077.3 83.5,1077.4 84.0,1077.7 84.5,1077.9 85.0,1078.2 85.5,1078.3 86.0,1078.4 86.5,1078.4 87.0,1078.3 87.5,1078.1 88.0,1078.0 88.5,1077.8 89.0,1077.6 89.5,1077.5 90.0,1077.5 90.5,1077.5 91.0,1077.6 91.5,1077.8 92.0,1078.0 92.5,1078.1 93.0,1078.3 93.5,1078.4 94.0,1078.4 94.5,1078.4 95.0,1078.2 95.5,1078.0 96.0,1077.8 96.5,1077.6 97.0,1077.4 97.5,1077.2 98.0,1077.2 98.5,1077.3 99.0,1077.4 99.5,1077.6 100.0,1077.9 100.5,1078.2 101.0,1078.4 101.5,1078.5 102.0,1078.6 102.5,1078.5 103.0,1078.4 103.5,1078.2 104.0,1077.9 104.5,1077.6 105.0,1077.4 105.5,1077.3 106.0,1077.2 106.5,1077.3 107.0,1077.4 107.5,1077.6 108.0,1077.9 108.5,1078.2 109.0,1078.4 109.5,1078.5 110.0,1078.6 110.5,1078.6 111.0,1078.4 111.5,1078.2 112.0,1078.0 112.5,1077.7 113.0,1077.5 113.5,1077.3 114.0,1077.3 114.5,1077.3 115.0,1077.5 115.5,1077.7 116.0,1077.9 116.5,1078.2 117.0,1078.4 117.5,1078.6 118.0,1078.6 118.5,1078.6 119.0,1078.5 119.5,1078.4 120.0,1078.2 120.5,1078.0 121.0,1077.8 121.5,1077.6 122.0,1077.3 122.5,1077.1 123.0,1076.9 123.5,1076.7 124.0,1076.5 124.5,1076.4 125.0,1076.3 125.5,1076.3 126.0,1076.4 126.6,1076.8 127.1,1077.3 127.7,1077.9 128.2,1078.6 128.7,1079.1 129.3,1079.5 129.8,1079.6 130.4,1079.5 130.9,1079.1 131.4,1078.6 132.0,1078.0 132.6,1077.3 133.1,1076.8 133.6,1076.4 134.2,1076.3 134.8,1076.4 135.3,1076.7 135.8,1077.2 136.4,1077.8 136.9,1078.4 137.5,1078.9 138.0,1079.2 138.6,1079.3 139.1,1079.2 139.7,1079.0 140.2,1078.7 140.7,1078.4 141.2,1078.0 141.8,1077.5 142.3,1077.2 142.8,1076.9 143.4,1076.7 143.9,1076.6 144.4,1076.7 144.9,1076.8 145.5,1077.1 146.0,1077.4 146.5,1077.8 147.0,1078.1 147.5,1078.4 148.1,1078.7 148.6,1078.8 149.1,1078.9 149.6,1078.9 150.1,1078.8 150.6,1078.6 151.1,1078.4 151.6,1078.1 152.1,1077.8 152.6,1077.5 153.1,1077.1 153.6,1076.8 154.1,1076.5 154.6,1076.3 155.1,1076.1 155.6,1076.0 156.1,1076.0 156.7,1076.1 157.2,1076.6 157.8,1077.2 158.3,1077.9 158.8,1078.6 159.4,1079.2 159.9,1079.7 160.5,1079.8 161.0,1079.7 161.5,1079.3 162.0,1078.8 162.5,1078.3 163.0,1077.9 163.5,1077.8 164.0,1077.7 164.5,1077.3 165.1,1076.9 165.6,1076.5 166.1,1076.1 166.6,1076.0 167.1,1076.3 167.6,1077.0 168.1,1078.1 168.7,1079.4 169.2,1080.5 169.7,1081.2 170.2,1081.5 170.8,1080.9 171.4,1079.3 171.9,1077.4 172.5,1075.8 173.1,1075.2 173.7,1075.4 174.2,1075.9 174.8,1076.6 175.3,1077.5 175.8,1078.4 176.4,1079.1 176.9,1079.6 177.5,1079.8 178.1,1079.7 178.6,1079.3 179.2,1078.7 179.7,1078.0 180.2,1077.2 180.8,1076.6 181.3,1076.2 181.9,1076.1 182.4,1076.1 182.9,1076.3 183.4,1076.4 184.0,1076.7 184.5,1076.8 185.0,1077.0 185.5,1077.0 186.1,1077.1 186.6,1077.5 187.2,1078.1 187.7,1078.8 188.2,1079.4 188.8,1080.0 189.3,1080.4 189.9,1080.5 190.5,1079.8 191.1,1078.0 191.6,1075.7 192.2,1073.9 192.8,1073.2 193.3,1073.7 193.8,1075.0 194.3,1076.8 194.8,1078.7 195.3,1080.0 195.8,1080.5 196.4,1079.9 197.0,1078.5 197.5,1076.7 198.1,1075.3 198.7,1074.7 199.3,1075.2 199.9,1076.5 200.4,1078.0 201.0,1079.3 201.6,1079.8 202.1,1079.7 202.7,1079.5 203.2,1079.3 203.7,1078.9 204.2,1078.7 204.8,1078.5 205.3,1078.4 205.8,1078.3 206.4,1078.0 206.9,1077.5 207.4,1076.9 208.0,1076.3 208.5,1075.8 209.1,1075.5 209.6,1075.4 210.2,1076.4 210.7,1078.7 211.2,1081.0 211.8,1082.0 212.3,1081.7 212.9,1081.0 213.4,1080.0 213.9,1078.9 214.4,1077.9 215.0,1077.2 215.5,1076.9 216.1,1077.1 216.7,1077.6 217.2,1078.3 217.8,1078.8 218.4,1079.0 218.9,1077.9 219.5,1075.4 220.1,1072.9 220.6,1071.8 221.1,1072.8 221.6,1075.6 222.1,1078.9 222.6,1081.7 223.1,1082.7 223.6,1082.1 224.1,1080.4 224.7,1078.4 225.2,1076.7 225.7,1076.1 226.2,1076.9 226.8,1078.7 227.3,1080.5 227.9,1081.3 228.4,1080.3 229.0,1078.0 229.6,1075.7 230.1,1074.7 230.7,1075.5 231.3,1077.5 231.8,1079.9 232.4,1081.9 233.0,1082.7 233.6,1081.2 234.2,1077.2 234.7,1072.2 235.3,1068.2 235.9,1066.7 236.5,1068.9 237.1,1074.5 237.6,1081.5 238.2,1087.1 238.8,1089.3 239.4,1086.1 239.9,1078.4 240.4,1070.6 241.0,1067.4 241.5,1072.7 242.0,1083.3 242.5,1088.6 243.1,1084.4 243.6,1074.3 244.1,1064.3 244.7,1060.1 245.3,1064.1 245.9,1074.7 246.4,1087.8 247.0,1098.4 247.6,1102.4 248.2,1095.8 248.7,1079.8 249.2,1063.8 249.8,1057.2 250.3,1062.0 250.8,1074.5 251.3,1089.9 251.8,1102.4 252.3,1107.2 252.8,1103.5 253.3,1093.5 253.8,1079.8 254.3,1066.0 254.8,1056.0 255.3,1052.3 255.9,1056.8 256.5,1067.5 257.0,1078.2 257.6,1082.7 258.1,1081.1 258.7,1077.1 259.2,1072.0 259.8,1068.0 260.3,1066.4 260.9,1068.7 261.5,1074.2 262.0,1079.8 262.6,1082.1 263.1,1081.3 263.6,1079.1 264.2,1076.4 264.7,1074.2 265.2,1073.4 265.7,1074.8 266.2,1078.4 266.8,1083.0 267.3,1086.6 267.8,1088.0 268.3,1087.2 268.9,1084.9 269.4,1081.9 269.9,1078.8 270.5,1076.5 271.0,1075.7 271.6,1076.3 272.2,1077.4 272.8,1078.0 273.3,1077.3 273.8,1075.7 274.3,1074.1 274.8,1073.4 275.3,1074.5 275.8,1077.4 276.4,1081.0 276.9,1083.9 277.4,1085.0 277.9,1083.9 278.5,1081.1 279.0,1077.2 279.5,1073.2 280.1,1070.4 280.6,1069.3 281.1,1070.2 281.6,1072.8 282.2,1076.9 282.7,1081.8 283.2,1087.1 283.7,1092.0 284.3,1096.1 284.8,1098.7 285.3,1099.6 285.8,1097.9 286.3,1093.2 286.8,1086.1 287.4,1077.8 287.9,1069.4 288.4,1062.3 288.9,1057.6 289.4,1055.9 289.9,1057.7 290.4,1062.9 290.9,1070.4 291.5,1078.7 292.0,1086.2 292.5,1091.4 293.0,1093.2 293.5,1091.1 294.0,1085.5 294.5,1078.7 295.0,1073.1 295.5,1071.0 296.1,1071.6 296.7,1073.0 297.3,1074.5 297.9,1075.1 298.5,1074.8 299.1,1074.1 299.6,1073.2 300.2,1072.5 300.8,1072.2 301.3,1073.3 301.8,1076.4 302.3,1080.8 302.8,1085.8 303.3,1090.2 303.8,1093.3 304.3,1094.4 304.9,1092.7 305.5,1088.1 306.0,1082.6 306.6,1078.0 307.2,1076.3 307.8,1075.9 308.4,1074.9 308.9,1073.6 309.5,1072.6 310.1,1072.2 310.6,1072.6 311.1,1073.6 311.6,1075.2 312.1,1076.8 312.6,1078.4 313.1,1079.4 313.6,1079.8 314.2,1079.2 314.7,1077.6 315.3,1075.3 315.8,1072.6 316.4,1070.3 316.9,1068.7 317.5,1068.1 318.0,1069.8 318.5,1074.1 319.1,1079.6 319.6,1083.9 320.1,1085.6 320.7,1084.7 321.3,1082.2 321.8,1079.1 322.4,1076.6 323.0,1075.7 323.6,1075.8 324.1,1076.0 324.7,1076.3 325.3,1076.6 325.8,1076.8 326.4,1076.9" fill="none" stroke="#D95319" stroke-width="2.3" stroke-linejoin="round"/>
</g>
<clipPath id="clipL3ns"><rect x="44.4" y="1035.7" width="282" height="84.4"/></clipPath>
<rect x="44.4" y="1035.7" width="282" height="84.4" fill="none" stroke="#262626" stroke-width="1.1"/>
<text x="44.4" y="1137.4" font-size="12.6" text-anchor="middle" font-family='"Liberation Sans", sans-serif' >7</text>
<path d="M185.4 1120.1v-3.3M185.4 1035.7v3.3" stroke="#262626" stroke-width="1"/>
<text x="185.4" y="1137.4" font-size="12.6" text-anchor="middle" font-family='"Liberation Sans", sans-serif' >12</text>
<text x="326.4" y="1137.4" font-size="12.6" text-anchor="middle" font-family='"Liberation Sans", sans-serif' >17</text>
<text x="39.8" y="1125" font-size="12.6" text-anchor="end" font-family='"Liberation Sans", sans-serif' >-0.1</text>
<path d="M44.4 1077.9h3.3M326.4 1077.9h-3.3" stroke="#262626" stroke-width="1"/>
<text x="39.8" y="1082.8" font-size="12.6" text-anchor="end" font-family='"Liberation Sans", sans-serif' >0</text>
<text x="39.8" y="1040.6" font-size="12.6" text-anchor="end" font-family='"Liberation Sans", sans-serif' >0.1</text>
<text transform="translate(11.6 1078.9) rotate(-90)" font-size="15.5" text-anchor="middle" font-family='"Liberation Sans", sans-serif' fill="#000">a [m/s/s]</text>
<text x="73.5" y="1116.2" font-size="11.8" text-anchor="start" font-family='"Liberation Sans", sans-serif' >NS</text>
<path d="M172 976h19.8" stroke="#0072BD" stroke-width="2"/>
<text x="194" y="980.8" font-size="11.8" text-anchor="start" font-family='"Liberation Sans", sans-serif' >Topo</text>
<path d="M224.8 976h19.8" stroke="#D95319" stroke-width="2"/>
<text x="246" y="980.8" font-size="11.8" text-anchor="start" font-family='"Liberation Sans", sans-serif' >Topo &amp; Bathy</text>
<text x="185.3" y="1154.9" font-size="15.5" text-anchor="middle" font-family='"Liberation Sans", sans-serif' >t [s]</text>
<text x="185" y="1183.8" font-size="18" text-anchor="middle" font-family='"Liberation Serif", serif' >(g)</text>
<g clip-path="url(#clipR3)">
<path d="M398.3,1095.8C398.7,1095.4 405.4,1088.7 406.3,1087.5C407.2,1086.3 415.7,1073.5 416.7,1071.9C417.7,1070.3 425.9,1056.9 427.0,1055.4C428.1,1053.9 437.4,1042.5 438.4,1041.9C439.4,1041.3 446.0,1043.0 446.7,1042.9C447.8,1042.8 451.1,1041.4 452.0,1040.8C453.2,1040.0 457.0,1035.8 458.1,1035.7C459.5,1035.6 461.1,1038.4 462.3,1039.8C463.7,1041.4 465.1,1048.1 467.0,1046.0C469.2,1043.6 472.1,1030.1 474.7,1026.3C477.9,1021.7 478.9,1027.4 482.0,1024.3C485.6,1020.7 485.4,1017.2 489.2,1011.8C493.3,1006.0 493.6,1006.1 497.5,1002.5C501.4,998.9 500.9,998.1 503.7,998.4C506.5,998.7 504.9,999.4 507.9,1003.5C510.9,1007.6 511.2,1012.2 515.1,1013.9C519.0,1015.6 519.4,1012.0 522.4,1009.8C525.4,1007.6 523.8,1010.9 526.5,1005.6C529.2,1000.3 530.4,994.2 532.7,990.1C535.0,986.0 532.2,988.7 535.0,990.1C537.8,991.5 538.6,992.8 543.3,995.3C548.0,997.8 548.5,1001.9 552.6,999.4C556.7,996.9 555.5,990.7 558.8,986.0C562.1,981.3 560.7,983.5 565.1,981.8C569.5,980.1 569.6,982.3 575.4,979.8C581.2,977.3 581.8,973.9 586.8,972.5C591.8,971.1 590.2,976.8 594.1,974.6C598.0,972.4 597.7,966.1 601.3,964.2C604.9,962.3 604.3,967.9 607.6,967.3C610.9,966.7 609.9,962.7 613.8,962.1C617.7,961.5 618.0,962.4 622.1,965.2C626.2,968.0 624.9,970.3 629.3,972.5C633.7,974.7 634.5,971.6 638.7,973.5C642.9,975.4 641.0,975.4 644.9,979.8C648.8,984.2 648.8,983.8 653.2,990.1C657.6,996.4 657.6,994.7 661.5,1003.6C665.4,1012.5 664.7,1017.0 667.7,1023.3C670.7,1029.6 670.4,1025.2 672.9,1027.4C675.4,1029.6 675.9,1030.5 677.0,1031.6" fill="none" stroke="#0072BD" stroke-width="2.3" stroke-linejoin="round" stroke-linecap="round"/>
<path d="M398.3,1098.9C398.6,1098.5 403.6,1092.0 404.2,1091.6C404.8,1091.2 409.7,1091.3 410.4,1090.6C411.1,1089.9 416.9,1079.9 417.7,1078.2C418.5,1076.5 425.2,1059.1 426.0,1057.4C426.8,1055.7 432.6,1044.5 433.2,1044.0C433.8,1043.5 437.8,1046.5 438.4,1047.0C439.0,1047.5 443.9,1054.8 444.6,1054.3C445.5,1053.6 450.8,1038.5 451.9,1036.7C453.5,1034.0 458.5,1030.4 460.2,1028.4C462.6,1025.7 466.1,1020.2 468.5,1018.0C471.5,1015.2 474.1,1013.8 476.8,1012.9C480.0,1011.8 478.9,1015.0 483.0,1012.9C487.7,1010.5 490.7,1005.1 495.4,1003.5C500.4,1001.8 498.3,1008.8 501.6,1006.6C504.9,1004.4 504.9,999.3 507.9,995.2C510.9,991.1 509.7,991.1 513.0,991.1C516.3,991.1 516.1,998.0 520.3,995.2C524.5,992.4 524.7,984.8 528.6,980.7C532.5,976.6 531.3,979.5 535.0,979.8C538.7,980.1 539.0,982.7 542.3,981.8C545.6,980.9 544.4,979.3 547.4,976.6C550.4,973.9 549.8,973.7 553.7,971.5C557.6,969.3 557.6,969.5 562.0,968.4C566.4,967.3 565.8,968.2 570.2,967.3C574.6,966.4 574.1,966.0 578.5,965.2C582.9,964.4 582.4,964.7 586.8,964.2C591.2,963.7 590.7,963.8 595.1,963.2C599.5,962.6 599.0,962.8 603.4,962.1C607.8,961.4 607.8,960.7 611.7,960.7C615.6,960.7 614.6,960.6 617.9,962.1C621.2,963.6 620.8,963.3 624.1,966.3C627.4,969.3 627.1,970.2 630.4,973.5C633.7,976.8 632.7,977.0 636.6,978.7C640.5,980.4 641.0,977.3 644.9,979.8C648.8,982.3 647.8,983.6 651.1,988.0C654.4,992.4 654.3,990.8 657.3,996.3C660.3,1001.8 659.7,1001.0 662.5,1008.8C665.3,1016.6 664.9,1019.3 667.7,1025.4C670.5,1031.5 670.4,1027.7 672.9,1031.6C675.4,1035.5 675.9,1037.7 677.0,1039.9" fill="none" stroke="#D95319" stroke-width="2.3" stroke-linejoin="round" stroke-linecap="round"/>
<path d="M398.3,1092.7C398.7,1092.3 405.4,1085.2 406.3,1084.4C407.2,1083.6 415.8,1077.7 416.7,1077.1C417.6,1076.5 423.2,1074.0 423.9,1073.0C424.6,1072.0 430.4,1058.9 431.2,1057.4C432.0,1056.0 438.7,1045.0 439.5,1044.0C440.3,1043.0 447.0,1037.4 447.8,1036.7C449.2,1035.6 454.6,1031.9 456.0,1030.5C458.0,1028.4 462.5,1022.3 464.3,1020.1C466.7,1017.2 468.6,1013.9 470.6,1012.9C473.0,1011.7 474.2,1011.9 476.8,1013.9C479.8,1016.2 480.8,1023.0 484.0,1023.2C487.7,1023.5 487.3,1019.2 491.3,1014.9C495.5,1010.5 495.2,1008.8 499.6,1006.6C504.0,1004.4 503.8,1007.4 507.9,1006.6C512.0,1005.8 511.2,1004.9 515.1,1003.5C519.0,1002.1 517.7,1004.8 522.4,1001.5C527.1,998.2 529.3,993.3 532.7,991.1C536.1,988.9 531.6,992.2 535.0,993.2C538.4,994.2 540.4,995.8 545.4,994.7C550.4,993.6 549.6,991.7 553.7,989.1C557.8,986.5 557.0,987.4 560.9,984.9C564.8,982.4 564.3,981.7 568.2,979.8C572.1,977.9 571.3,979.4 575.4,977.7C579.5,976.0 580.1,972.9 583.7,973.5C587.3,974.1 585.9,980.6 588.9,979.8C591.9,979.0 592.1,971.8 595.1,970.4C598.1,969.0 597.5,974.6 600.3,974.6C603.1,974.6 602.5,970.2 605.5,970.4C608.5,970.6 608.4,974.4 611.7,975.2C615.0,976.0 614.6,974.8 617.9,973.5C621.2,972.2 620.8,969.6 624.1,970.4C627.4,971.2 626.5,974.4 630.4,976.6C634.3,978.8 634.3,977.0 638.7,978.7C643.1,980.4 642.5,979.6 646.9,982.9C651.3,986.2 651.3,986.5 655.2,991.2C659.1,995.9 658.2,991.4 661.5,1000.5C664.8,1009.6 663.6,1013.2 667.7,1025.4C671.8,1037.6 674.5,1040.6 677.0,1046.1" fill="none" stroke="#EDB120" stroke-width="2.3" stroke-linejoin="round" stroke-linecap="round"/>
<path d="M398.3,1103.0C398.7,1102.6 405.4,1096.4 406.3,1095.8C407.2,1095.2 414.9,1092.0 415.6,1090.6C416.3,1089.2 420.2,1069.2 420.8,1067.8C421.4,1066.3 426.4,1062.2 427.0,1061.6C427.6,1061.0 431.6,1057.6 432.2,1056.4C432.8,1055.2 438.8,1038.0 439.5,1036.7C440.2,1035.4 446.1,1030.9 446.7,1030.5C447.7,1029.9 451.0,1030.3 452.0,1029.5C453.3,1028.4 457.8,1020.5 459.2,1020.1C461.1,1019.5 463.8,1026.2 465.4,1025.3C467.3,1024.3 468.5,1017.9 470.6,1013.9C473.0,1009.3 475.4,1004.1 477.8,1001.5C480.6,998.4 480.6,1001.7 483.0,1000.5C485.6,999.2 485.9,997.6 488.2,996.3C490.7,994.9 489.6,997.5 492.3,995.3C495.0,993.1 495.5,989.4 498.5,988.0C501.5,986.6 500.7,989.8 503.7,990.1C506.7,990.4 506.6,989.0 509.9,989.0C513.2,989.0 513.2,991.8 516.2,990.1C519.2,988.4 518.3,985.3 521.3,982.8C524.3,980.3 524.3,981.3 527.6,980.7C530.9,980.1 531.8,981.5 533.8,980.7C535.8,979.9 531.9,977.9 535.0,977.7C538.1,977.5 539.9,979.0 545.4,979.8C550.9,980.6 550.7,982.5 555.7,980.8C560.7,979.1 560.4,975.2 564.0,973.5C567.6,971.8 565.6,976.5 569.2,974.6C572.8,972.7 573.3,968.0 577.5,966.3C581.7,964.6 580.4,968.1 584.8,968.4C589.2,968.7 589.4,969.0 594.1,967.3C598.8,965.6 598.5,962.2 602.4,962.1C606.3,962.0 604.7,966.1 608.6,966.9C612.5,967.7 612.8,965.9 616.9,965.2C621.0,964.5 620.0,962.3 624.1,964.2C628.2,966.1 627.4,968.3 632.4,972.5C637.4,976.7 637.8,975.1 642.8,979.8C647.8,984.5 646.7,984.3 651.1,990.1C655.5,995.9 655.0,991.0 659.4,1001.5C663.8,1012.0 663.0,1016.0 667.7,1029.5C672.4,1043.0 674.5,1046.2 677.0,1052.3" fill="none" stroke="#7E2F8E" stroke-width="2.3" stroke-linejoin="round" stroke-linecap="round"/>
</g>
<clipPath id="clipR3"><rect x="398.3" y="908.3" width="278.7" height="208"/></clipPath>
<rect x="398.3" y="908.3" width="278.7" height="208" fill="none" stroke="#262626" stroke-width="1.1"/>
<path d="M440.25 1116.3v-2.0M440.25 908.3v2.0M464.79 1116.3v-2.0M464.79 908.3v2.0M482.2 1116.3v-2.0M482.2 908.3v2.0M495.7 1116.3v-2.0M495.7 908.3v2.0M506.74 1116.3v-2.0M506.74 908.3v2.0M516.06 1116.3v-2.0M516.06 908.3v2.0M524.15 1116.3v-2.0M524.15 908.3v2.0M531.27 1116.3v-2.0M531.27 908.3v2.0M537.65 1116.3v-3.2M537.65 908.3v3.2M579.6 1116.3v-2.0M579.6 908.3v2.0M604.14 1116.3v-2.0M604.14 908.3v2.0M621.55 1116.3v-2.0M621.55 908.3v2.0M635.05 1116.3v-2.0M635.05 908.3v2.0M646.09 1116.3v-2.0M646.09 908.3v2.0M655.41 1116.3v-2.0M655.41 908.3v2.0M663.5 1116.3v-2.0M663.5 908.3v2.0M670.62 1116.3v-2.0M670.62 908.3v2.0" stroke="#262626" stroke-width="1"/>
<path d="M398.3 1103.78h2.0M677 1103.78h-2.0M398.3 1096.45h2.0M677 1096.45h-2.0M398.3 1091.25h2.0M677 1091.25h-2.0M398.3 1087.22h2.0M677 1087.22h-2.0M398.3 1083.93h2.0M677 1083.93h-2.0M398.3 1081.14h2.0M677 1081.14h-2.0M398.3 1078.73h2.0M677 1078.73h-2.0M398.3 1076.6h2.0M677 1076.6h-2.0M398.3 1074.7h3.2M677 1074.7h-3.2M398.3 1062.18h2.0M677 1062.18h-2.0M398.3 1054.85h2.0M677 1054.85h-2.0M398.3 1049.65h2.0M677 1049.65h-2.0M398.3 1045.62h2.0M677 1045.62h-2.0M398.3 1042.33h2.0M677 1042.33h-2.0M398.3 1039.54h2.0M677 1039.54h-2.0M398.3 1037.13h2.0M677 1037.13h-2.0M398.3 1035h2.0M677 1035h-2.0M398.3 1033.1h3.2M677 1033.1h-3.2M398.3 1020.58h2.0M677 1020.58h-2.0M398.3 1013.25h2.0M677 1013.25h-2.0M398.3 1008.05h2.0M677 1008.05h-2.0M398.3 1004.02h2.0M677 1004.02h-2.0M398.3 1000.73h2.0M677 1000.73h-2.0M398.3 997.94h2.0M677 997.94h-2.0M398.3 995.53h2.0M677 995.53h-2.0M398.3 993.4h2.0M677 993.4h-2.0M398.3 991.5h3.2M677 991.5h-3.2M398.3 978.98h2.0M677 978.98h-2.0M398.3 971.65h2.0M677 971.65h-2.0M398.3 966.45h2.0M677 966.45h-2.0M398.3 962.42h2.0M677 962.42h-2.0M398.3 959.13h2.0M677 959.13h-2.0M398.3 956.34h2.0M677 956.34h-2.0M398.3 953.93h2.0M677 953.93h-2.0M398.3 951.8h2.0M677 951.8h-2.0M398.3 949.9h3.2M677 949.9h-3.2M398.3 937.38h2.0M677 937.38h-2.0M398.3 930.05h2.0M677 930.05h-2.0M398.3 924.85h2.0M677 924.85h-2.0M398.3 920.82h2.0M677 920.82h-2.0M398.3 917.53h2.0M677 917.53h-2.0M398.3 914.74h2.0M677 914.74h-2.0M398.3 912.33h2.0M677 912.33h-2.0M398.3 910.2h2.0M677 910.2h-2.0" stroke="#262626" stroke-width="1"/>
<text x="398.9" y="1137.7" font-size="12.6" text-anchor="middle" font-family='"Liberation Sans", sans-serif'>10<tspan font-size="9.6" dx="0.7" dy="-6.6">-1</tspan></text>
<text x="538.25" y="1137.7" font-size="12.6" text-anchor="middle" font-family='"Liberation Sans", sans-serif'>10<tspan font-size="9.6" dx="0.7" dy="-6.6">0</tspan></text>
<text x="677.6" y="1137.7" font-size="12.6" text-anchor="middle" font-family='"Liberation Sans", sans-serif'>10<tspan font-size="9.6" dx="0.7" dy="-6.6">1</tspan></text>
<text x="393.3" y="1123.7" font-size="12.6" text-anchor="end" font-family='"Liberation Sans", sans-serif'>10<tspan font-size="9.6" dx="0.7" dy="-6.6">-5</tspan></text>
<text x="393.3" y="1082.1" font-size="12.6" text-anchor="end" font-family='"Liberation Sans", sans-serif'>10<tspan font-size="9.6" dx="0.7" dy="-6.6">-4</tspan></text>
<text x="393.3" y="1040.5" font-size="12.6" text-anchor="end" font-family='"Liberation Sans", sans-serif'>10<tspan font-size="9.6" dx="0.7" dy="-6.6">-3</tspan></text>
<text x="393.3" y="998.9" font-size="12.6" text-anchor="end" font-family='"Liberation Sans", sans-serif'>10<tspan font-size="9.6" dx="0.7" dy="-6.6">-2</tspan></text>
<text x="393.3" y="957.3" font-size="12.6" text-anchor="end" font-family='"Liberation Sans", sans-serif'>10<tspan font-size="9.6" dx="0.7" dy="-6.6">-1</tspan></text>
<text x="393.3" y="915.7" font-size="12.6" text-anchor="end" font-family='"Liberation Sans", sans-serif'>10<tspan font-size="9.6" dx="0.7" dy="-6.6">0</tspan></text>
<text transform="translate(364.4 1059.85) rotate(-90)" font-size="15.5" text-anchor="start" font-family='"Liberation Sans", sans-serif'>IFFTI [m/s]</text>
<circle cx="360.3" cy="984.1" r="0.85" fill="#222"/>
<text x="537.65" y="1155.2" font-size="15.5" text-anchor="middle" font-family='"Liberation Sans", sans-serif' >f [Hz]</text>
<text x="538.15" y="1183.9" font-size="18" text-anchor="middle" font-family='"Liberation Serif", serif' >(h)</text>
<text x="440.2" y="942.3" font-size="11.8" text-anchor="start" font-family='"Liberation Sans", sans-serif' >Z=1060m</text>
<path d="M554.4 1059h19.5" stroke="#0072BD" stroke-width="2"/>
<text x="576" y="1064.2" font-size="11.8" text-anchor="start" font-family='"Liberation Sans", sans-serif' >Topo EW</text>
<path d="M554.4 1073.33h19.5" stroke="#D95319" stroke-width="2"/>
<text x="576" y="1078.53" font-size="11.8" text-anchor="start" font-family='"Liberation Sans", sans-serif' >Topo &amp; Bathy EW</text>
<path d="M554.4 1087.66h19.5" stroke="#EDB120" stroke-width="2"/>
<text x="576" y="1092.86" font-size="11.8" text-anchor="start" font-family='"Liberation Sans", sans-serif' >Topo NS</text>
<path d="M554.4 1101.99h19.5" stroke="#7E2F8E" stroke-width="2"/>
<text x="576" y="1107.19" font-size="11.8" text-anchor="start" font-family='"Liberation Sans", sans-serif' >Topo &amp; Bathy NS</text>
</svg></body></html>
